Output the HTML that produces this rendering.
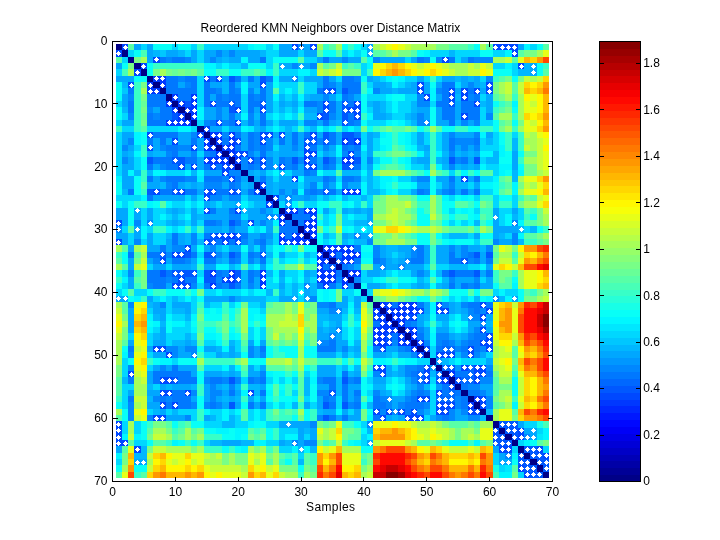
<!DOCTYPE html><html><head><meta charset="utf-8"><title>fig</title><style>html,body{margin:0;padding:0;background:#fff}svg{display:block}text{font-family:"Liberation Sans",sans-serif;fill:#000}</style></head><body>
<svg width="720" height="540" viewBox="0 0 720 540">
<defs><filter id="gs" x="0" y="0" width="720" height="540" filterUnits="userSpaceOnUse" color-interpolation-filters="sRGB"><feColorMatrix type="saturate" values="0"/></filter></defs>
<rect x="0" y="0" width="720" height="540" fill="#fff"/>
<g shape-rendering="crispEdges">
<rect x="116" y="44" width="6" height="6" fill="#000087"/>
<rect x="122" y="44" width="6" height="6" fill="#0048ff"/>
<rect x="128" y="44" width="6" height="6" fill="#58ffa7"/>
<rect x="134" y="44" width="7" height="6" fill="#00a7ff"/>
<rect x="141" y="44" width="6" height="6" fill="#00d7ff"/>
<rect x="147" y="44" width="6" height="6" fill="#00a7ff"/>
<rect x="153" y="44" width="19" height="6" fill="#08fff7"/>
<rect x="172" y="44" width="6" height="6" fill="#00d7ff"/>
<rect x="178" y="44" width="13" height="6" fill="#08fff7"/>
<rect x="191" y="44" width="6" height="6" fill="#00d7ff"/>
<rect x="197" y="44" width="7" height="6" fill="#38ffc7"/>
<rect x="204" y="44" width="44" height="6" fill="#00d7ff"/>
<rect x="248" y="44" width="6" height="6" fill="#00f7ff"/>
<rect x="254" y="44" width="12" height="6" fill="#08fff7"/>
<rect x="266" y="44" width="7" height="6" fill="#00d7ff"/>
<rect x="273" y="44" width="6" height="6" fill="#08fff7"/>
<rect x="279" y="44" width="13" height="6" fill="#00a7ff"/>
<rect x="292" y="44" width="6" height="6" fill="#0048ff"/>
<rect x="298" y="44" width="6" height="6" fill="#0087ff"/>
<rect x="304" y="44" width="6" height="6" fill="#00a7ff"/>
<rect x="310" y="44" width="7" height="6" fill="#0048ff"/>
<rect x="317" y="44" width="6" height="6" fill="#a7ff58"/>
<rect x="323" y="44" width="6" height="6" fill="#38ffc7"/>
<rect x="329" y="44" width="7" height="6" fill="#58ffa7"/>
<rect x="336" y="44" width="6" height="6" fill="#a7ff58"/>
<rect x="342" y="44" width="6" height="6" fill="#08fff7"/>
<rect x="348" y="44" width="6" height="6" fill="#38ffc7"/>
<rect x="354" y="44" width="7" height="6" fill="#08fff7"/>
<rect x="361" y="44" width="6" height="6" fill="#00d7ff"/>
<rect x="367" y="44" width="6" height="6" fill="#00a7ff"/>
<rect x="373" y="44" width="7" height="6" fill="#a7ff58"/>
<rect x="380" y="44" width="6" height="6" fill="#c7ff38"/>
<rect x="386" y="44" width="6" height="6" fill="#e7ff18"/>
<rect x="392" y="44" width="6" height="6" fill="#fff700"/>
<rect x="398" y="44" width="7" height="6" fill="#e7ff18"/>
<rect x="405" y="44" width="6" height="6" fill="#c7ff38"/>
<rect x="411" y="44" width="25" height="6" fill="#a7ff58"/>
<rect x="436" y="44" width="13" height="6" fill="#78ff87"/>
<rect x="449" y="44" width="19" height="6" fill="#58ffa7"/>
<rect x="468" y="44" width="6" height="6" fill="#38ffc7"/>
<rect x="474" y="44" width="6" height="6" fill="#08fff7"/>
<rect x="480" y="44" width="6" height="6" fill="#a7ff58"/>
<rect x="486" y="44" width="7" height="6" fill="#58ffa7"/>
<rect x="493" y="44" width="25" height="6" fill="#0048ff"/>
<rect x="518" y="44" width="6" height="6" fill="#00a7ff"/>
<rect x="524" y="44" width="6" height="6" fill="#00f7ff"/>
<rect x="530" y="44" width="7" height="6" fill="#00d7ff"/>
<rect x="537" y="44" width="6" height="6" fill="#08fff7"/>
<rect x="543" y="44" width="6" height="6" fill="#58ffa7"/>
<rect x="116" y="50" width="6" height="7" fill="#0048ff"/>
<rect x="122" y="50" width="6" height="7" fill="#000087"/>
<rect x="128" y="50" width="6" height="7" fill="#00d7ff"/>
<rect x="134" y="50" width="7" height="7" fill="#08fff7"/>
<rect x="141" y="50" width="6" height="7" fill="#48ffb7"/>
<rect x="147" y="50" width="6" height="7" fill="#00a7ff"/>
<rect x="153" y="50" width="7" height="7" fill="#00b7ff"/>
<rect x="160" y="50" width="6" height="7" fill="#00c7ff"/>
<rect x="166" y="50" width="12" height="7" fill="#00a7ff"/>
<rect x="178" y="50" width="7" height="7" fill="#00b7ff"/>
<rect x="185" y="50" width="6" height="7" fill="#00d7ff"/>
<rect x="191" y="50" width="6" height="7" fill="#00a7ff"/>
<rect x="197" y="50" width="7" height="7" fill="#00d7ff"/>
<rect x="204" y="50" width="12" height="7" fill="#00a7ff"/>
<rect x="216" y="50" width="6" height="7" fill="#0087ff"/>
<rect x="222" y="50" width="7" height="7" fill="#00a7ff"/>
<rect x="229" y="50" width="6" height="7" fill="#0087ff"/>
<rect x="235" y="50" width="25" height="7" fill="#00a7ff"/>
<rect x="260" y="50" width="6" height="7" fill="#00b7ff"/>
<rect x="266" y="50" width="13" height="7" fill="#00d7ff"/>
<rect x="279" y="50" width="19" height="7" fill="#00a7ff"/>
<rect x="298" y="50" width="6" height="7" fill="#00d7ff"/>
<rect x="304" y="50" width="13" height="7" fill="#00a7ff"/>
<rect x="317" y="50" width="6" height="7" fill="#58ffa7"/>
<rect x="323" y="50" width="13" height="7" fill="#08fff7"/>
<rect x="336" y="50" width="6" height="7" fill="#58ffa7"/>
<rect x="342" y="50" width="6" height="7" fill="#00d7ff"/>
<rect x="348" y="50" width="6" height="7" fill="#00f7ff"/>
<rect x="354" y="50" width="7" height="7" fill="#00d7ff"/>
<rect x="361" y="50" width="6" height="7" fill="#08fff7"/>
<rect x="367" y="50" width="6" height="7" fill="#00a7ff"/>
<rect x="373" y="50" width="13" height="7" fill="#58ffa7"/>
<rect x="386" y="50" width="6" height="7" fill="#78ff87"/>
<rect x="392" y="50" width="6" height="7" fill="#a7ff58"/>
<rect x="398" y="50" width="13" height="7" fill="#78ff87"/>
<rect x="411" y="50" width="6" height="7" fill="#58ffa7"/>
<rect x="417" y="50" width="7" height="7" fill="#08fff7"/>
<rect x="424" y="50" width="6" height="7" fill="#00f7ff"/>
<rect x="430" y="50" width="19" height="7" fill="#00d7ff"/>
<rect x="449" y="50" width="6" height="7" fill="#00b7ff"/>
<rect x="455" y="50" width="25" height="7" fill="#00d7ff"/>
<rect x="480" y="50" width="13" height="7" fill="#08fff7"/>
<rect x="493" y="50" width="12" height="7" fill="#00d7ff"/>
<rect x="505" y="50" width="7" height="7" fill="#00f7ff"/>
<rect x="512" y="50" width="6" height="7" fill="#0048ff"/>
<rect x="518" y="50" width="6" height="7" fill="#58ffa7"/>
<rect x="524" y="50" width="13" height="7" fill="#78ff87"/>
<rect x="537" y="50" width="6" height="7" fill="#a7ff58"/>
<rect x="543" y="50" width="6" height="7" fill="#e7ff18"/>
<rect x="116" y="57" width="6" height="6" fill="#58ffa7"/>
<rect x="122" y="57" width="6" height="6" fill="#00d7ff"/>
<rect x="128" y="57" width="6" height="6" fill="#000087"/>
<rect x="134" y="57" width="7" height="6" fill="#78ff87"/>
<rect x="141" y="57" width="6" height="6" fill="#a7ff58"/>
<rect x="147" y="57" width="6" height="6" fill="#00a7ff"/>
<rect x="153" y="57" width="7" height="6" fill="#0048ff"/>
<rect x="160" y="57" width="6" height="6" fill="#0078ff"/>
<rect x="166" y="57" width="6" height="6" fill="#0087ff"/>
<rect x="172" y="57" width="13" height="6" fill="#0078ff"/>
<rect x="185" y="57" width="6" height="6" fill="#0087ff"/>
<rect x="191" y="57" width="6" height="6" fill="#00a7ff"/>
<rect x="197" y="57" width="7" height="6" fill="#00d7ff"/>
<rect x="204" y="57" width="6" height="6" fill="#00a7ff"/>
<rect x="210" y="57" width="6" height="6" fill="#0087ff"/>
<rect x="216" y="57" width="6" height="6" fill="#00a7ff"/>
<rect x="222" y="57" width="7" height="6" fill="#00b7ff"/>
<rect x="229" y="57" width="12" height="6" fill="#00a7ff"/>
<rect x="241" y="57" width="7" height="6" fill="#00f7ff"/>
<rect x="248" y="57" width="12" height="6" fill="#00a7ff"/>
<rect x="260" y="57" width="6" height="6" fill="#0078ff"/>
<rect x="266" y="57" width="7" height="6" fill="#00d7ff"/>
<rect x="273" y="57" width="25" height="6" fill="#08fff7"/>
<rect x="298" y="57" width="6" height="6" fill="#58ffa7"/>
<rect x="304" y="57" width="13" height="6" fill="#00d7ff"/>
<rect x="317" y="57" width="6" height="6" fill="#00a7ff"/>
<rect x="323" y="57" width="6" height="6" fill="#0078ff"/>
<rect x="329" y="57" width="13" height="6" fill="#00a7ff"/>
<rect x="342" y="57" width="6" height="6" fill="#0087ff"/>
<rect x="348" y="57" width="13" height="6" fill="#00a7ff"/>
<rect x="361" y="57" width="6" height="6" fill="#58ffa7"/>
<rect x="367" y="57" width="6" height="6" fill="#08fff7"/>
<rect x="373" y="57" width="7" height="6" fill="#0087ff"/>
<rect x="380" y="57" width="25" height="6" fill="#00a7ff"/>
<rect x="405" y="57" width="6" height="6" fill="#00d7ff"/>
<rect x="411" y="57" width="6" height="6" fill="#00a7ff"/>
<rect x="417" y="57" width="7" height="6" fill="#0078ff"/>
<rect x="424" y="57" width="6" height="6" fill="#0087ff"/>
<rect x="430" y="57" width="6" height="6" fill="#08fff7"/>
<rect x="436" y="57" width="6" height="6" fill="#0087ff"/>
<rect x="442" y="57" width="7" height="6" fill="#0048ff"/>
<rect x="449" y="57" width="6" height="6" fill="#0078ff"/>
<rect x="455" y="57" width="6" height="6" fill="#00d7ff"/>
<rect x="461" y="57" width="7" height="6" fill="#00a7ff"/>
<rect x="468" y="57" width="6" height="6" fill="#0078ff"/>
<rect x="474" y="57" width="19" height="6" fill="#0087ff"/>
<rect x="493" y="57" width="12" height="6" fill="#a7ff58"/>
<rect x="505" y="57" width="7" height="6" fill="#c7ff38"/>
<rect x="512" y="57" width="6" height="6" fill="#58ffa7"/>
<rect x="518" y="57" width="6" height="6" fill="#e7ff18"/>
<rect x="524" y="57" width="6" height="6" fill="#ffb700"/>
<rect x="530" y="57" width="7" height="6" fill="#ffd700"/>
<rect x="537" y="57" width="6" height="6" fill="#ff9700"/>
<rect x="543" y="57" width="6" height="6" fill="#ff4800"/>
<rect x="116" y="63" width="6" height="6" fill="#00a7ff"/>
<rect x="122" y="63" width="6" height="6" fill="#08fff7"/>
<rect x="128" y="63" width="6" height="6" fill="#78ff87"/>
<rect x="134" y="63" width="7" height="6" fill="#000087"/>
<rect x="141" y="63" width="6" height="6" fill="#0048ff"/>
<rect x="147" y="63" width="6" height="6" fill="#08fff7"/>
<rect x="153" y="63" width="51" height="6" fill="#38ffc7"/>
<rect x="204" y="63" width="12" height="6" fill="#00f7ff"/>
<rect x="216" y="63" width="6" height="6" fill="#00d7ff"/>
<rect x="222" y="63" width="7" height="6" fill="#00f7ff"/>
<rect x="229" y="63" width="12" height="6" fill="#00d7ff"/>
<rect x="241" y="63" width="7" height="6" fill="#00b7ff"/>
<rect x="248" y="63" width="18" height="6" fill="#08fff7"/>
<rect x="266" y="63" width="7" height="6" fill="#00d7ff"/>
<rect x="273" y="63" width="6" height="6" fill="#38ffc7"/>
<rect x="279" y="63" width="13" height="6" fill="#00a7ff"/>
<rect x="292" y="63" width="6" height="6" fill="#0087ff"/>
<rect x="298" y="63" width="12" height="6" fill="#00a7ff"/>
<rect x="310" y="63" width="7" height="6" fill="#0087ff"/>
<rect x="317" y="63" width="6" height="6" fill="#a7ff58"/>
<rect x="323" y="63" width="6" height="6" fill="#58ffa7"/>
<rect x="329" y="63" width="7" height="6" fill="#78ff87"/>
<rect x="336" y="63" width="6" height="6" fill="#c7ff38"/>
<rect x="342" y="63" width="6" height="6" fill="#38ffc7"/>
<rect x="348" y="63" width="6" height="6" fill="#58ffa7"/>
<rect x="354" y="63" width="7" height="6" fill="#38ffc7"/>
<rect x="361" y="63" width="6" height="6" fill="#00d7ff"/>
<rect x="367" y="63" width="6" height="6" fill="#00f7ff"/>
<rect x="373" y="63" width="7" height="6" fill="#e7ff18"/>
<rect x="380" y="63" width="6" height="6" fill="#fff700"/>
<rect x="386" y="63" width="6" height="6" fill="#ffd700"/>
<rect x="392" y="63" width="6" height="6" fill="#ffb700"/>
<rect x="398" y="63" width="7" height="6" fill="#ffd700"/>
<rect x="405" y="63" width="6" height="6" fill="#fff700"/>
<rect x="411" y="63" width="6" height="6" fill="#e7ff18"/>
<rect x="417" y="63" width="7" height="6" fill="#c7ff38"/>
<rect x="424" y="63" width="6" height="6" fill="#e7ff18"/>
<rect x="430" y="63" width="6" height="6" fill="#fff700"/>
<rect x="436" y="63" width="6" height="6" fill="#e7ff18"/>
<rect x="442" y="63" width="7" height="6" fill="#c7ff38"/>
<rect x="449" y="63" width="19" height="6" fill="#a7ff58"/>
<rect x="468" y="63" width="6" height="6" fill="#c7ff38"/>
<rect x="474" y="63" width="6" height="6" fill="#a7ff58"/>
<rect x="480" y="63" width="6" height="6" fill="#e7ff18"/>
<rect x="486" y="63" width="7" height="6" fill="#c7ff38"/>
<rect x="493" y="63" width="12" height="6" fill="#00d7ff"/>
<rect x="505" y="63" width="7" height="6" fill="#00f7ff"/>
<rect x="512" y="63" width="6" height="6" fill="#00d7ff"/>
<rect x="518" y="63" width="6" height="6" fill="#0048ff"/>
<rect x="524" y="63" width="6" height="6" fill="#00b7ff"/>
<rect x="530" y="63" width="7" height="6" fill="#00a7ff"/>
<rect x="537" y="63" width="6" height="6" fill="#08fff7"/>
<rect x="543" y="63" width="6" height="6" fill="#38ffc7"/>
<rect x="116" y="69" width="6" height="7" fill="#00d7ff"/>
<rect x="122" y="69" width="6" height="7" fill="#48ffb7"/>
<rect x="128" y="69" width="6" height="7" fill="#a7ff58"/>
<rect x="134" y="69" width="7" height="7" fill="#0048ff"/>
<rect x="141" y="69" width="6" height="7" fill="#000087"/>
<rect x="147" y="69" width="6" height="7" fill="#08fff7"/>
<rect x="153" y="69" width="7" height="7" fill="#78ff87"/>
<rect x="160" y="69" width="6" height="7" fill="#a7ff58"/>
<rect x="166" y="69" width="6" height="7" fill="#78ff87"/>
<rect x="172" y="69" width="6" height="7" fill="#68ff97"/>
<rect x="178" y="69" width="7" height="7" fill="#78ff87"/>
<rect x="185" y="69" width="6" height="7" fill="#68ff97"/>
<rect x="191" y="69" width="6" height="7" fill="#78ff87"/>
<rect x="197" y="69" width="7" height="7" fill="#58ffa7"/>
<rect x="204" y="69" width="12" height="7" fill="#08fff7"/>
<rect x="216" y="69" width="13" height="7" fill="#38ffc7"/>
<rect x="229" y="69" width="12" height="7" fill="#08fff7"/>
<rect x="241" y="69" width="13" height="7" fill="#38ffc7"/>
<rect x="254" y="69" width="6" height="7" fill="#58ffa7"/>
<rect x="260" y="69" width="6" height="7" fill="#38ffc7"/>
<rect x="266" y="69" width="7" height="7" fill="#00f7ff"/>
<rect x="273" y="69" width="6" height="7" fill="#38ffc7"/>
<rect x="279" y="69" width="19" height="7" fill="#00d7ff"/>
<rect x="298" y="69" width="12" height="7" fill="#00f7ff"/>
<rect x="310" y="69" width="7" height="7" fill="#00d7ff"/>
<rect x="317" y="69" width="6" height="7" fill="#c7ff38"/>
<rect x="323" y="69" width="6" height="7" fill="#a7ff58"/>
<rect x="329" y="69" width="7" height="7" fill="#c7ff38"/>
<rect x="336" y="69" width="6" height="7" fill="#e7ff18"/>
<rect x="342" y="69" width="19" height="7" fill="#78ff87"/>
<rect x="361" y="69" width="6" height="7" fill="#00d7ff"/>
<rect x="367" y="69" width="6" height="7" fill="#38ffc7"/>
<rect x="373" y="69" width="7" height="7" fill="#fff700"/>
<rect x="380" y="69" width="6" height="7" fill="#ffd700"/>
<rect x="386" y="69" width="6" height="7" fill="#ffb700"/>
<rect x="392" y="69" width="6" height="7" fill="#ff9700"/>
<rect x="398" y="69" width="7" height="7" fill="#ffb700"/>
<rect x="405" y="69" width="6" height="7" fill="#ffd700"/>
<rect x="411" y="69" width="6" height="7" fill="#fff700"/>
<rect x="417" y="69" width="7" height="7" fill="#e7ff18"/>
<rect x="424" y="69" width="6" height="7" fill="#fff700"/>
<rect x="430" y="69" width="6" height="7" fill="#ffd700"/>
<rect x="436" y="69" width="6" height="7" fill="#fff700"/>
<rect x="442" y="69" width="7" height="7" fill="#e7ff18"/>
<rect x="449" y="69" width="6" height="7" fill="#c7ff38"/>
<rect x="455" y="69" width="13" height="7" fill="#a7ff58"/>
<rect x="468" y="69" width="12" height="7" fill="#c7ff38"/>
<rect x="480" y="69" width="6" height="7" fill="#fff700"/>
<rect x="486" y="69" width="7" height="7" fill="#e7ff18"/>
<rect x="493" y="69" width="19" height="7" fill="#08fff7"/>
<rect x="512" y="69" width="6" height="7" fill="#00d7ff"/>
<rect x="518" y="69" width="12" height="7" fill="#00b7ff"/>
<rect x="530" y="69" width="7" height="7" fill="#00a7ff"/>
<rect x="537" y="69" width="6" height="7" fill="#08fff7"/>
<rect x="543" y="69" width="6" height="7" fill="#58ffa7"/>
<rect x="116" y="76" width="6" height="6" fill="#00a7ff"/>
<rect x="122" y="76" width="12" height="6" fill="#00a7ff"/>
<rect x="134" y="76" width="13" height="6" fill="#08fff7"/>
<rect x="147" y="76" width="6" height="6" fill="#000087"/>
<rect x="153" y="76" width="13" height="6" fill="#0038ff"/>
<rect x="166" y="76" width="12" height="6" fill="#0078ff"/>
<rect x="178" y="76" width="7" height="6" fill="#0087ff"/>
<rect x="185" y="76" width="12" height="6" fill="#0078ff"/>
<rect x="197" y="76" width="7" height="6" fill="#00d7ff"/>
<rect x="204" y="76" width="6" height="6" fill="#0048ff"/>
<rect x="210" y="76" width="6" height="6" fill="#0078ff"/>
<rect x="216" y="76" width="6" height="6" fill="#0048ff"/>
<rect x="222" y="76" width="7" height="6" fill="#00a7ff"/>
<rect x="229" y="76" width="6" height="6" fill="#0058ff"/>
<rect x="235" y="76" width="6" height="6" fill="#0078ff"/>
<rect x="241" y="76" width="7" height="6" fill="#00b7ff"/>
<rect x="248" y="76" width="6" height="6" fill="#0078ff"/>
<rect x="254" y="76" width="6" height="6" fill="#00a7ff"/>
<rect x="260" y="76" width="6" height="6" fill="#0058ff"/>
<rect x="266" y="76" width="7" height="6" fill="#0078ff"/>
<rect x="273" y="76" width="6" height="6" fill="#00f7ff"/>
<rect x="279" y="76" width="13" height="6" fill="#00a7ff"/>
<rect x="292" y="76" width="6" height="6" fill="#0087ff"/>
<rect x="298" y="76" width="6" height="6" fill="#00d7ff"/>
<rect x="304" y="76" width="19" height="6" fill="#00a7ff"/>
<rect x="323" y="76" width="6" height="6" fill="#0078ff"/>
<rect x="329" y="76" width="7" height="6" fill="#00a7ff"/>
<rect x="336" y="76" width="6" height="6" fill="#00d7ff"/>
<rect x="342" y="76" width="12" height="6" fill="#0078ff"/>
<rect x="354" y="76" width="7" height="6" fill="#0087ff"/>
<rect x="361" y="76" width="6" height="6" fill="#08fff7"/>
<rect x="367" y="76" width="6" height="6" fill="#00a7ff"/>
<rect x="373" y="76" width="7" height="6" fill="#00b7ff"/>
<rect x="380" y="76" width="6" height="6" fill="#00d7ff"/>
<rect x="386" y="76" width="6" height="6" fill="#00f7ff"/>
<rect x="392" y="76" width="6" height="6" fill="#08fff7"/>
<rect x="398" y="76" width="7" height="6" fill="#00f7ff"/>
<rect x="405" y="76" width="12" height="6" fill="#00d7ff"/>
<rect x="417" y="76" width="7" height="6" fill="#00a7ff"/>
<rect x="424" y="76" width="6" height="6" fill="#00d7ff"/>
<rect x="430" y="76" width="6" height="6" fill="#38ffc7"/>
<rect x="436" y="76" width="6" height="6" fill="#00d7ff"/>
<rect x="442" y="76" width="13" height="6" fill="#00a7ff"/>
<rect x="455" y="76" width="6" height="6" fill="#00b7ff"/>
<rect x="461" y="76" width="7" height="6" fill="#00a7ff"/>
<rect x="468" y="76" width="6" height="6" fill="#00b7ff"/>
<rect x="474" y="76" width="6" height="6" fill="#00a7ff"/>
<rect x="480" y="76" width="6" height="6" fill="#00d7ff"/>
<rect x="486" y="76" width="7" height="6" fill="#0087ff"/>
<rect x="493" y="76" width="6" height="6" fill="#38ffc7"/>
<rect x="499" y="76" width="6" height="6" fill="#58ffa7"/>
<rect x="505" y="76" width="7" height="6" fill="#78ff87"/>
<rect x="512" y="76" width="6" height="6" fill="#08fff7"/>
<rect x="518" y="76" width="6" height="6" fill="#78ff87"/>
<rect x="524" y="76" width="6" height="6" fill="#c7ff38"/>
<rect x="530" y="76" width="7" height="6" fill="#a7ff58"/>
<rect x="537" y="76" width="6" height="6" fill="#c7ff38"/>
<rect x="543" y="76" width="6" height="6" fill="#ffd700"/>
<rect x="116" y="82" width="6" height="6" fill="#08fff7"/>
<rect x="122" y="82" width="6" height="6" fill="#00b7ff"/>
<rect x="128" y="82" width="6" height="6" fill="#0048ff"/>
<rect x="134" y="82" width="7" height="6" fill="#38ffc7"/>
<rect x="141" y="82" width="6" height="6" fill="#78ff87"/>
<rect x="147" y="82" width="6" height="6" fill="#0038ff"/>
<rect x="153" y="82" width="7" height="6" fill="#000087"/>
<rect x="160" y="82" width="6" height="6" fill="#0038ff"/>
<rect x="166" y="82" width="12" height="6" fill="#0078ff"/>
<rect x="178" y="82" width="7" height="6" fill="#00a7ff"/>
<rect x="185" y="82" width="6" height="6" fill="#0087ff"/>
<rect x="191" y="82" width="6" height="6" fill="#0078ff"/>
<rect x="197" y="82" width="7" height="6" fill="#00d7ff"/>
<rect x="204" y="82" width="6" height="6" fill="#0078ff"/>
<rect x="210" y="82" width="12" height="6" fill="#00a7ff"/>
<rect x="222" y="82" width="7" height="6" fill="#00b7ff"/>
<rect x="229" y="82" width="6" height="6" fill="#0078ff"/>
<rect x="235" y="82" width="6" height="6" fill="#00a7ff"/>
<rect x="241" y="82" width="7" height="6" fill="#00f7ff"/>
<rect x="248" y="82" width="12" height="6" fill="#00a7ff"/>
<rect x="260" y="82" width="6" height="6" fill="#0048ff"/>
<rect x="266" y="82" width="7" height="6" fill="#00a7ff"/>
<rect x="273" y="82" width="6" height="6" fill="#08fff7"/>
<rect x="279" y="82" width="19" height="6" fill="#00d7ff"/>
<rect x="298" y="82" width="6" height="6" fill="#38ffc7"/>
<rect x="304" y="82" width="13" height="6" fill="#00d7ff"/>
<rect x="317" y="82" width="6" height="6" fill="#00a7ff"/>
<rect x="323" y="82" width="6" height="6" fill="#0078ff"/>
<rect x="329" y="82" width="7" height="6" fill="#0087ff"/>
<rect x="336" y="82" width="6" height="6" fill="#00a7ff"/>
<rect x="342" y="82" width="19" height="6" fill="#0078ff"/>
<rect x="361" y="82" width="6" height="6" fill="#38ffc7"/>
<rect x="367" y="82" width="6" height="6" fill="#00d7ff"/>
<rect x="373" y="82" width="13" height="6" fill="#00a7ff"/>
<rect x="386" y="82" width="6" height="6" fill="#00b7ff"/>
<rect x="392" y="82" width="6" height="6" fill="#00f7ff"/>
<rect x="398" y="82" width="7" height="6" fill="#00d7ff"/>
<rect x="405" y="82" width="6" height="6" fill="#00b7ff"/>
<rect x="411" y="82" width="6" height="6" fill="#00a7ff"/>
<rect x="417" y="82" width="7" height="6" fill="#0048ff"/>
<rect x="424" y="82" width="6" height="6" fill="#00a7ff"/>
<rect x="430" y="82" width="6" height="6" fill="#08fff7"/>
<rect x="436" y="82" width="6" height="6" fill="#00a7ff"/>
<rect x="442" y="82" width="13" height="6" fill="#0078ff"/>
<rect x="455" y="82" width="6" height="6" fill="#00d7ff"/>
<rect x="461" y="82" width="7" height="6" fill="#00a7ff"/>
<rect x="468" y="82" width="6" height="6" fill="#0087ff"/>
<rect x="474" y="82" width="6" height="6" fill="#00a7ff"/>
<rect x="480" y="82" width="6" height="6" fill="#00b7ff"/>
<rect x="486" y="82" width="7" height="6" fill="#0048ff"/>
<rect x="493" y="82" width="6" height="6" fill="#78ff87"/>
<rect x="499" y="82" width="6" height="6" fill="#a7ff58"/>
<rect x="505" y="82" width="7" height="6" fill="#c7ff38"/>
<rect x="512" y="82" width="6" height="6" fill="#58ffa7"/>
<rect x="518" y="82" width="6" height="6" fill="#c7ff38"/>
<rect x="524" y="82" width="6" height="6" fill="#ffd700"/>
<rect x="530" y="82" width="7" height="6" fill="#fff700"/>
<rect x="537" y="82" width="6" height="6" fill="#ffd700"/>
<rect x="543" y="82" width="6" height="6" fill="#ff9700"/>
<rect x="116" y="88" width="6" height="6" fill="#08fff7"/>
<rect x="122" y="88" width="6" height="6" fill="#00c7ff"/>
<rect x="128" y="88" width="6" height="6" fill="#0078ff"/>
<rect x="134" y="88" width="7" height="6" fill="#38ffc7"/>
<rect x="141" y="88" width="6" height="6" fill="#a7ff58"/>
<rect x="147" y="88" width="13" height="6" fill="#0038ff"/>
<rect x="160" y="88" width="6" height="6" fill="#000087"/>
<rect x="166" y="88" width="31" height="6" fill="#0078ff"/>
<rect x="197" y="88" width="7" height="6" fill="#00d7ff"/>
<rect x="204" y="88" width="12" height="6" fill="#0078ff"/>
<rect x="216" y="88" width="6" height="6" fill="#0087ff"/>
<rect x="222" y="88" width="7" height="6" fill="#00b7ff"/>
<rect x="229" y="88" width="6" height="6" fill="#0078ff"/>
<rect x="235" y="88" width="6" height="6" fill="#0087ff"/>
<rect x="241" y="88" width="7" height="6" fill="#00f7ff"/>
<rect x="248" y="88" width="6" height="6" fill="#0087ff"/>
<rect x="254" y="88" width="6" height="6" fill="#00b7ff"/>
<rect x="260" y="88" width="6" height="6" fill="#0078ff"/>
<rect x="266" y="88" width="7" height="6" fill="#00a7ff"/>
<rect x="273" y="88" width="6" height="6" fill="#58ffa7"/>
<rect x="279" y="88" width="6" height="6" fill="#00d7ff"/>
<rect x="285" y="88" width="7" height="6" fill="#00f7ff"/>
<rect x="292" y="88" width="6" height="6" fill="#00d7ff"/>
<rect x="298" y="88" width="6" height="6" fill="#38ffc7"/>
<rect x="304" y="88" width="13" height="6" fill="#00d7ff"/>
<rect x="317" y="88" width="6" height="6" fill="#0078ff"/>
<rect x="323" y="88" width="6" height="6" fill="#0058ff"/>
<rect x="329" y="88" width="7" height="6" fill="#0048ff"/>
<rect x="336" y="88" width="6" height="6" fill="#00a7ff"/>
<rect x="342" y="88" width="6" height="6" fill="#0058ff"/>
<rect x="348" y="88" width="13" height="6" fill="#0078ff"/>
<rect x="361" y="88" width="6" height="6" fill="#38ffc7"/>
<rect x="367" y="88" width="6" height="6" fill="#00f7ff"/>
<rect x="373" y="88" width="7" height="6" fill="#0087ff"/>
<rect x="380" y="88" width="12" height="6" fill="#00a7ff"/>
<rect x="392" y="88" width="6" height="6" fill="#00b7ff"/>
<rect x="398" y="88" width="19" height="6" fill="#00a7ff"/>
<rect x="417" y="88" width="7" height="6" fill="#0048ff"/>
<rect x="424" y="88" width="6" height="6" fill="#00a7ff"/>
<rect x="430" y="88" width="6" height="6" fill="#00f7ff"/>
<rect x="436" y="88" width="6" height="6" fill="#0087ff"/>
<rect x="442" y="88" width="7" height="6" fill="#0078ff"/>
<rect x="449" y="88" width="6" height="6" fill="#0048ff"/>
<rect x="455" y="88" width="6" height="6" fill="#00a7ff"/>
<rect x="461" y="88" width="7" height="6" fill="#0048ff"/>
<rect x="468" y="88" width="6" height="6" fill="#0078ff"/>
<rect x="474" y="88" width="6" height="6" fill="#0048ff"/>
<rect x="480" y="88" width="6" height="6" fill="#00a7ff"/>
<rect x="486" y="88" width="7" height="6" fill="#0048ff"/>
<rect x="493" y="88" width="6" height="6" fill="#78ff87"/>
<rect x="499" y="88" width="6" height="6" fill="#a7ff58"/>
<rect x="505" y="88" width="7" height="6" fill="#c7ff38"/>
<rect x="512" y="88" width="6" height="6" fill="#58ffa7"/>
<rect x="518" y="88" width="6" height="6" fill="#c7ff38"/>
<rect x="524" y="88" width="6" height="6" fill="#ffb700"/>
<rect x="530" y="88" width="7" height="6" fill="#ffd700"/>
<rect x="537" y="88" width="6" height="6" fill="#ffb700"/>
<rect x="543" y="88" width="6" height="6" fill="#ff7800"/>
<rect x="116" y="94" width="6" height="7" fill="#08fff7"/>
<rect x="122" y="94" width="6" height="7" fill="#00a7ff"/>
<rect x="128" y="94" width="6" height="7" fill="#0087ff"/>
<rect x="134" y="94" width="7" height="7" fill="#38ffc7"/>
<rect x="141" y="94" width="6" height="7" fill="#78ff87"/>
<rect x="147" y="94" width="19" height="7" fill="#0078ff"/>
<rect x="166" y="94" width="6" height="7" fill="#000087"/>
<rect x="172" y="94" width="6" height="7" fill="#0038ff"/>
<rect x="178" y="94" width="13" height="7" fill="#0078ff"/>
<rect x="191" y="94" width="6" height="7" fill="#0038ff"/>
<rect x="197" y="94" width="7" height="7" fill="#00d7ff"/>
<rect x="204" y="94" width="6" height="7" fill="#0078ff"/>
<rect x="210" y="94" width="6" height="7" fill="#00a7ff"/>
<rect x="216" y="94" width="6" height="7" fill="#0078ff"/>
<rect x="222" y="94" width="7" height="7" fill="#0087ff"/>
<rect x="229" y="94" width="12" height="7" fill="#0078ff"/>
<rect x="241" y="94" width="7" height="7" fill="#00d7ff"/>
<rect x="248" y="94" width="6" height="7" fill="#0078ff"/>
<rect x="254" y="94" width="6" height="7" fill="#0087ff"/>
<rect x="260" y="94" width="6" height="7" fill="#0078ff"/>
<rect x="266" y="94" width="7" height="7" fill="#00a7ff"/>
<rect x="273" y="94" width="6" height="7" fill="#00f7ff"/>
<rect x="279" y="94" width="6" height="7" fill="#00b7ff"/>
<rect x="285" y="94" width="7" height="7" fill="#00d7ff"/>
<rect x="292" y="94" width="6" height="7" fill="#00b7ff"/>
<rect x="298" y="94" width="6" height="7" fill="#00f7ff"/>
<rect x="304" y="94" width="6" height="7" fill="#00b7ff"/>
<rect x="310" y="94" width="13" height="7" fill="#00a7ff"/>
<rect x="323" y="94" width="6" height="7" fill="#0087ff"/>
<rect x="329" y="94" width="7" height="7" fill="#00a7ff"/>
<rect x="336" y="94" width="6" height="7" fill="#00d7ff"/>
<rect x="342" y="94" width="6" height="7" fill="#0078ff"/>
<rect x="348" y="94" width="6" height="7" fill="#0087ff"/>
<rect x="354" y="94" width="7" height="7" fill="#00a7ff"/>
<rect x="361" y="94" width="6" height="7" fill="#08fff7"/>
<rect x="367" y="94" width="19" height="7" fill="#00d7ff"/>
<rect x="386" y="94" width="6" height="7" fill="#00f7ff"/>
<rect x="392" y="94" width="13" height="7" fill="#08fff7"/>
<rect x="405" y="94" width="12" height="7" fill="#00d7ff"/>
<rect x="417" y="94" width="7" height="7" fill="#0087ff"/>
<rect x="424" y="94" width="6" height="7" fill="#0048ff"/>
<rect x="430" y="94" width="6" height="7" fill="#00f7ff"/>
<rect x="436" y="94" width="6" height="7" fill="#00a7ff"/>
<rect x="442" y="94" width="7" height="7" fill="#0078ff"/>
<rect x="449" y="94" width="6" height="7" fill="#0048ff"/>
<rect x="455" y="94" width="6" height="7" fill="#00b7ff"/>
<rect x="461" y="94" width="7" height="7" fill="#0048ff"/>
<rect x="468" y="94" width="6" height="7" fill="#0087ff"/>
<rect x="474" y="94" width="6" height="7" fill="#0078ff"/>
<rect x="480" y="94" width="6" height="7" fill="#00d7ff"/>
<rect x="486" y="94" width="7" height="7" fill="#00a7ff"/>
<rect x="493" y="94" width="6" height="7" fill="#58ffa7"/>
<rect x="499" y="94" width="6" height="7" fill="#78ff87"/>
<rect x="505" y="94" width="7" height="7" fill="#a7ff58"/>
<rect x="512" y="94" width="6" height="7" fill="#38ffc7"/>
<rect x="518" y="94" width="6" height="7" fill="#a7ff58"/>
<rect x="524" y="94" width="6" height="7" fill="#fff700"/>
<rect x="530" y="94" width="7" height="7" fill="#e7ff18"/>
<rect x="537" y="94" width="6" height="7" fill="#fff700"/>
<rect x="543" y="94" width="6" height="7" fill="#ffb700"/>
<rect x="116" y="101" width="6" height="6" fill="#00d7ff"/>
<rect x="122" y="101" width="6" height="6" fill="#00a7ff"/>
<rect x="128" y="101" width="6" height="6" fill="#0078ff"/>
<rect x="134" y="101" width="7" height="6" fill="#38ffc7"/>
<rect x="141" y="101" width="6" height="6" fill="#68ff97"/>
<rect x="147" y="101" width="19" height="6" fill="#0078ff"/>
<rect x="166" y="101" width="6" height="6" fill="#0038ff"/>
<rect x="172" y="101" width="6" height="6" fill="#000087"/>
<rect x="178" y="101" width="7" height="6" fill="#0038ff"/>
<rect x="185" y="101" width="6" height="6" fill="#0058ff"/>
<rect x="191" y="101" width="6" height="6" fill="#0038ff"/>
<rect x="197" y="101" width="7" height="6" fill="#00d7ff"/>
<rect x="204" y="101" width="6" height="6" fill="#0078ff"/>
<rect x="210" y="101" width="6" height="6" fill="#0048ff"/>
<rect x="216" y="101" width="13" height="6" fill="#0078ff"/>
<rect x="229" y="101" width="6" height="6" fill="#0058ff"/>
<rect x="235" y="101" width="6" height="6" fill="#0078ff"/>
<rect x="241" y="101" width="7" height="6" fill="#00d7ff"/>
<rect x="248" y="101" width="12" height="6" fill="#0078ff"/>
<rect x="260" y="101" width="6" height="6" fill="#0058ff"/>
<rect x="266" y="101" width="7" height="6" fill="#00a7ff"/>
<rect x="273" y="101" width="6" height="6" fill="#00d7ff"/>
<rect x="279" y="101" width="6" height="6" fill="#00a7ff"/>
<rect x="285" y="101" width="7" height="6" fill="#00b7ff"/>
<rect x="292" y="101" width="6" height="6" fill="#00a7ff"/>
<rect x="298" y="101" width="6" height="6" fill="#00d7ff"/>
<rect x="304" y="101" width="13" height="6" fill="#0078ff"/>
<rect x="317" y="101" width="6" height="6" fill="#0087ff"/>
<rect x="323" y="101" width="6" height="6" fill="#0048ff"/>
<rect x="329" y="101" width="7" height="6" fill="#0078ff"/>
<rect x="336" y="101" width="6" height="6" fill="#00a7ff"/>
<rect x="342" y="101" width="6" height="6" fill="#0058ff"/>
<rect x="348" y="101" width="6" height="6" fill="#0078ff"/>
<rect x="354" y="101" width="7" height="6" fill="#0048ff"/>
<rect x="361" y="101" width="6" height="6" fill="#08fff7"/>
<rect x="367" y="101" width="6" height="6" fill="#00b7ff"/>
<rect x="373" y="101" width="7" height="6" fill="#00a7ff"/>
<rect x="380" y="101" width="6" height="6" fill="#00b7ff"/>
<rect x="386" y="101" width="6" height="6" fill="#00d7ff"/>
<rect x="392" y="101" width="6" height="6" fill="#00f7ff"/>
<rect x="398" y="101" width="13" height="6" fill="#00d7ff"/>
<rect x="411" y="101" width="6" height="6" fill="#00b7ff"/>
<rect x="417" y="101" width="13" height="6" fill="#0087ff"/>
<rect x="430" y="101" width="6" height="6" fill="#00d7ff"/>
<rect x="436" y="101" width="13" height="6" fill="#0078ff"/>
<rect x="449" y="101" width="6" height="6" fill="#0058ff"/>
<rect x="455" y="101" width="6" height="6" fill="#00a7ff"/>
<rect x="461" y="101" width="13" height="6" fill="#0078ff"/>
<rect x="474" y="101" width="6" height="6" fill="#0048ff"/>
<rect x="480" y="101" width="6" height="6" fill="#00b7ff"/>
<rect x="486" y="101" width="7" height="6" fill="#00a7ff"/>
<rect x="493" y="101" width="6" height="6" fill="#08fff7"/>
<rect x="499" y="101" width="6" height="6" fill="#38ffc7"/>
<rect x="505" y="101" width="7" height="6" fill="#58ffa7"/>
<rect x="512" y="101" width="6" height="6" fill="#00f7ff"/>
<rect x="518" y="101" width="6" height="6" fill="#a7ff58"/>
<rect x="524" y="101" width="6" height="6" fill="#e7ff18"/>
<rect x="530" y="101" width="7" height="6" fill="#c7ff38"/>
<rect x="537" y="101" width="6" height="6" fill="#fff700"/>
<rect x="543" y="101" width="6" height="6" fill="#ffb700"/>
<rect x="116" y="107" width="6" height="6" fill="#08fff7"/>
<rect x="122" y="107" width="6" height="6" fill="#00b7ff"/>
<rect x="128" y="107" width="6" height="6" fill="#0078ff"/>
<rect x="134" y="107" width="7" height="6" fill="#38ffc7"/>
<rect x="141" y="107" width="6" height="6" fill="#78ff87"/>
<rect x="147" y="107" width="6" height="6" fill="#0087ff"/>
<rect x="153" y="107" width="7" height="6" fill="#00a7ff"/>
<rect x="160" y="107" width="12" height="6" fill="#0078ff"/>
<rect x="172" y="107" width="6" height="6" fill="#0038ff"/>
<rect x="178" y="107" width="7" height="6" fill="#000087"/>
<rect x="185" y="107" width="12" height="6" fill="#0038ff"/>
<rect x="197" y="107" width="7" height="6" fill="#00f7ff"/>
<rect x="204" y="107" width="12" height="6" fill="#00a7ff"/>
<rect x="216" y="107" width="6" height="6" fill="#0087ff"/>
<rect x="222" y="107" width="7" height="6" fill="#00a7ff"/>
<rect x="229" y="107" width="6" height="6" fill="#0058ff"/>
<rect x="235" y="107" width="6" height="6" fill="#0048ff"/>
<rect x="241" y="107" width="7" height="6" fill="#00d7ff"/>
<rect x="248" y="107" width="6" height="6" fill="#0078ff"/>
<rect x="254" y="107" width="6" height="6" fill="#00a7ff"/>
<rect x="260" y="107" width="6" height="6" fill="#0048ff"/>
<rect x="266" y="107" width="7" height="6" fill="#00a7ff"/>
<rect x="273" y="107" width="6" height="6" fill="#00d7ff"/>
<rect x="279" y="107" width="6" height="6" fill="#00b7ff"/>
<rect x="285" y="107" width="7" height="6" fill="#00d7ff"/>
<rect x="292" y="107" width="6" height="6" fill="#00b7ff"/>
<rect x="298" y="107" width="6" height="6" fill="#00f7ff"/>
<rect x="304" y="107" width="13" height="6" fill="#00a7ff"/>
<rect x="317" y="107" width="6" height="6" fill="#0087ff"/>
<rect x="323" y="107" width="6" height="6" fill="#0048ff"/>
<rect x="329" y="107" width="7" height="6" fill="#0078ff"/>
<rect x="336" y="107" width="6" height="6" fill="#00a7ff"/>
<rect x="342" y="107" width="6" height="6" fill="#0058ff"/>
<rect x="348" y="107" width="13" height="6" fill="#0048ff"/>
<rect x="361" y="107" width="6" height="6" fill="#08fff7"/>
<rect x="367" y="107" width="6" height="6" fill="#00d7ff"/>
<rect x="373" y="107" width="7" height="6" fill="#00a7ff"/>
<rect x="380" y="107" width="6" height="6" fill="#00b7ff"/>
<rect x="386" y="107" width="6" height="6" fill="#00d7ff"/>
<rect x="392" y="107" width="6" height="6" fill="#00f7ff"/>
<rect x="398" y="107" width="13" height="6" fill="#00d7ff"/>
<rect x="411" y="107" width="6" height="6" fill="#00b7ff"/>
<rect x="417" y="107" width="13" height="6" fill="#00a7ff"/>
<rect x="430" y="107" width="6" height="6" fill="#08fff7"/>
<rect x="436" y="107" width="6" height="6" fill="#00a7ff"/>
<rect x="442" y="107" width="13" height="6" fill="#0078ff"/>
<rect x="455" y="107" width="6" height="6" fill="#00a7ff"/>
<rect x="461" y="107" width="19" height="6" fill="#0078ff"/>
<rect x="480" y="107" width="6" height="6" fill="#00d7ff"/>
<rect x="486" y="107" width="7" height="6" fill="#00a7ff"/>
<rect x="493" y="107" width="6" height="6" fill="#38ffc7"/>
<rect x="499" y="107" width="6" height="6" fill="#58ffa7"/>
<rect x="505" y="107" width="7" height="6" fill="#78ff87"/>
<rect x="512" y="107" width="6" height="6" fill="#08fff7"/>
<rect x="518" y="107" width="6" height="6" fill="#a7ff58"/>
<rect x="524" y="107" width="13" height="6" fill="#e7ff18"/>
<rect x="537" y="107" width="6" height="6" fill="#fff700"/>
<rect x="543" y="107" width="6" height="6" fill="#ffb700"/>
<rect x="116" y="113" width="6" height="7" fill="#08fff7"/>
<rect x="122" y="113" width="6" height="7" fill="#00d7ff"/>
<rect x="128" y="113" width="6" height="7" fill="#0087ff"/>
<rect x="134" y="113" width="7" height="7" fill="#38ffc7"/>
<rect x="141" y="113" width="6" height="7" fill="#68ff97"/>
<rect x="147" y="113" width="6" height="7" fill="#0078ff"/>
<rect x="153" y="113" width="7" height="7" fill="#0087ff"/>
<rect x="160" y="113" width="12" height="7" fill="#0078ff"/>
<rect x="172" y="113" width="6" height="7" fill="#0058ff"/>
<rect x="178" y="113" width="7" height="7" fill="#0038ff"/>
<rect x="185" y="113" width="6" height="7" fill="#000087"/>
<rect x="191" y="113" width="6" height="7" fill="#0038ff"/>
<rect x="197" y="113" width="7" height="7" fill="#00f7ff"/>
<rect x="204" y="113" width="12" height="7" fill="#00a7ff"/>
<rect x="216" y="113" width="6" height="7" fill="#0087ff"/>
<rect x="222" y="113" width="7" height="7" fill="#00a7ff"/>
<rect x="229" y="113" width="6" height="7" fill="#0078ff"/>
<rect x="235" y="113" width="6" height="7" fill="#00a7ff"/>
<rect x="241" y="113" width="7" height="7" fill="#00f7ff"/>
<rect x="248" y="113" width="6" height="7" fill="#0087ff"/>
<rect x="254" y="113" width="6" height="7" fill="#00b7ff"/>
<rect x="260" y="113" width="6" height="7" fill="#0078ff"/>
<rect x="266" y="113" width="7" height="7" fill="#00d7ff"/>
<rect x="273" y="113" width="6" height="7" fill="#00f7ff"/>
<rect x="279" y="113" width="6" height="7" fill="#00d7ff"/>
<rect x="285" y="113" width="7" height="7" fill="#00f7ff"/>
<rect x="292" y="113" width="6" height="7" fill="#00d7ff"/>
<rect x="298" y="113" width="6" height="7" fill="#38ffc7"/>
<rect x="304" y="113" width="13" height="7" fill="#00b7ff"/>
<rect x="317" y="113" width="6" height="7" fill="#0048ff"/>
<rect x="323" y="113" width="6" height="7" fill="#0058ff"/>
<rect x="329" y="113" width="7" height="7" fill="#0087ff"/>
<rect x="336" y="113" width="6" height="7" fill="#00a7ff"/>
<rect x="342" y="113" width="6" height="7" fill="#0058ff"/>
<rect x="348" y="113" width="6" height="7" fill="#0078ff"/>
<rect x="354" y="113" width="7" height="7" fill="#0048ff"/>
<rect x="361" y="113" width="6" height="7" fill="#38ffc7"/>
<rect x="367" y="113" width="6" height="7" fill="#00f7ff"/>
<rect x="373" y="113" width="13" height="7" fill="#00a7ff"/>
<rect x="386" y="113" width="6" height="7" fill="#00b7ff"/>
<rect x="392" y="113" width="13" height="7" fill="#00d7ff"/>
<rect x="405" y="113" width="6" height="7" fill="#00b7ff"/>
<rect x="411" y="113" width="6" height="7" fill="#00a7ff"/>
<rect x="417" y="113" width="7" height="7" fill="#0087ff"/>
<rect x="424" y="113" width="6" height="7" fill="#00a7ff"/>
<rect x="430" y="113" width="6" height="7" fill="#08fff7"/>
<rect x="436" y="113" width="6" height="7" fill="#00a7ff"/>
<rect x="442" y="113" width="13" height="7" fill="#0078ff"/>
<rect x="455" y="113" width="6" height="7" fill="#00a7ff"/>
<rect x="461" y="113" width="7" height="7" fill="#0048ff"/>
<rect x="468" y="113" width="12" height="7" fill="#0078ff"/>
<rect x="480" y="113" width="6" height="7" fill="#00d7ff"/>
<rect x="486" y="113" width="7" height="7" fill="#0087ff"/>
<rect x="493" y="113" width="6" height="7" fill="#58ffa7"/>
<rect x="499" y="113" width="13" height="7" fill="#a7ff58"/>
<rect x="512" y="113" width="6" height="7" fill="#38ffc7"/>
<rect x="518" y="113" width="6" height="7" fill="#a7ff58"/>
<rect x="524" y="113" width="6" height="7" fill="#ffd700"/>
<rect x="530" y="113" width="7" height="7" fill="#fff700"/>
<rect x="537" y="113" width="6" height="7" fill="#ffd700"/>
<rect x="543" y="113" width="6" height="7" fill="#ff9700"/>
<rect x="116" y="120" width="6" height="6" fill="#00d7ff"/>
<rect x="122" y="120" width="12" height="6" fill="#00a7ff"/>
<rect x="134" y="120" width="7" height="6" fill="#38ffc7"/>
<rect x="141" y="120" width="6" height="6" fill="#78ff87"/>
<rect x="147" y="120" width="19" height="6" fill="#0078ff"/>
<rect x="166" y="120" width="25" height="6" fill="#0038ff"/>
<rect x="191" y="120" width="6" height="6" fill="#000087"/>
<rect x="197" y="120" width="7" height="6" fill="#00d7ff"/>
<rect x="204" y="120" width="6" height="6" fill="#0087ff"/>
<rect x="210" y="120" width="6" height="6" fill="#0078ff"/>
<rect x="216" y="120" width="6" height="6" fill="#0048ff"/>
<rect x="222" y="120" width="7" height="6" fill="#0087ff"/>
<rect x="229" y="120" width="6" height="6" fill="#0078ff"/>
<rect x="235" y="120" width="6" height="6" fill="#0048ff"/>
<rect x="241" y="120" width="7" height="6" fill="#00b7ff"/>
<rect x="248" y="120" width="6" height="6" fill="#0087ff"/>
<rect x="254" y="120" width="6" height="6" fill="#00a7ff"/>
<rect x="260" y="120" width="6" height="6" fill="#0078ff"/>
<rect x="266" y="120" width="7" height="6" fill="#00a7ff"/>
<rect x="273" y="120" width="6" height="6" fill="#00d7ff"/>
<rect x="279" y="120" width="19" height="6" fill="#00a7ff"/>
<rect x="298" y="120" width="6" height="6" fill="#00d7ff"/>
<rect x="304" y="120" width="13" height="6" fill="#0087ff"/>
<rect x="317" y="120" width="6" height="6" fill="#00a7ff"/>
<rect x="323" y="120" width="6" height="6" fill="#0078ff"/>
<rect x="329" y="120" width="7" height="6" fill="#00a7ff"/>
<rect x="336" y="120" width="6" height="6" fill="#00b7ff"/>
<rect x="342" y="120" width="6" height="6" fill="#0058ff"/>
<rect x="348" y="120" width="6" height="6" fill="#0078ff"/>
<rect x="354" y="120" width="7" height="6" fill="#0087ff"/>
<rect x="361" y="120" width="6" height="6" fill="#08fff7"/>
<rect x="367" y="120" width="19" height="6" fill="#00d7ff"/>
<rect x="386" y="120" width="6" height="6" fill="#00f7ff"/>
<rect x="392" y="120" width="6" height="6" fill="#08fff7"/>
<rect x="398" y="120" width="7" height="6" fill="#00f7ff"/>
<rect x="405" y="120" width="6" height="6" fill="#00d7ff"/>
<rect x="411" y="120" width="6" height="6" fill="#00b7ff"/>
<rect x="417" y="120" width="13" height="6" fill="#0087ff"/>
<rect x="430" y="120" width="6" height="6" fill="#08fff7"/>
<rect x="436" y="120" width="13" height="6" fill="#00a7ff"/>
<rect x="449" y="120" width="6" height="6" fill="#0078ff"/>
<rect x="455" y="120" width="6" height="6" fill="#00b7ff"/>
<rect x="461" y="120" width="7" height="6" fill="#0087ff"/>
<rect x="468" y="120" width="6" height="6" fill="#00a7ff"/>
<rect x="474" y="120" width="6" height="6" fill="#0087ff"/>
<rect x="480" y="120" width="13" height="6" fill="#00d7ff"/>
<rect x="493" y="120" width="6" height="6" fill="#08fff7"/>
<rect x="499" y="120" width="6" height="6" fill="#58ffa7"/>
<rect x="505" y="120" width="7" height="6" fill="#78ff87"/>
<rect x="512" y="120" width="6" height="6" fill="#08fff7"/>
<rect x="518" y="120" width="6" height="6" fill="#78ff87"/>
<rect x="524" y="120" width="6" height="6" fill="#e7ff18"/>
<rect x="530" y="120" width="7" height="6" fill="#c7ff38"/>
<rect x="537" y="120" width="6" height="6" fill="#fff700"/>
<rect x="543" y="120" width="6" height="6" fill="#ffb700"/>
<rect x="116" y="126" width="6" height="6" fill="#38ffc7"/>
<rect x="122" y="126" width="12" height="6" fill="#00d7ff"/>
<rect x="134" y="126" width="7" height="6" fill="#38ffc7"/>
<rect x="141" y="126" width="6" height="6" fill="#58ffa7"/>
<rect x="147" y="126" width="31" height="6" fill="#00d7ff"/>
<rect x="178" y="126" width="13" height="6" fill="#00f7ff"/>
<rect x="191" y="126" width="6" height="6" fill="#00d7ff"/>
<rect x="197" y="126" width="7" height="6" fill="#000087"/>
<rect x="204" y="126" width="6" height="6" fill="#0048ff"/>
<rect x="210" y="126" width="12" height="6" fill="#00a7ff"/>
<rect x="222" y="126" width="7" height="6" fill="#00d7ff"/>
<rect x="229" y="126" width="12" height="6" fill="#00a7ff"/>
<rect x="241" y="126" width="7" height="6" fill="#00f7ff"/>
<rect x="248" y="126" width="6" height="6" fill="#00e7ff"/>
<rect x="254" y="126" width="6" height="6" fill="#00b7ff"/>
<rect x="260" y="126" width="6" height="6" fill="#00a7ff"/>
<rect x="266" y="126" width="7" height="6" fill="#00d7ff"/>
<rect x="273" y="126" width="6" height="6" fill="#00f7ff"/>
<rect x="279" y="126" width="6" height="6" fill="#00d7ff"/>
<rect x="285" y="126" width="7" height="6" fill="#00b7ff"/>
<rect x="292" y="126" width="6" height="6" fill="#00d7ff"/>
<rect x="298" y="126" width="6" height="6" fill="#38ffc7"/>
<rect x="304" y="126" width="6" height="6" fill="#00d7ff"/>
<rect x="310" y="126" width="7" height="6" fill="#00b7ff"/>
<rect x="317" y="126" width="6" height="6" fill="#08fff7"/>
<rect x="323" y="126" width="6" height="6" fill="#00d7ff"/>
<rect x="329" y="126" width="7" height="6" fill="#00f7ff"/>
<rect x="336" y="126" width="6" height="6" fill="#38ffc7"/>
<rect x="342" y="126" width="6" height="6" fill="#00d7ff"/>
<rect x="348" y="126" width="6" height="6" fill="#00f7ff"/>
<rect x="354" y="126" width="7" height="6" fill="#00d7ff"/>
<rect x="361" y="126" width="6" height="6" fill="#78ff87"/>
<rect x="367" y="126" width="6" height="6" fill="#08fff7"/>
<rect x="373" y="126" width="7" height="6" fill="#38ffc7"/>
<rect x="380" y="126" width="6" height="6" fill="#58ffa7"/>
<rect x="386" y="126" width="6" height="6" fill="#78ff87"/>
<rect x="392" y="126" width="13" height="6" fill="#58ffa7"/>
<rect x="405" y="126" width="6" height="6" fill="#78ff87"/>
<rect x="411" y="126" width="6" height="6" fill="#58ffa7"/>
<rect x="417" y="126" width="7" height="6" fill="#08fff7"/>
<rect x="424" y="126" width="6" height="6" fill="#38ffc7"/>
<rect x="430" y="126" width="6" height="6" fill="#a7ff58"/>
<rect x="436" y="126" width="6" height="6" fill="#58ffa7"/>
<rect x="442" y="126" width="13" height="6" fill="#08fff7"/>
<rect x="455" y="126" width="13" height="6" fill="#38ffc7"/>
<rect x="468" y="126" width="12" height="6" fill="#08fff7"/>
<rect x="480" y="126" width="13" height="6" fill="#38ffc7"/>
<rect x="493" y="126" width="6" height="6" fill="#08fff7"/>
<rect x="499" y="126" width="6" height="6" fill="#78ff87"/>
<rect x="505" y="126" width="7" height="6" fill="#a7ff58"/>
<rect x="512" y="126" width="6" height="6" fill="#38ffc7"/>
<rect x="518" y="126" width="6" height="6" fill="#a7ff58"/>
<rect x="524" y="126" width="13" height="6" fill="#e7ff18"/>
<rect x="537" y="126" width="6" height="6" fill="#ffd700"/>
<rect x="543" y="126" width="6" height="6" fill="#ff9700"/>
<rect x="116" y="132" width="6" height="6" fill="#00d7ff"/>
<rect x="122" y="132" width="12" height="6" fill="#00a7ff"/>
<rect x="134" y="132" width="7" height="6" fill="#00f7ff"/>
<rect x="141" y="132" width="6" height="6" fill="#08fff7"/>
<rect x="147" y="132" width="6" height="6" fill="#0048ff"/>
<rect x="153" y="132" width="25" height="6" fill="#0078ff"/>
<rect x="178" y="132" width="13" height="6" fill="#00a7ff"/>
<rect x="191" y="132" width="6" height="6" fill="#0087ff"/>
<rect x="197" y="132" width="7" height="6" fill="#0048ff"/>
<rect x="204" y="132" width="6" height="6" fill="#000087"/>
<rect x="210" y="132" width="12" height="6" fill="#0038ff"/>
<rect x="222" y="132" width="7" height="6" fill="#0087ff"/>
<rect x="229" y="132" width="6" height="6" fill="#0038ff"/>
<rect x="235" y="132" width="6" height="6" fill="#0078ff"/>
<rect x="241" y="132" width="7" height="6" fill="#00a7ff"/>
<rect x="248" y="132" width="6" height="6" fill="#0078ff"/>
<rect x="254" y="132" width="6" height="6" fill="#0087ff"/>
<rect x="260" y="132" width="6" height="6" fill="#0048ff"/>
<rect x="266" y="132" width="7" height="6" fill="#0048ff"/>
<rect x="273" y="132" width="6" height="6" fill="#00a7ff"/>
<rect x="279" y="132" width="6" height="6" fill="#0048ff"/>
<rect x="285" y="132" width="7" height="6" fill="#00a7ff"/>
<rect x="292" y="132" width="6" height="6" fill="#0078ff"/>
<rect x="298" y="132" width="6" height="6" fill="#00a7ff"/>
<rect x="304" y="132" width="6" height="6" fill="#0078ff"/>
<rect x="310" y="132" width="7" height="6" fill="#0048ff"/>
<rect x="317" y="132" width="6" height="6" fill="#00a7ff"/>
<rect x="323" y="132" width="6" height="6" fill="#0058ff"/>
<rect x="329" y="132" width="7" height="6" fill="#0078ff"/>
<rect x="336" y="132" width="6" height="6" fill="#00a7ff"/>
<rect x="342" y="132" width="12" height="6" fill="#0058ff"/>
<rect x="354" y="132" width="7" height="6" fill="#0078ff"/>
<rect x="361" y="132" width="6" height="6" fill="#00d7ff"/>
<rect x="367" y="132" width="6" height="6" fill="#00a7ff"/>
<rect x="373" y="132" width="7" height="6" fill="#00b7ff"/>
<rect x="380" y="132" width="6" height="6" fill="#00f7ff"/>
<rect x="386" y="132" width="6" height="6" fill="#08fff7"/>
<rect x="392" y="132" width="6" height="6" fill="#38ffc7"/>
<rect x="398" y="132" width="7" height="6" fill="#08fff7"/>
<rect x="405" y="132" width="6" height="6" fill="#00f7ff"/>
<rect x="411" y="132" width="6" height="6" fill="#00d7ff"/>
<rect x="417" y="132" width="7" height="6" fill="#00a7ff"/>
<rect x="424" y="132" width="6" height="6" fill="#00d7ff"/>
<rect x="430" y="132" width="6" height="6" fill="#38ffc7"/>
<rect x="436" y="132" width="6" height="6" fill="#00d7ff"/>
<rect x="442" y="132" width="7" height="6" fill="#00a7ff"/>
<rect x="449" y="132" width="6" height="6" fill="#0087ff"/>
<rect x="455" y="132" width="19" height="6" fill="#00a7ff"/>
<rect x="474" y="132" width="6" height="6" fill="#0087ff"/>
<rect x="480" y="132" width="6" height="6" fill="#00f7ff"/>
<rect x="486" y="132" width="7" height="6" fill="#00a7ff"/>
<rect x="493" y="132" width="6" height="6" fill="#00d7ff"/>
<rect x="499" y="132" width="6" height="6" fill="#08fff7"/>
<rect x="505" y="132" width="7" height="6" fill="#38ffc7"/>
<rect x="512" y="132" width="6" height="6" fill="#00d7ff"/>
<rect x="518" y="132" width="6" height="6" fill="#38ffc7"/>
<rect x="524" y="132" width="6" height="6" fill="#c7ff38"/>
<rect x="530" y="132" width="7" height="6" fill="#a7ff58"/>
<rect x="537" y="132" width="6" height="6" fill="#e7ff18"/>
<rect x="543" y="132" width="6" height="6" fill="#fff700"/>
<rect x="116" y="138" width="6" height="7" fill="#00d7ff"/>
<rect x="122" y="138" width="6" height="7" fill="#00a7ff"/>
<rect x="128" y="138" width="6" height="7" fill="#0087ff"/>
<rect x="134" y="138" width="7" height="7" fill="#00f7ff"/>
<rect x="141" y="138" width="6" height="7" fill="#08fff7"/>
<rect x="147" y="138" width="6" height="7" fill="#0078ff"/>
<rect x="153" y="138" width="7" height="7" fill="#00a7ff"/>
<rect x="160" y="138" width="6" height="7" fill="#0078ff"/>
<rect x="166" y="138" width="6" height="7" fill="#00a7ff"/>
<rect x="172" y="138" width="6" height="7" fill="#0048ff"/>
<rect x="178" y="138" width="13" height="7" fill="#00a7ff"/>
<rect x="191" y="138" width="6" height="7" fill="#0078ff"/>
<rect x="197" y="138" width="7" height="7" fill="#00a7ff"/>
<rect x="204" y="138" width="6" height="7" fill="#0038ff"/>
<rect x="210" y="138" width="6" height="7" fill="#000087"/>
<rect x="216" y="138" width="6" height="7" fill="#0038ff"/>
<rect x="222" y="138" width="7" height="7" fill="#0078ff"/>
<rect x="229" y="138" width="6" height="7" fill="#0038ff"/>
<rect x="235" y="138" width="6" height="7" fill="#0048ff"/>
<rect x="241" y="138" width="7" height="7" fill="#00a7ff"/>
<rect x="248" y="138" width="6" height="7" fill="#0078ff"/>
<rect x="254" y="138" width="6" height="7" fill="#0087ff"/>
<rect x="260" y="138" width="6" height="7" fill="#0048ff"/>
<rect x="266" y="138" width="7" height="7" fill="#0087ff"/>
<rect x="273" y="138" width="6" height="7" fill="#00b7ff"/>
<rect x="279" y="138" width="6" height="7" fill="#0078ff"/>
<rect x="285" y="138" width="7" height="7" fill="#00a7ff"/>
<rect x="292" y="138" width="6" height="7" fill="#0078ff"/>
<rect x="298" y="138" width="6" height="7" fill="#00a7ff"/>
<rect x="304" y="138" width="13" height="7" fill="#0058ff"/>
<rect x="317" y="138" width="6" height="7" fill="#0087ff"/>
<rect x="323" y="138" width="6" height="7" fill="#0058ff"/>
<rect x="329" y="138" width="7" height="7" fill="#0078ff"/>
<rect x="336" y="138" width="6" height="7" fill="#00a7ff"/>
<rect x="342" y="138" width="6" height="7" fill="#0038ff"/>
<rect x="348" y="138" width="6" height="7" fill="#0058ff"/>
<rect x="354" y="138" width="7" height="7" fill="#0038ff"/>
<rect x="361" y="138" width="6" height="7" fill="#00d7ff"/>
<rect x="367" y="138" width="6" height="7" fill="#00a7ff"/>
<rect x="373" y="138" width="7" height="7" fill="#00d7ff"/>
<rect x="380" y="138" width="12" height="7" fill="#08fff7"/>
<rect x="392" y="138" width="6" height="7" fill="#38ffc7"/>
<rect x="398" y="138" width="7" height="7" fill="#08fff7"/>
<rect x="405" y="138" width="6" height="7" fill="#00f7ff"/>
<rect x="411" y="138" width="6" height="7" fill="#00d7ff"/>
<rect x="417" y="138" width="7" height="7" fill="#00a7ff"/>
<rect x="424" y="138" width="6" height="7" fill="#00d7ff"/>
<rect x="430" y="138" width="6" height="7" fill="#38ffc7"/>
<rect x="436" y="138" width="6" height="7" fill="#00d7ff"/>
<rect x="442" y="138" width="7" height="7" fill="#00a7ff"/>
<rect x="449" y="138" width="6" height="7" fill="#0078ff"/>
<rect x="455" y="138" width="19" height="7" fill="#0087ff"/>
<rect x="474" y="138" width="6" height="7" fill="#0078ff"/>
<rect x="480" y="138" width="6" height="7" fill="#00d7ff"/>
<rect x="486" y="138" width="7" height="7" fill="#00b7ff"/>
<rect x="493" y="138" width="6" height="7" fill="#00d7ff"/>
<rect x="499" y="138" width="6" height="7" fill="#08fff7"/>
<rect x="505" y="138" width="7" height="7" fill="#38ffc7"/>
<rect x="512" y="138" width="6" height="7" fill="#00b7ff"/>
<rect x="518" y="138" width="6" height="7" fill="#38ffc7"/>
<rect x="524" y="138" width="13" height="7" fill="#a7ff58"/>
<rect x="537" y="138" width="6" height="7" fill="#c7ff38"/>
<rect x="543" y="138" width="6" height="7" fill="#e7ff18"/>
<rect x="116" y="145" width="6" height="6" fill="#00d7ff"/>
<rect x="122" y="145" width="6" height="6" fill="#0087ff"/>
<rect x="128" y="145" width="6" height="6" fill="#00a7ff"/>
<rect x="134" y="145" width="7" height="6" fill="#00d7ff"/>
<rect x="141" y="145" width="6" height="6" fill="#38ffc7"/>
<rect x="147" y="145" width="6" height="6" fill="#0048ff"/>
<rect x="153" y="145" width="7" height="6" fill="#00a7ff"/>
<rect x="160" y="145" width="6" height="6" fill="#0087ff"/>
<rect x="166" y="145" width="12" height="6" fill="#0078ff"/>
<rect x="178" y="145" width="13" height="6" fill="#0087ff"/>
<rect x="191" y="145" width="6" height="6" fill="#0048ff"/>
<rect x="197" y="145" width="7" height="6" fill="#00a7ff"/>
<rect x="204" y="145" width="12" height="6" fill="#0038ff"/>
<rect x="216" y="145" width="6" height="6" fill="#000087"/>
<rect x="222" y="145" width="13" height="6" fill="#0038ff"/>
<rect x="235" y="145" width="6" height="6" fill="#0078ff"/>
<rect x="241" y="145" width="7" height="6" fill="#00a7ff"/>
<rect x="248" y="145" width="6" height="6" fill="#0078ff"/>
<rect x="254" y="145" width="6" height="6" fill="#0087ff"/>
<rect x="260" y="145" width="6" height="6" fill="#0078ff"/>
<rect x="266" y="145" width="7" height="6" fill="#0087ff"/>
<rect x="273" y="145" width="6" height="6" fill="#00d7ff"/>
<rect x="279" y="145" width="13" height="6" fill="#00a7ff"/>
<rect x="292" y="145" width="6" height="6" fill="#0087ff"/>
<rect x="298" y="145" width="6" height="6" fill="#00a7ff"/>
<rect x="304" y="145" width="6" height="6" fill="#0048ff"/>
<rect x="310" y="145" width="7" height="6" fill="#0078ff"/>
<rect x="317" y="145" width="6" height="6" fill="#00b7ff"/>
<rect x="323" y="145" width="6" height="6" fill="#0087ff"/>
<rect x="329" y="145" width="7" height="6" fill="#00a7ff"/>
<rect x="336" y="145" width="6" height="6" fill="#00f7ff"/>
<rect x="342" y="145" width="6" height="6" fill="#0078ff"/>
<rect x="348" y="145" width="6" height="6" fill="#0087ff"/>
<rect x="354" y="145" width="7" height="6" fill="#0078ff"/>
<rect x="361" y="145" width="6" height="6" fill="#00f7ff"/>
<rect x="367" y="145" width="6" height="6" fill="#00a7ff"/>
<rect x="373" y="145" width="7" height="6" fill="#00d7ff"/>
<rect x="380" y="145" width="6" height="6" fill="#00f7ff"/>
<rect x="386" y="145" width="6" height="6" fill="#08fff7"/>
<rect x="392" y="145" width="6" height="6" fill="#58ffa7"/>
<rect x="398" y="145" width="7" height="6" fill="#38ffc7"/>
<rect x="405" y="145" width="6" height="6" fill="#08fff7"/>
<rect x="411" y="145" width="6" height="6" fill="#00f7ff"/>
<rect x="417" y="145" width="7" height="6" fill="#00b7ff"/>
<rect x="424" y="145" width="6" height="6" fill="#00a7ff"/>
<rect x="430" y="145" width="6" height="6" fill="#38ffc7"/>
<rect x="436" y="145" width="6" height="6" fill="#00d7ff"/>
<rect x="442" y="145" width="7" height="6" fill="#00a7ff"/>
<rect x="449" y="145" width="6" height="6" fill="#0078ff"/>
<rect x="455" y="145" width="6" height="6" fill="#00a7ff"/>
<rect x="461" y="145" width="7" height="6" fill="#0087ff"/>
<rect x="468" y="145" width="6" height="6" fill="#00a7ff"/>
<rect x="474" y="145" width="6" height="6" fill="#0087ff"/>
<rect x="480" y="145" width="19" height="6" fill="#00d7ff"/>
<rect x="499" y="145" width="6" height="6" fill="#00f7ff"/>
<rect x="505" y="145" width="7" height="6" fill="#38ffc7"/>
<rect x="512" y="145" width="6" height="6" fill="#00b7ff"/>
<rect x="518" y="145" width="6" height="6" fill="#38ffc7"/>
<rect x="524" y="145" width="6" height="6" fill="#c7ff38"/>
<rect x="530" y="145" width="7" height="6" fill="#a7ff58"/>
<rect x="537" y="145" width="6" height="6" fill="#c7ff38"/>
<rect x="543" y="145" width="6" height="6" fill="#fff700"/>
<rect x="116" y="151" width="6" height="6" fill="#00d7ff"/>
<rect x="122" y="151" width="6" height="6" fill="#00a7ff"/>
<rect x="128" y="151" width="6" height="6" fill="#00b7ff"/>
<rect x="134" y="151" width="7" height="6" fill="#00f7ff"/>
<rect x="141" y="151" width="6" height="6" fill="#38ffc7"/>
<rect x="147" y="151" width="6" height="6" fill="#00a7ff"/>
<rect x="153" y="151" width="13" height="6" fill="#00b7ff"/>
<rect x="166" y="151" width="6" height="6" fill="#0087ff"/>
<rect x="172" y="151" width="6" height="6" fill="#0078ff"/>
<rect x="178" y="151" width="13" height="6" fill="#00a7ff"/>
<rect x="191" y="151" width="6" height="6" fill="#0087ff"/>
<rect x="197" y="151" width="7" height="6" fill="#00d7ff"/>
<rect x="204" y="151" width="6" height="6" fill="#0087ff"/>
<rect x="210" y="151" width="6" height="6" fill="#0078ff"/>
<rect x="216" y="151" width="6" height="6" fill="#0038ff"/>
<rect x="222" y="151" width="7" height="6" fill="#000087"/>
<rect x="229" y="151" width="6" height="6" fill="#0038ff"/>
<rect x="235" y="151" width="6" height="6" fill="#0048ff"/>
<rect x="241" y="151" width="7" height="6" fill="#0048ff"/>
<rect x="248" y="151" width="6" height="6" fill="#0087ff"/>
<rect x="254" y="151" width="6" height="6" fill="#00a7ff"/>
<rect x="260" y="151" width="6" height="6" fill="#0078ff"/>
<rect x="266" y="151" width="7" height="6" fill="#00a7ff"/>
<rect x="273" y="151" width="6" height="6" fill="#00b7ff"/>
<rect x="279" y="151" width="19" height="6" fill="#00a7ff"/>
<rect x="298" y="151" width="6" height="6" fill="#00b7ff"/>
<rect x="304" y="151" width="13" height="6" fill="#0048ff"/>
<rect x="317" y="151" width="6" height="6" fill="#00d7ff"/>
<rect x="323" y="151" width="6" height="6" fill="#00a7ff"/>
<rect x="329" y="151" width="7" height="6" fill="#00b7ff"/>
<rect x="336" y="151" width="6" height="6" fill="#00f7ff"/>
<rect x="342" y="151" width="6" height="6" fill="#0087ff"/>
<rect x="348" y="151" width="6" height="6" fill="#0048ff"/>
<rect x="354" y="151" width="7" height="6" fill="#0087ff"/>
<rect x="361" y="151" width="6" height="6" fill="#00d7ff"/>
<rect x="367" y="151" width="6" height="6" fill="#00a7ff"/>
<rect x="373" y="151" width="13" height="6" fill="#38ffc7"/>
<rect x="386" y="151" width="6" height="6" fill="#58ffa7"/>
<rect x="392" y="151" width="13" height="6" fill="#78ff87"/>
<rect x="405" y="151" width="6" height="6" fill="#58ffa7"/>
<rect x="411" y="151" width="6" height="6" fill="#38ffc7"/>
<rect x="417" y="151" width="7" height="6" fill="#00f7ff"/>
<rect x="424" y="151" width="6" height="6" fill="#00b7ff"/>
<rect x="430" y="151" width="6" height="6" fill="#38ffc7"/>
<rect x="436" y="151" width="6" height="6" fill="#00f7ff"/>
<rect x="442" y="151" width="7" height="6" fill="#00b7ff"/>
<rect x="449" y="151" width="6" height="6" fill="#0087ff"/>
<rect x="455" y="151" width="6" height="6" fill="#00b7ff"/>
<rect x="461" y="151" width="7" height="6" fill="#00a7ff"/>
<rect x="468" y="151" width="6" height="6" fill="#00b7ff"/>
<rect x="474" y="151" width="6" height="6" fill="#00a7ff"/>
<rect x="480" y="151" width="13" height="6" fill="#00f7ff"/>
<rect x="493" y="151" width="6" height="6" fill="#00b7ff"/>
<rect x="499" y="151" width="6" height="6" fill="#00f7ff"/>
<rect x="505" y="151" width="7" height="6" fill="#08fff7"/>
<rect x="512" y="151" width="6" height="6" fill="#00a7ff"/>
<rect x="518" y="151" width="6" height="6" fill="#08fff7"/>
<rect x="524" y="151" width="13" height="6" fill="#78ff87"/>
<rect x="537" y="151" width="6" height="6" fill="#c7ff38"/>
<rect x="543" y="151" width="6" height="6" fill="#e7ff18"/>
<rect x="116" y="157" width="6" height="7" fill="#00d7ff"/>
<rect x="122" y="157" width="6" height="7" fill="#0087ff"/>
<rect x="128" y="157" width="6" height="7" fill="#00a7ff"/>
<rect x="134" y="157" width="7" height="7" fill="#00d7ff"/>
<rect x="141" y="157" width="6" height="7" fill="#08fff7"/>
<rect x="147" y="157" width="6" height="7" fill="#0058ff"/>
<rect x="153" y="157" width="19" height="7" fill="#0078ff"/>
<rect x="172" y="157" width="13" height="7" fill="#0058ff"/>
<rect x="185" y="157" width="12" height="7" fill="#0078ff"/>
<rect x="197" y="157" width="7" height="7" fill="#00a7ff"/>
<rect x="204" y="157" width="25" height="7" fill="#0038ff"/>
<rect x="229" y="157" width="6" height="7" fill="#000087"/>
<rect x="235" y="157" width="6" height="7" fill="#0038ff"/>
<rect x="241" y="157" width="7" height="7" fill="#0087ff"/>
<rect x="248" y="157" width="6" height="7" fill="#0048ff"/>
<rect x="254" y="157" width="6" height="7" fill="#0078ff"/>
<rect x="260" y="157" width="6" height="7" fill="#0048ff"/>
<rect x="266" y="157" width="7" height="7" fill="#0087ff"/>
<rect x="273" y="157" width="6" height="7" fill="#00b7ff"/>
<rect x="279" y="157" width="6" height="7" fill="#0078ff"/>
<rect x="285" y="157" width="7" height="7" fill="#0087ff"/>
<rect x="292" y="157" width="6" height="7" fill="#0058ff"/>
<rect x="298" y="157" width="6" height="7" fill="#0087ff"/>
<rect x="304" y="157" width="6" height="7" fill="#0038ff"/>
<rect x="310" y="157" width="7" height="7" fill="#0078ff"/>
<rect x="317" y="157" width="6" height="7" fill="#00a7ff"/>
<rect x="323" y="157" width="6" height="7" fill="#0058ff"/>
<rect x="329" y="157" width="7" height="7" fill="#0078ff"/>
<rect x="336" y="157" width="6" height="7" fill="#00b7ff"/>
<rect x="342" y="157" width="12" height="7" fill="#0038ff"/>
<rect x="354" y="157" width="7" height="7" fill="#0058ff"/>
<rect x="361" y="157" width="6" height="7" fill="#00d7ff"/>
<rect x="367" y="157" width="6" height="7" fill="#0087ff"/>
<rect x="373" y="157" width="7" height="7" fill="#00d7ff"/>
<rect x="380" y="157" width="12" height="7" fill="#08fff7"/>
<rect x="392" y="157" width="6" height="7" fill="#38ffc7"/>
<rect x="398" y="157" width="7" height="7" fill="#08fff7"/>
<rect x="405" y="157" width="6" height="7" fill="#00f7ff"/>
<rect x="411" y="157" width="6" height="7" fill="#00b7ff"/>
<rect x="417" y="157" width="13" height="7" fill="#00a7ff"/>
<rect x="430" y="157" width="6" height="7" fill="#38ffc7"/>
<rect x="436" y="157" width="6" height="7" fill="#00b7ff"/>
<rect x="442" y="157" width="7" height="7" fill="#00a7ff"/>
<rect x="449" y="157" width="6" height="7" fill="#0058ff"/>
<rect x="455" y="157" width="6" height="7" fill="#0087ff"/>
<rect x="461" y="157" width="7" height="7" fill="#0078ff"/>
<rect x="468" y="157" width="6" height="7" fill="#00a7ff"/>
<rect x="474" y="157" width="6" height="7" fill="#0058ff"/>
<rect x="480" y="157" width="6" height="7" fill="#00d7ff"/>
<rect x="486" y="157" width="13" height="7" fill="#00b7ff"/>
<rect x="499" y="157" width="13" height="7" fill="#08fff7"/>
<rect x="512" y="157" width="6" height="7" fill="#00a7ff"/>
<rect x="518" y="157" width="6" height="7" fill="#38ffc7"/>
<rect x="524" y="157" width="13" height="7" fill="#a7ff58"/>
<rect x="537" y="157" width="6" height="7" fill="#c7ff38"/>
<rect x="543" y="157" width="6" height="7" fill="#e7ff18"/>
<rect x="116" y="164" width="6" height="6" fill="#00d7ff"/>
<rect x="122" y="164" width="12" height="6" fill="#00a7ff"/>
<rect x="134" y="164" width="7" height="6" fill="#00d7ff"/>
<rect x="141" y="164" width="6" height="6" fill="#08fff7"/>
<rect x="147" y="164" width="6" height="6" fill="#0078ff"/>
<rect x="153" y="164" width="7" height="6" fill="#00a7ff"/>
<rect x="160" y="164" width="6" height="6" fill="#0087ff"/>
<rect x="166" y="164" width="12" height="6" fill="#0078ff"/>
<rect x="178" y="164" width="7" height="6" fill="#0048ff"/>
<rect x="185" y="164" width="6" height="6" fill="#00a7ff"/>
<rect x="191" y="164" width="6" height="6" fill="#0048ff"/>
<rect x="197" y="164" width="7" height="6" fill="#00a7ff"/>
<rect x="204" y="164" width="6" height="6" fill="#0078ff"/>
<rect x="210" y="164" width="6" height="6" fill="#0048ff"/>
<rect x="216" y="164" width="6" height="6" fill="#0078ff"/>
<rect x="222" y="164" width="7" height="6" fill="#0048ff"/>
<rect x="229" y="164" width="6" height="6" fill="#0038ff"/>
<rect x="235" y="164" width="6" height="6" fill="#000087"/>
<rect x="241" y="164" width="7" height="6" fill="#0087ff"/>
<rect x="248" y="164" width="6" height="6" fill="#0078ff"/>
<rect x="254" y="164" width="6" height="6" fill="#0087ff"/>
<rect x="260" y="164" width="6" height="6" fill="#0058ff"/>
<rect x="266" y="164" width="7" height="6" fill="#0087ff"/>
<rect x="273" y="164" width="6" height="6" fill="#00a7ff"/>
<rect x="279" y="164" width="6" height="6" fill="#0048ff"/>
<rect x="285" y="164" width="7" height="6" fill="#0087ff"/>
<rect x="292" y="164" width="6" height="6" fill="#0078ff"/>
<rect x="298" y="164" width="6" height="6" fill="#00a7ff"/>
<rect x="304" y="164" width="6" height="6" fill="#0058ff"/>
<rect x="310" y="164" width="7" height="6" fill="#0048ff"/>
<rect x="317" y="164" width="6" height="6" fill="#00a7ff"/>
<rect x="323" y="164" width="6" height="6" fill="#0078ff"/>
<rect x="329" y="164" width="7" height="6" fill="#0087ff"/>
<rect x="336" y="164" width="6" height="6" fill="#00d7ff"/>
<rect x="342" y="164" width="12" height="6" fill="#0058ff"/>
<rect x="354" y="164" width="7" height="6" fill="#0078ff"/>
<rect x="361" y="164" width="6" height="6" fill="#00d7ff"/>
<rect x="367" y="164" width="6" height="6" fill="#00a7ff"/>
<rect x="373" y="164" width="7" height="6" fill="#08fff7"/>
<rect x="380" y="164" width="6" height="6" fill="#38ffc7"/>
<rect x="386" y="164" width="12" height="6" fill="#58ffa7"/>
<rect x="398" y="164" width="7" height="6" fill="#38ffc7"/>
<rect x="405" y="164" width="6" height="6" fill="#08fff7"/>
<rect x="411" y="164" width="13" height="6" fill="#00d7ff"/>
<rect x="424" y="164" width="6" height="6" fill="#00b7ff"/>
<rect x="430" y="164" width="6" height="6" fill="#78ff87"/>
<rect x="436" y="164" width="6" height="6" fill="#00f7ff"/>
<rect x="442" y="164" width="7" height="6" fill="#00b7ff"/>
<rect x="449" y="164" width="6" height="6" fill="#0087ff"/>
<rect x="455" y="164" width="6" height="6" fill="#00b7ff"/>
<rect x="461" y="164" width="7" height="6" fill="#00a7ff"/>
<rect x="468" y="164" width="6" height="6" fill="#00b7ff"/>
<rect x="474" y="164" width="6" height="6" fill="#00a7ff"/>
<rect x="480" y="164" width="6" height="6" fill="#00f7ff"/>
<rect x="486" y="164" width="13" height="6" fill="#00d7ff"/>
<rect x="499" y="164" width="13" height="6" fill="#00f7ff"/>
<rect x="512" y="164" width="6" height="6" fill="#00a7ff"/>
<rect x="518" y="164" width="6" height="6" fill="#08fff7"/>
<rect x="524" y="164" width="13" height="6" fill="#78ff87"/>
<rect x="537" y="164" width="6" height="6" fill="#c7ff38"/>
<rect x="543" y="164" width="6" height="6" fill="#e7ff18"/>
<rect x="116" y="170" width="6" height="6" fill="#00d7ff"/>
<rect x="122" y="170" width="6" height="6" fill="#00a7ff"/>
<rect x="128" y="170" width="6" height="6" fill="#00f7ff"/>
<rect x="134" y="170" width="7" height="6" fill="#00b7ff"/>
<rect x="141" y="170" width="6" height="6" fill="#38ffc7"/>
<rect x="147" y="170" width="6" height="6" fill="#00b7ff"/>
<rect x="153" y="170" width="13" height="6" fill="#00f7ff"/>
<rect x="166" y="170" width="19" height="6" fill="#00d7ff"/>
<rect x="185" y="170" width="6" height="6" fill="#00f7ff"/>
<rect x="191" y="170" width="6" height="6" fill="#00b7ff"/>
<rect x="197" y="170" width="7" height="6" fill="#00f7ff"/>
<rect x="204" y="170" width="18" height="6" fill="#00a7ff"/>
<rect x="222" y="170" width="7" height="6" fill="#0048ff"/>
<rect x="229" y="170" width="12" height="6" fill="#0087ff"/>
<rect x="241" y="170" width="7" height="6" fill="#000087"/>
<rect x="248" y="170" width="6" height="6" fill="#00a7ff"/>
<rect x="254" y="170" width="6" height="6" fill="#00b7ff"/>
<rect x="260" y="170" width="6" height="6" fill="#00a7ff"/>
<rect x="266" y="170" width="7" height="6" fill="#00d7ff"/>
<rect x="273" y="170" width="6" height="6" fill="#00f7ff"/>
<rect x="279" y="170" width="6" height="6" fill="#00b7ff"/>
<rect x="285" y="170" width="7" height="6" fill="#00d7ff"/>
<rect x="292" y="170" width="12" height="6" fill="#00a7ff"/>
<rect x="304" y="170" width="6" height="6" fill="#0078ff"/>
<rect x="310" y="170" width="7" height="6" fill="#0087ff"/>
<rect x="317" y="170" width="6" height="6" fill="#08fff7"/>
<rect x="323" y="170" width="13" height="6" fill="#00d7ff"/>
<rect x="336" y="170" width="6" height="6" fill="#58ffa7"/>
<rect x="342" y="170" width="19" height="6" fill="#00b7ff"/>
<rect x="361" y="170" width="6" height="6" fill="#00f7ff"/>
<rect x="367" y="170" width="6" height="6" fill="#00b7ff"/>
<rect x="373" y="170" width="7" height="6" fill="#78ff87"/>
<rect x="380" y="170" width="25" height="6" fill="#a7ff58"/>
<rect x="405" y="170" width="6" height="6" fill="#78ff87"/>
<rect x="411" y="170" width="6" height="6" fill="#58ffa7"/>
<rect x="417" y="170" width="7" height="6" fill="#38ffc7"/>
<rect x="424" y="170" width="6" height="6" fill="#08fff7"/>
<rect x="430" y="170" width="6" height="6" fill="#a7ff58"/>
<rect x="436" y="170" width="6" height="6" fill="#58ffa7"/>
<rect x="442" y="170" width="7" height="6" fill="#38ffc7"/>
<rect x="449" y="170" width="6" height="6" fill="#00d7ff"/>
<rect x="455" y="170" width="6" height="6" fill="#38ffc7"/>
<rect x="461" y="170" width="7" height="6" fill="#00f7ff"/>
<rect x="468" y="170" width="6" height="6" fill="#38ffc7"/>
<rect x="474" y="170" width="6" height="6" fill="#08fff7"/>
<rect x="480" y="170" width="13" height="6" fill="#58ffa7"/>
<rect x="493" y="170" width="6" height="6" fill="#00d7ff"/>
<rect x="499" y="170" width="6" height="6" fill="#00f7ff"/>
<rect x="505" y="170" width="7" height="6" fill="#08fff7"/>
<rect x="512" y="170" width="6" height="6" fill="#00b7ff"/>
<rect x="518" y="170" width="6" height="6" fill="#00f7ff"/>
<rect x="524" y="170" width="13" height="6" fill="#78ff87"/>
<rect x="537" y="170" width="6" height="6" fill="#a7ff58"/>
<rect x="543" y="170" width="6" height="6" fill="#c7ff38"/>
<rect x="116" y="176" width="6" height="6" fill="#00f7ff"/>
<rect x="122" y="176" width="12" height="6" fill="#00a7ff"/>
<rect x="134" y="176" width="7" height="6" fill="#08fff7"/>
<rect x="141" y="176" width="6" height="6" fill="#38ffc7"/>
<rect x="147" y="176" width="6" height="6" fill="#0078ff"/>
<rect x="153" y="176" width="7" height="6" fill="#00a7ff"/>
<rect x="160" y="176" width="6" height="6" fill="#0087ff"/>
<rect x="166" y="176" width="19" height="6" fill="#0078ff"/>
<rect x="185" y="176" width="12" height="6" fill="#0087ff"/>
<rect x="197" y="176" width="7" height="6" fill="#00e7ff"/>
<rect x="204" y="176" width="18" height="6" fill="#0078ff"/>
<rect x="222" y="176" width="7" height="6" fill="#0087ff"/>
<rect x="229" y="176" width="6" height="6" fill="#0048ff"/>
<rect x="235" y="176" width="6" height="6" fill="#0078ff"/>
<rect x="241" y="176" width="7" height="6" fill="#00a7ff"/>
<rect x="248" y="176" width="6" height="6" fill="#000087"/>
<rect x="254" y="176" width="6" height="6" fill="#00a7ff"/>
<rect x="260" y="176" width="6" height="6" fill="#0078ff"/>
<rect x="266" y="176" width="7" height="6" fill="#00a7ff"/>
<rect x="273" y="176" width="6" height="6" fill="#00d7ff"/>
<rect x="279" y="176" width="13" height="6" fill="#00a7ff"/>
<rect x="292" y="176" width="6" height="6" fill="#0048ff"/>
<rect x="298" y="176" width="6" height="6" fill="#00f7ff"/>
<rect x="304" y="176" width="19" height="6" fill="#00a7ff"/>
<rect x="323" y="176" width="6" height="6" fill="#0078ff"/>
<rect x="329" y="176" width="7" height="6" fill="#0087ff"/>
<rect x="336" y="176" width="6" height="6" fill="#00d7ff"/>
<rect x="342" y="176" width="12" height="6" fill="#0078ff"/>
<rect x="354" y="176" width="7" height="6" fill="#0087ff"/>
<rect x="361" y="176" width="6" height="6" fill="#00d7ff"/>
<rect x="367" y="176" width="6" height="6" fill="#00b7ff"/>
<rect x="373" y="176" width="7" height="6" fill="#00d7ff"/>
<rect x="380" y="176" width="12" height="6" fill="#00f7ff"/>
<rect x="392" y="176" width="6" height="6" fill="#08fff7"/>
<rect x="398" y="176" width="13" height="6" fill="#00d7ff"/>
<rect x="411" y="176" width="6" height="6" fill="#00a7ff"/>
<rect x="417" y="176" width="13" height="6" fill="#0087ff"/>
<rect x="430" y="176" width="6" height="6" fill="#08fff7"/>
<rect x="436" y="176" width="13" height="6" fill="#00a7ff"/>
<rect x="449" y="176" width="6" height="6" fill="#0078ff"/>
<rect x="455" y="176" width="6" height="6" fill="#00b7ff"/>
<rect x="461" y="176" width="7" height="6" fill="#0048ff"/>
<rect x="468" y="176" width="6" height="6" fill="#00a7ff"/>
<rect x="474" y="176" width="6" height="6" fill="#0078ff"/>
<rect x="480" y="176" width="13" height="6" fill="#00d7ff"/>
<rect x="493" y="176" width="6" height="6" fill="#00f7ff"/>
<rect x="499" y="176" width="6" height="6" fill="#58ffa7"/>
<rect x="505" y="176" width="7" height="6" fill="#78ff87"/>
<rect x="512" y="176" width="6" height="6" fill="#00b7ff"/>
<rect x="518" y="176" width="6" height="6" fill="#a7ff58"/>
<rect x="524" y="176" width="13" height="6" fill="#e7ff18"/>
<rect x="537" y="176" width="6" height="6" fill="#ffd700"/>
<rect x="543" y="176" width="6" height="6" fill="#ff9700"/>
<rect x="116" y="182" width="6" height="7" fill="#08fff7"/>
<rect x="122" y="182" width="12" height="7" fill="#00a7ff"/>
<rect x="134" y="182" width="7" height="7" fill="#08fff7"/>
<rect x="141" y="182" width="6" height="7" fill="#58ffa7"/>
<rect x="147" y="182" width="13" height="7" fill="#00a7ff"/>
<rect x="160" y="182" width="6" height="7" fill="#00b7ff"/>
<rect x="166" y="182" width="6" height="7" fill="#0087ff"/>
<rect x="172" y="182" width="6" height="7" fill="#0078ff"/>
<rect x="178" y="182" width="7" height="7" fill="#00a7ff"/>
<rect x="185" y="182" width="6" height="7" fill="#00b7ff"/>
<rect x="191" y="182" width="6" height="7" fill="#00a7ff"/>
<rect x="197" y="182" width="7" height="7" fill="#00b7ff"/>
<rect x="204" y="182" width="18" height="7" fill="#0087ff"/>
<rect x="222" y="182" width="7" height="7" fill="#00a7ff"/>
<rect x="229" y="182" width="6" height="7" fill="#0078ff"/>
<rect x="235" y="182" width="6" height="7" fill="#0087ff"/>
<rect x="241" y="182" width="7" height="7" fill="#00b7ff"/>
<rect x="248" y="182" width="6" height="7" fill="#00a7ff"/>
<rect x="254" y="182" width="6" height="7" fill="#000087"/>
<rect x="260" y="182" width="6" height="7" fill="#0048ff"/>
<rect x="266" y="182" width="7" height="7" fill="#00a7ff"/>
<rect x="273" y="182" width="6" height="7" fill="#00b7ff"/>
<rect x="279" y="182" width="19" height="7" fill="#00a7ff"/>
<rect x="298" y="182" width="6" height="7" fill="#00d7ff"/>
<rect x="304" y="182" width="6" height="7" fill="#00a7ff"/>
<rect x="310" y="182" width="7" height="7" fill="#0087ff"/>
<rect x="317" y="182" width="6" height="7" fill="#00d7ff"/>
<rect x="323" y="182" width="6" height="7" fill="#0087ff"/>
<rect x="329" y="182" width="7" height="7" fill="#00a7ff"/>
<rect x="336" y="182" width="6" height="7" fill="#00f7ff"/>
<rect x="342" y="182" width="6" height="7" fill="#0087ff"/>
<rect x="348" y="182" width="13" height="7" fill="#00a7ff"/>
<rect x="361" y="182" width="6" height="7" fill="#00f7ff"/>
<rect x="367" y="182" width="6" height="7" fill="#00b7ff"/>
<rect x="373" y="182" width="7" height="7" fill="#00d7ff"/>
<rect x="380" y="182" width="6" height="7" fill="#00f7ff"/>
<rect x="386" y="182" width="6" height="7" fill="#08fff7"/>
<rect x="392" y="182" width="6" height="7" fill="#38ffc7"/>
<rect x="398" y="182" width="13" height="7" fill="#08fff7"/>
<rect x="411" y="182" width="6" height="7" fill="#00f7ff"/>
<rect x="417" y="182" width="13" height="7" fill="#00a7ff"/>
<rect x="430" y="182" width="6" height="7" fill="#08fff7"/>
<rect x="436" y="182" width="6" height="7" fill="#00d7ff"/>
<rect x="442" y="182" width="7" height="7" fill="#00a7ff"/>
<rect x="449" y="182" width="6" height="7" fill="#0087ff"/>
<rect x="455" y="182" width="13" height="7" fill="#00b7ff"/>
<rect x="468" y="182" width="6" height="7" fill="#00d7ff"/>
<rect x="474" y="182" width="6" height="7" fill="#00a7ff"/>
<rect x="480" y="182" width="13" height="7" fill="#00f7ff"/>
<rect x="493" y="182" width="6" height="7" fill="#08fff7"/>
<rect x="499" y="182" width="6" height="7" fill="#38ffc7"/>
<rect x="505" y="182" width="7" height="7" fill="#58ffa7"/>
<rect x="512" y="182" width="6" height="7" fill="#00f7ff"/>
<rect x="518" y="182" width="6" height="7" fill="#78ff87"/>
<rect x="524" y="182" width="6" height="7" fill="#c7ff38"/>
<rect x="530" y="182" width="7" height="7" fill="#a7ff58"/>
<rect x="537" y="182" width="6" height="7" fill="#e7ff18"/>
<rect x="543" y="182" width="6" height="7" fill="#ffd700"/>
<rect x="116" y="189" width="6" height="6" fill="#08fff7"/>
<rect x="122" y="189" width="6" height="6" fill="#00b7ff"/>
<rect x="128" y="189" width="6" height="6" fill="#0078ff"/>
<rect x="134" y="189" width="7" height="6" fill="#08fff7"/>
<rect x="141" y="189" width="6" height="6" fill="#38ffc7"/>
<rect x="147" y="189" width="6" height="6" fill="#0058ff"/>
<rect x="153" y="189" width="7" height="6" fill="#0048ff"/>
<rect x="160" y="189" width="12" height="6" fill="#0078ff"/>
<rect x="172" y="189" width="6" height="6" fill="#0058ff"/>
<rect x="178" y="189" width="7" height="6" fill="#0048ff"/>
<rect x="185" y="189" width="12" height="6" fill="#0078ff"/>
<rect x="197" y="189" width="7" height="6" fill="#00a7ff"/>
<rect x="204" y="189" width="6" height="6" fill="#0048ff"/>
<rect x="210" y="189" width="6" height="6" fill="#0048ff"/>
<rect x="216" y="189" width="13" height="6" fill="#0078ff"/>
<rect x="229" y="189" width="6" height="6" fill="#0048ff"/>
<rect x="235" y="189" width="6" height="6" fill="#0058ff"/>
<rect x="241" y="189" width="7" height="6" fill="#00a7ff"/>
<rect x="248" y="189" width="6" height="6" fill="#0078ff"/>
<rect x="254" y="189" width="6" height="6" fill="#0048ff"/>
<rect x="260" y="189" width="6" height="6" fill="#000087"/>
<rect x="266" y="189" width="7" height="6" fill="#00a7ff"/>
<rect x="273" y="189" width="6" height="6" fill="#00b7ff"/>
<rect x="279" y="189" width="6" height="6" fill="#0087ff"/>
<rect x="285" y="189" width="7" height="6" fill="#00a7ff"/>
<rect x="292" y="189" width="6" height="6" fill="#0087ff"/>
<rect x="298" y="189" width="6" height="6" fill="#00f7ff"/>
<rect x="304" y="189" width="6" height="6" fill="#0087ff"/>
<rect x="310" y="189" width="7" height="6" fill="#0078ff"/>
<rect x="317" y="189" width="6" height="6" fill="#0087ff"/>
<rect x="323" y="189" width="6" height="6" fill="#0058ff"/>
<rect x="329" y="189" width="7" height="6" fill="#0078ff"/>
<rect x="336" y="189" width="6" height="6" fill="#00a7ff"/>
<rect x="342" y="189" width="19" height="6" fill="#0038ff"/>
<rect x="361" y="189" width="6" height="6" fill="#00f7ff"/>
<rect x="367" y="189" width="13" height="6" fill="#00b7ff"/>
<rect x="380" y="189" width="6" height="6" fill="#00d7ff"/>
<rect x="386" y="189" width="6" height="6" fill="#00f7ff"/>
<rect x="392" y="189" width="6" height="6" fill="#08fff7"/>
<rect x="398" y="189" width="13" height="6" fill="#00d7ff"/>
<rect x="411" y="189" width="6" height="6" fill="#00a7ff"/>
<rect x="417" y="189" width="7" height="6" fill="#0078ff"/>
<rect x="424" y="189" width="6" height="6" fill="#0087ff"/>
<rect x="430" y="189" width="6" height="6" fill="#08fff7"/>
<rect x="436" y="189" width="6" height="6" fill="#00a7ff"/>
<rect x="442" y="189" width="7" height="6" fill="#0087ff"/>
<rect x="449" y="189" width="6" height="6" fill="#0078ff"/>
<rect x="455" y="189" width="6" height="6" fill="#00a7ff"/>
<rect x="461" y="189" width="7" height="6" fill="#0078ff"/>
<rect x="468" y="189" width="6" height="6" fill="#00a7ff"/>
<rect x="474" y="189" width="6" height="6" fill="#0078ff"/>
<rect x="480" y="189" width="13" height="6" fill="#00d7ff"/>
<rect x="493" y="189" width="6" height="6" fill="#08fff7"/>
<rect x="499" y="189" width="6" height="6" fill="#58ffa7"/>
<rect x="505" y="189" width="7" height="6" fill="#78ff87"/>
<rect x="512" y="189" width="6" height="6" fill="#00f7ff"/>
<rect x="518" y="189" width="6" height="6" fill="#a7ff58"/>
<rect x="524" y="189" width="13" height="6" fill="#e7ff18"/>
<rect x="537" y="189" width="6" height="6" fill="#fff700"/>
<rect x="543" y="189" width="6" height="6" fill="#ffb700"/>
<rect x="116" y="195" width="25" height="6" fill="#00d7ff"/>
<rect x="141" y="195" width="6" height="6" fill="#00f7ff"/>
<rect x="147" y="195" width="6" height="6" fill="#0078ff"/>
<rect x="153" y="195" width="32" height="6" fill="#00a7ff"/>
<rect x="185" y="195" width="6" height="6" fill="#00d7ff"/>
<rect x="191" y="195" width="6" height="6" fill="#00a7ff"/>
<rect x="197" y="195" width="7" height="6" fill="#00d7ff"/>
<rect x="204" y="195" width="6" height="6" fill="#0048ff"/>
<rect x="210" y="195" width="12" height="6" fill="#0087ff"/>
<rect x="222" y="195" width="7" height="6" fill="#00a7ff"/>
<rect x="229" y="195" width="12" height="6" fill="#0087ff"/>
<rect x="241" y="195" width="7" height="6" fill="#00d7ff"/>
<rect x="248" y="195" width="18" height="6" fill="#00a7ff"/>
<rect x="266" y="195" width="7" height="6" fill="#000087"/>
<rect x="273" y="195" width="6" height="6" fill="#0048ff"/>
<rect x="279" y="195" width="6" height="6" fill="#00a7ff"/>
<rect x="285" y="195" width="7" height="6" fill="#0087ff"/>
<rect x="292" y="195" width="12" height="6" fill="#00a7ff"/>
<rect x="304" y="195" width="6" height="6" fill="#0097ff"/>
<rect x="310" y="195" width="7" height="6" fill="#00a7ff"/>
<rect x="317" y="195" width="6" height="6" fill="#00d7ff"/>
<rect x="323" y="195" width="6" height="6" fill="#00b7ff"/>
<rect x="329" y="195" width="7" height="6" fill="#00d7ff"/>
<rect x="336" y="195" width="6" height="6" fill="#00f7ff"/>
<rect x="342" y="195" width="6" height="6" fill="#00b7ff"/>
<rect x="348" y="195" width="13" height="6" fill="#00d7ff"/>
<rect x="361" y="195" width="6" height="6" fill="#00b7ff"/>
<rect x="367" y="195" width="6" height="6" fill="#00d7ff"/>
<rect x="373" y="195" width="7" height="6" fill="#58ffa7"/>
<rect x="380" y="195" width="6" height="6" fill="#78ff87"/>
<rect x="386" y="195" width="12" height="6" fill="#a7ff58"/>
<rect x="398" y="195" width="13" height="6" fill="#78ff87"/>
<rect x="411" y="195" width="6" height="6" fill="#58ffa7"/>
<rect x="417" y="195" width="13" height="6" fill="#08fff7"/>
<rect x="430" y="195" width="6" height="6" fill="#a7ff58"/>
<rect x="436" y="195" width="6" height="6" fill="#58ffa7"/>
<rect x="442" y="195" width="7" height="6" fill="#00f7ff"/>
<rect x="449" y="195" width="6" height="6" fill="#00d7ff"/>
<rect x="455" y="195" width="6" height="6" fill="#08fff7"/>
<rect x="461" y="195" width="7" height="6" fill="#00f7ff"/>
<rect x="468" y="195" width="6" height="6" fill="#08fff7"/>
<rect x="474" y="195" width="6" height="6" fill="#00d7ff"/>
<rect x="480" y="195" width="13" height="6" fill="#38ffc7"/>
<rect x="493" y="195" width="6" height="6" fill="#00d7ff"/>
<rect x="499" y="195" width="13" height="6" fill="#08fff7"/>
<rect x="512" y="195" width="6" height="6" fill="#00d7ff"/>
<rect x="518" y="195" width="6" height="6" fill="#38ffc7"/>
<rect x="524" y="195" width="6" height="6" fill="#78ff87"/>
<rect x="530" y="195" width="7" height="6" fill="#58ffa7"/>
<rect x="537" y="195" width="6" height="6" fill="#c7ff38"/>
<rect x="543" y="195" width="6" height="6" fill="#e7ff18"/>
<rect x="116" y="201" width="6" height="7" fill="#08fff7"/>
<rect x="122" y="201" width="6" height="7" fill="#00d7ff"/>
<rect x="128" y="201" width="6" height="7" fill="#08fff7"/>
<rect x="134" y="201" width="13" height="7" fill="#38ffc7"/>
<rect x="147" y="201" width="6" height="7" fill="#00f7ff"/>
<rect x="153" y="201" width="7" height="7" fill="#08fff7"/>
<rect x="160" y="201" width="6" height="7" fill="#58ffa7"/>
<rect x="166" y="201" width="6" height="7" fill="#00f7ff"/>
<rect x="172" y="201" width="13" height="7" fill="#00d7ff"/>
<rect x="185" y="201" width="6" height="7" fill="#00f7ff"/>
<rect x="191" y="201" width="6" height="7" fill="#00d7ff"/>
<rect x="197" y="201" width="7" height="7" fill="#00f7ff"/>
<rect x="204" y="201" width="6" height="7" fill="#00a7ff"/>
<rect x="210" y="201" width="6" height="7" fill="#00b7ff"/>
<rect x="216" y="201" width="6" height="7" fill="#00d7ff"/>
<rect x="222" y="201" width="13" height="7" fill="#00b7ff"/>
<rect x="235" y="201" width="6" height="7" fill="#00a7ff"/>
<rect x="241" y="201" width="7" height="7" fill="#00f7ff"/>
<rect x="248" y="201" width="6" height="7" fill="#00d7ff"/>
<rect x="254" y="201" width="12" height="7" fill="#00b7ff"/>
<rect x="266" y="201" width="7" height="7" fill="#0048ff"/>
<rect x="273" y="201" width="6" height="7" fill="#000087"/>
<rect x="279" y="201" width="6" height="7" fill="#00d7ff"/>
<rect x="285" y="201" width="7" height="7" fill="#0097ff"/>
<rect x="292" y="201" width="6" height="7" fill="#00f7ff"/>
<rect x="298" y="201" width="6" height="7" fill="#38ffc7"/>
<rect x="304" y="201" width="13" height="7" fill="#00d7ff"/>
<rect x="317" y="201" width="12" height="7" fill="#08fff7"/>
<rect x="329" y="201" width="13" height="7" fill="#38ffc7"/>
<rect x="342" y="201" width="6" height="7" fill="#00f7ff"/>
<rect x="348" y="201" width="6" height="7" fill="#08fff7"/>
<rect x="354" y="201" width="7" height="7" fill="#00d7ff"/>
<rect x="361" y="201" width="6" height="7" fill="#38ffc7"/>
<rect x="367" y="201" width="6" height="7" fill="#00d7ff"/>
<rect x="373" y="201" width="13" height="7" fill="#78ff87"/>
<rect x="386" y="201" width="19" height="7" fill="#a7ff58"/>
<rect x="405" y="201" width="6" height="7" fill="#c7ff38"/>
<rect x="411" y="201" width="6" height="7" fill="#78ff87"/>
<rect x="417" y="201" width="13" height="7" fill="#38ffc7"/>
<rect x="430" y="201" width="6" height="7" fill="#a7ff58"/>
<rect x="436" y="201" width="6" height="7" fill="#58ffa7"/>
<rect x="442" y="201" width="13" height="7" fill="#08fff7"/>
<rect x="455" y="201" width="13" height="7" fill="#58ffa7"/>
<rect x="468" y="201" width="6" height="7" fill="#38ffc7"/>
<rect x="474" y="201" width="6" height="7" fill="#08fff7"/>
<rect x="480" y="201" width="6" height="7" fill="#78ff87"/>
<rect x="486" y="201" width="7" height="7" fill="#58ffa7"/>
<rect x="493" y="201" width="6" height="7" fill="#00d7ff"/>
<rect x="499" y="201" width="13" height="7" fill="#38ffc7"/>
<rect x="512" y="201" width="6" height="7" fill="#00d7ff"/>
<rect x="518" y="201" width="6" height="7" fill="#78ff87"/>
<rect x="524" y="201" width="13" height="7" fill="#a7ff58"/>
<rect x="537" y="201" width="6" height="7" fill="#e7ff18"/>
<rect x="543" y="201" width="6" height="7" fill="#ffd700"/>
<rect x="116" y="208" width="12" height="6" fill="#00a7ff"/>
<rect x="128" y="208" width="6" height="6" fill="#08fff7"/>
<rect x="134" y="208" width="7" height="6" fill="#00a7ff"/>
<rect x="141" y="208" width="6" height="6" fill="#00d7ff"/>
<rect x="147" y="208" width="6" height="6" fill="#00a7ff"/>
<rect x="153" y="208" width="13" height="6" fill="#00d7ff"/>
<rect x="166" y="208" width="6" height="6" fill="#00b7ff"/>
<rect x="172" y="208" width="6" height="6" fill="#00a7ff"/>
<rect x="178" y="208" width="7" height="6" fill="#00b7ff"/>
<rect x="185" y="208" width="6" height="6" fill="#00d7ff"/>
<rect x="191" y="208" width="6" height="6" fill="#00a7ff"/>
<rect x="197" y="208" width="7" height="6" fill="#00d7ff"/>
<rect x="204" y="208" width="6" height="6" fill="#0048ff"/>
<rect x="210" y="208" width="6" height="6" fill="#0078ff"/>
<rect x="216" y="208" width="13" height="6" fill="#00a7ff"/>
<rect x="229" y="208" width="6" height="6" fill="#0078ff"/>
<rect x="235" y="208" width="6" height="6" fill="#0048ff"/>
<rect x="241" y="208" width="7" height="6" fill="#00b7ff"/>
<rect x="248" y="208" width="12" height="6" fill="#00a7ff"/>
<rect x="260" y="208" width="6" height="6" fill="#0087ff"/>
<rect x="266" y="208" width="7" height="6" fill="#00a7ff"/>
<rect x="273" y="208" width="6" height="6" fill="#00d7ff"/>
<rect x="279" y="208" width="6" height="6" fill="#000087"/>
<rect x="285" y="208" width="13" height="6" fill="#0038ff"/>
<rect x="298" y="208" width="6" height="6" fill="#0078ff"/>
<rect x="304" y="208" width="13" height="6" fill="#0038ff"/>
<rect x="317" y="208" width="6" height="6" fill="#00f7ff"/>
<rect x="323" y="208" width="6" height="6" fill="#00a7ff"/>
<rect x="329" y="208" width="7" height="6" fill="#00d7ff"/>
<rect x="336" y="208" width="6" height="6" fill="#38ffc7"/>
<rect x="342" y="208" width="6" height="6" fill="#00a7ff"/>
<rect x="348" y="208" width="6" height="6" fill="#00b7ff"/>
<rect x="354" y="208" width="7" height="6" fill="#00a7ff"/>
<rect x="361" y="208" width="6" height="6" fill="#00b7ff"/>
<rect x="367" y="208" width="6" height="6" fill="#00a7ff"/>
<rect x="373" y="208" width="13" height="6" fill="#78ff87"/>
<rect x="386" y="208" width="6" height="6" fill="#a7ff58"/>
<rect x="392" y="208" width="6" height="6" fill="#c7ff38"/>
<rect x="398" y="208" width="7" height="6" fill="#a7ff58"/>
<rect x="405" y="208" width="6" height="6" fill="#78ff87"/>
<rect x="411" y="208" width="6" height="6" fill="#58ffa7"/>
<rect x="417" y="208" width="7" height="6" fill="#08fff7"/>
<rect x="424" y="208" width="6" height="6" fill="#38ffc7"/>
<rect x="430" y="208" width="6" height="6" fill="#a7ff58"/>
<rect x="436" y="208" width="6" height="6" fill="#58ffa7"/>
<rect x="442" y="208" width="7" height="6" fill="#08fff7"/>
<rect x="449" y="208" width="6" height="6" fill="#00d7ff"/>
<rect x="455" y="208" width="6" height="6" fill="#08fff7"/>
<rect x="461" y="208" width="7" height="6" fill="#00f7ff"/>
<rect x="468" y="208" width="6" height="6" fill="#08fff7"/>
<rect x="474" y="208" width="6" height="6" fill="#00d7ff"/>
<rect x="480" y="208" width="13" height="6" fill="#38ffc7"/>
<rect x="493" y="208" width="6" height="6" fill="#00a7ff"/>
<rect x="499" y="208" width="13" height="6" fill="#00d7ff"/>
<rect x="512" y="208" width="6" height="6" fill="#00a7ff"/>
<rect x="518" y="208" width="6" height="6" fill="#00d7ff"/>
<rect x="524" y="208" width="6" height="6" fill="#58ffa7"/>
<rect x="530" y="208" width="7" height="6" fill="#38ffc7"/>
<rect x="537" y="208" width="6" height="6" fill="#78ff87"/>
<rect x="543" y="208" width="6" height="6" fill="#c7ff38"/>
<rect x="116" y="214" width="12" height="6" fill="#00a7ff"/>
<rect x="128" y="214" width="6" height="6" fill="#08fff7"/>
<rect x="134" y="214" width="7" height="6" fill="#00a7ff"/>
<rect x="141" y="214" width="6" height="6" fill="#00d7ff"/>
<rect x="147" y="214" width="6" height="6" fill="#00a7ff"/>
<rect x="153" y="214" width="7" height="6" fill="#00d7ff"/>
<rect x="160" y="214" width="6" height="6" fill="#00f7ff"/>
<rect x="166" y="214" width="6" height="6" fill="#00d7ff"/>
<rect x="172" y="214" width="6" height="6" fill="#00b7ff"/>
<rect x="178" y="214" width="7" height="6" fill="#00d7ff"/>
<rect x="185" y="214" width="6" height="6" fill="#00f7ff"/>
<rect x="191" y="214" width="6" height="6" fill="#00a7ff"/>
<rect x="197" y="214" width="7" height="6" fill="#00b7ff"/>
<rect x="204" y="214" width="25" height="6" fill="#00a7ff"/>
<rect x="229" y="214" width="12" height="6" fill="#0087ff"/>
<rect x="241" y="214" width="7" height="6" fill="#00d7ff"/>
<rect x="248" y="214" width="18" height="6" fill="#00a7ff"/>
<rect x="266" y="214" width="7" height="6" fill="#0087ff"/>
<rect x="273" y="214" width="6" height="6" fill="#0097ff"/>
<rect x="279" y="214" width="6" height="6" fill="#0038ff"/>
<rect x="285" y="214" width="7" height="6" fill="#000087"/>
<rect x="292" y="214" width="18" height="6" fill="#0078ff"/>
<rect x="310" y="214" width="7" height="6" fill="#0048ff"/>
<rect x="317" y="214" width="6" height="6" fill="#38ffc7"/>
<rect x="323" y="214" width="6" height="6" fill="#00d7ff"/>
<rect x="329" y="214" width="7" height="6" fill="#00f7ff"/>
<rect x="336" y="214" width="6" height="6" fill="#78ff87"/>
<rect x="342" y="214" width="6" height="6" fill="#00d7ff"/>
<rect x="348" y="214" width="6" height="6" fill="#00f7ff"/>
<rect x="354" y="214" width="13" height="6" fill="#00d7ff"/>
<rect x="367" y="214" width="6" height="6" fill="#00a7ff"/>
<rect x="373" y="214" width="13" height="6" fill="#a7ff58"/>
<rect x="386" y="214" width="12" height="6" fill="#c7ff38"/>
<rect x="398" y="214" width="13" height="6" fill="#a7ff58"/>
<rect x="411" y="214" width="6" height="6" fill="#78ff87"/>
<rect x="417" y="214" width="13" height="6" fill="#08fff7"/>
<rect x="430" y="214" width="6" height="6" fill="#c7ff38"/>
<rect x="436" y="214" width="6" height="6" fill="#78ff87"/>
<rect x="442" y="214" width="7" height="6" fill="#38ffc7"/>
<rect x="449" y="214" width="6" height="6" fill="#08fff7"/>
<rect x="455" y="214" width="13" height="6" fill="#38ffc7"/>
<rect x="468" y="214" width="6" height="6" fill="#08fff7"/>
<rect x="474" y="214" width="6" height="6" fill="#00f7ff"/>
<rect x="480" y="214" width="6" height="6" fill="#58ffa7"/>
<rect x="486" y="214" width="7" height="6" fill="#38ffc7"/>
<rect x="493" y="214" width="6" height="6" fill="#00a7ff"/>
<rect x="499" y="214" width="6" height="6" fill="#00d7ff"/>
<rect x="505" y="214" width="7" height="6" fill="#00f7ff"/>
<rect x="512" y="214" width="6" height="6" fill="#00b7ff"/>
<rect x="518" y="214" width="6" height="6" fill="#00d7ff"/>
<rect x="524" y="214" width="6" height="6" fill="#38ffc7"/>
<rect x="530" y="214" width="7" height="6" fill="#08fff7"/>
<rect x="537" y="214" width="6" height="6" fill="#78ff87"/>
<rect x="543" y="214" width="6" height="6" fill="#a7ff58"/>
<rect x="116" y="220" width="6" height="6" fill="#0048ff"/>
<rect x="122" y="220" width="6" height="6" fill="#00a7ff"/>
<rect x="128" y="220" width="6" height="6" fill="#08fff7"/>
<rect x="134" y="220" width="7" height="6" fill="#0087ff"/>
<rect x="141" y="220" width="6" height="6" fill="#00d7ff"/>
<rect x="147" y="220" width="6" height="6" fill="#0087ff"/>
<rect x="153" y="220" width="13" height="6" fill="#00d7ff"/>
<rect x="166" y="220" width="6" height="6" fill="#00b7ff"/>
<rect x="172" y="220" width="6" height="6" fill="#00a7ff"/>
<rect x="178" y="220" width="7" height="6" fill="#00b7ff"/>
<rect x="185" y="220" width="6" height="6" fill="#00d7ff"/>
<rect x="191" y="220" width="6" height="6" fill="#00a7ff"/>
<rect x="197" y="220" width="7" height="6" fill="#00d7ff"/>
<rect x="204" y="220" width="12" height="6" fill="#0078ff"/>
<rect x="216" y="220" width="6" height="6" fill="#0087ff"/>
<rect x="222" y="220" width="7" height="6" fill="#00a7ff"/>
<rect x="229" y="220" width="6" height="6" fill="#0058ff"/>
<rect x="235" y="220" width="6" height="6" fill="#0078ff"/>
<rect x="241" y="220" width="7" height="6" fill="#00a7ff"/>
<rect x="248" y="220" width="6" height="6" fill="#0048ff"/>
<rect x="254" y="220" width="6" height="6" fill="#00a7ff"/>
<rect x="260" y="220" width="6" height="6" fill="#0087ff"/>
<rect x="266" y="220" width="7" height="6" fill="#00a7ff"/>
<rect x="273" y="220" width="6" height="6" fill="#00f7ff"/>
<rect x="279" y="220" width="6" height="6" fill="#0038ff"/>
<rect x="285" y="220" width="7" height="6" fill="#0078ff"/>
<rect x="292" y="220" width="6" height="6" fill="#000087"/>
<rect x="298" y="220" width="6" height="6" fill="#0078ff"/>
<rect x="304" y="220" width="13" height="6" fill="#0038ff"/>
<rect x="317" y="220" width="6" height="6" fill="#08fff7"/>
<rect x="323" y="220" width="6" height="6" fill="#00d7ff"/>
<rect x="329" y="220" width="7" height="6" fill="#00f7ff"/>
<rect x="336" y="220" width="6" height="6" fill="#78ff87"/>
<rect x="342" y="220" width="12" height="6" fill="#00d7ff"/>
<rect x="354" y="220" width="13" height="6" fill="#00b7ff"/>
<rect x="367" y="220" width="6" height="6" fill="#00a7ff"/>
<rect x="373" y="220" width="13" height="6" fill="#78ff87"/>
<rect x="386" y="220" width="6" height="6" fill="#a7ff58"/>
<rect x="392" y="220" width="6" height="6" fill="#c7ff38"/>
<rect x="398" y="220" width="7" height="6" fill="#a7ff58"/>
<rect x="405" y="220" width="6" height="6" fill="#78ff87"/>
<rect x="411" y="220" width="6" height="6" fill="#58ffa7"/>
<rect x="417" y="220" width="13" height="6" fill="#08fff7"/>
<rect x="430" y="220" width="6" height="6" fill="#78ff87"/>
<rect x="436" y="220" width="6" height="6" fill="#58ffa7"/>
<rect x="442" y="220" width="7" height="6" fill="#08fff7"/>
<rect x="449" y="220" width="6" height="6" fill="#00d7ff"/>
<rect x="455" y="220" width="6" height="6" fill="#08fff7"/>
<rect x="461" y="220" width="7" height="6" fill="#00d7ff"/>
<rect x="468" y="220" width="6" height="6" fill="#00f7ff"/>
<rect x="474" y="220" width="6" height="6" fill="#00b7ff"/>
<rect x="480" y="220" width="6" height="6" fill="#38ffc7"/>
<rect x="486" y="220" width="7" height="6" fill="#08fff7"/>
<rect x="493" y="220" width="6" height="6" fill="#00a7ff"/>
<rect x="499" y="220" width="6" height="6" fill="#00d7ff"/>
<rect x="505" y="220" width="7" height="6" fill="#00f7ff"/>
<rect x="512" y="220" width="6" height="6" fill="#0087ff"/>
<rect x="518" y="220" width="6" height="6" fill="#00f7ff"/>
<rect x="524" y="220" width="13" height="6" fill="#58ffa7"/>
<rect x="537" y="220" width="6" height="6" fill="#78ff87"/>
<rect x="543" y="220" width="6" height="6" fill="#a7ff58"/>
<rect x="116" y="226" width="6" height="7" fill="#0087ff"/>
<rect x="122" y="226" width="6" height="7" fill="#00d7ff"/>
<rect x="128" y="226" width="6" height="7" fill="#58ffa7"/>
<rect x="134" y="226" width="7" height="7" fill="#00a7ff"/>
<rect x="141" y="226" width="6" height="7" fill="#00f7ff"/>
<rect x="147" y="226" width="6" height="7" fill="#00d7ff"/>
<rect x="153" y="226" width="13" height="7" fill="#38ffc7"/>
<rect x="166" y="226" width="6" height="7" fill="#00f7ff"/>
<rect x="172" y="226" width="6" height="7" fill="#00d7ff"/>
<rect x="178" y="226" width="7" height="7" fill="#00f7ff"/>
<rect x="185" y="226" width="6" height="7" fill="#38ffc7"/>
<rect x="191" y="226" width="6" height="7" fill="#00d7ff"/>
<rect x="197" y="226" width="7" height="7" fill="#38ffc7"/>
<rect x="204" y="226" width="18" height="7" fill="#00a7ff"/>
<rect x="222" y="226" width="7" height="7" fill="#00b7ff"/>
<rect x="229" y="226" width="6" height="7" fill="#0087ff"/>
<rect x="235" y="226" width="13" height="7" fill="#00a7ff"/>
<rect x="248" y="226" width="6" height="7" fill="#00f7ff"/>
<rect x="254" y="226" width="6" height="7" fill="#00d7ff"/>
<rect x="260" y="226" width="6" height="7" fill="#00f7ff"/>
<rect x="266" y="226" width="7" height="7" fill="#00a7ff"/>
<rect x="273" y="226" width="6" height="7" fill="#38ffc7"/>
<rect x="279" y="226" width="19" height="7" fill="#0078ff"/>
<rect x="298" y="226" width="6" height="7" fill="#000087"/>
<rect x="304" y="226" width="13" height="7" fill="#0038ff"/>
<rect x="317" y="226" width="6" height="7" fill="#78ff87"/>
<rect x="323" y="226" width="6" height="7" fill="#08fff7"/>
<rect x="329" y="226" width="7" height="7" fill="#38ffc7"/>
<rect x="336" y="226" width="6" height="7" fill="#c7ff38"/>
<rect x="342" y="226" width="6" height="7" fill="#00f7ff"/>
<rect x="348" y="226" width="6" height="7" fill="#08fff7"/>
<rect x="354" y="226" width="7" height="7" fill="#00d7ff"/>
<rect x="361" y="226" width="6" height="7" fill="#00f7ff"/>
<rect x="367" y="226" width="6" height="7" fill="#00d7ff"/>
<rect x="373" y="226" width="13" height="7" fill="#e7ff18"/>
<rect x="386" y="226" width="12" height="7" fill="#ffd700"/>
<rect x="398" y="226" width="7" height="7" fill="#fff700"/>
<rect x="405" y="226" width="6" height="7" fill="#e7ff18"/>
<rect x="411" y="226" width="6" height="7" fill="#c7ff38"/>
<rect x="417" y="226" width="13" height="7" fill="#a7ff58"/>
<rect x="430" y="226" width="6" height="7" fill="#c7ff38"/>
<rect x="436" y="226" width="6" height="7" fill="#a7ff58"/>
<rect x="442" y="226" width="7" height="7" fill="#78ff87"/>
<rect x="449" y="226" width="19" height="7" fill="#58ffa7"/>
<rect x="468" y="226" width="6" height="7" fill="#78ff87"/>
<rect x="474" y="226" width="6" height="7" fill="#38ffc7"/>
<rect x="480" y="226" width="6" height="7" fill="#a7ff58"/>
<rect x="486" y="226" width="7" height="7" fill="#78ff87"/>
<rect x="493" y="226" width="25" height="7" fill="#00a7ff"/>
<rect x="518" y="226" width="6" height="7" fill="#00b7ff"/>
<rect x="524" y="226" width="6" height="7" fill="#00d7ff"/>
<rect x="530" y="226" width="7" height="7" fill="#00b7ff"/>
<rect x="537" y="226" width="6" height="7" fill="#08fff7"/>
<rect x="543" y="226" width="6" height="7" fill="#38ffc7"/>
<rect x="116" y="233" width="12" height="6" fill="#00a7ff"/>
<rect x="128" y="233" width="6" height="6" fill="#00d7ff"/>
<rect x="134" y="233" width="7" height="6" fill="#00a7ff"/>
<rect x="141" y="233" width="6" height="6" fill="#00f7ff"/>
<rect x="147" y="233" width="6" height="6" fill="#00a7ff"/>
<rect x="153" y="233" width="13" height="6" fill="#00d7ff"/>
<rect x="166" y="233" width="6" height="6" fill="#00b7ff"/>
<rect x="172" y="233" width="6" height="6" fill="#0078ff"/>
<rect x="178" y="233" width="7" height="6" fill="#00a7ff"/>
<rect x="185" y="233" width="6" height="6" fill="#00b7ff"/>
<rect x="191" y="233" width="6" height="6" fill="#0087ff"/>
<rect x="197" y="233" width="7" height="6" fill="#00d7ff"/>
<rect x="204" y="233" width="6" height="6" fill="#0078ff"/>
<rect x="210" y="233" width="6" height="6" fill="#0058ff"/>
<rect x="216" y="233" width="13" height="6" fill="#0048ff"/>
<rect x="229" y="233" width="6" height="6" fill="#0038ff"/>
<rect x="235" y="233" width="6" height="6" fill="#0058ff"/>
<rect x="241" y="233" width="7" height="6" fill="#0078ff"/>
<rect x="248" y="233" width="12" height="6" fill="#00a7ff"/>
<rect x="260" y="233" width="6" height="6" fill="#0087ff"/>
<rect x="266" y="233" width="7" height="6" fill="#0097ff"/>
<rect x="273" y="233" width="6" height="6" fill="#00d7ff"/>
<rect x="279" y="233" width="6" height="6" fill="#0038ff"/>
<rect x="285" y="233" width="7" height="6" fill="#0078ff"/>
<rect x="292" y="233" width="12" height="6" fill="#0038ff"/>
<rect x="304" y="233" width="6" height="6" fill="#000087"/>
<rect x="310" y="233" width="7" height="6" fill="#0038ff"/>
<rect x="317" y="233" width="6" height="6" fill="#08fff7"/>
<rect x="323" y="233" width="6" height="6" fill="#00b7ff"/>
<rect x="329" y="233" width="7" height="6" fill="#00d7ff"/>
<rect x="336" y="233" width="6" height="6" fill="#58ffa7"/>
<rect x="342" y="233" width="6" height="6" fill="#00a7ff"/>
<rect x="348" y="233" width="6" height="6" fill="#00b7ff"/>
<rect x="354" y="233" width="7" height="6" fill="#0087ff"/>
<rect x="361" y="233" width="12" height="6" fill="#00a7ff"/>
<rect x="373" y="233" width="7" height="6" fill="#58ffa7"/>
<rect x="380" y="233" width="12" height="6" fill="#78ff87"/>
<rect x="392" y="233" width="6" height="6" fill="#a7ff58"/>
<rect x="398" y="233" width="7" height="6" fill="#78ff87"/>
<rect x="405" y="233" width="6" height="6" fill="#58ffa7"/>
<rect x="411" y="233" width="6" height="6" fill="#38ffc7"/>
<rect x="417" y="233" width="13" height="6" fill="#08fff7"/>
<rect x="430" y="233" width="6" height="6" fill="#78ff87"/>
<rect x="436" y="233" width="6" height="6" fill="#08fff7"/>
<rect x="442" y="233" width="7" height="6" fill="#00d7ff"/>
<rect x="449" y="233" width="19" height="6" fill="#00b7ff"/>
<rect x="468" y="233" width="6" height="6" fill="#00d7ff"/>
<rect x="474" y="233" width="6" height="6" fill="#00a7ff"/>
<rect x="480" y="233" width="13" height="6" fill="#08fff7"/>
<rect x="493" y="233" width="6" height="6" fill="#00a7ff"/>
<rect x="499" y="233" width="6" height="6" fill="#00b7ff"/>
<rect x="505" y="233" width="7" height="6" fill="#00d7ff"/>
<rect x="512" y="233" width="6" height="6" fill="#0087ff"/>
<rect x="518" y="233" width="6" height="6" fill="#00f7ff"/>
<rect x="524" y="233" width="13" height="6" fill="#58ffa7"/>
<rect x="537" y="233" width="6" height="6" fill="#78ff87"/>
<rect x="543" y="233" width="6" height="6" fill="#a7ff58"/>
<rect x="116" y="239" width="6" height="6" fill="#0048ff"/>
<rect x="122" y="239" width="6" height="6" fill="#00a7ff"/>
<rect x="128" y="239" width="6" height="6" fill="#00d7ff"/>
<rect x="134" y="239" width="7" height="6" fill="#0087ff"/>
<rect x="141" y="239" width="6" height="6" fill="#00d7ff"/>
<rect x="147" y="239" width="6" height="6" fill="#00a7ff"/>
<rect x="153" y="239" width="13" height="6" fill="#00d7ff"/>
<rect x="166" y="239" width="6" height="6" fill="#00a7ff"/>
<rect x="172" y="239" width="6" height="6" fill="#0078ff"/>
<rect x="178" y="239" width="7" height="6" fill="#00a7ff"/>
<rect x="185" y="239" width="6" height="6" fill="#00b7ff"/>
<rect x="191" y="239" width="6" height="6" fill="#0087ff"/>
<rect x="197" y="239" width="7" height="6" fill="#00b7ff"/>
<rect x="204" y="239" width="6" height="6" fill="#0048ff"/>
<rect x="210" y="239" width="6" height="6" fill="#0058ff"/>
<rect x="216" y="239" width="6" height="6" fill="#0078ff"/>
<rect x="222" y="239" width="7" height="6" fill="#0048ff"/>
<rect x="229" y="239" width="6" height="6" fill="#0078ff"/>
<rect x="235" y="239" width="6" height="6" fill="#0048ff"/>
<rect x="241" y="239" width="7" height="6" fill="#0087ff"/>
<rect x="248" y="239" width="6" height="6" fill="#00a7ff"/>
<rect x="254" y="239" width="6" height="6" fill="#0087ff"/>
<rect x="260" y="239" width="6" height="6" fill="#0078ff"/>
<rect x="266" y="239" width="7" height="6" fill="#00a7ff"/>
<rect x="273" y="239" width="6" height="6" fill="#00d7ff"/>
<rect x="279" y="239" width="6" height="6" fill="#0038ff"/>
<rect x="285" y="239" width="7" height="6" fill="#0048ff"/>
<rect x="292" y="239" width="18" height="6" fill="#0038ff"/>
<rect x="310" y="239" width="7" height="6" fill="#000087"/>
<rect x="317" y="239" width="6" height="6" fill="#08fff7"/>
<rect x="323" y="239" width="6" height="6" fill="#00d7ff"/>
<rect x="329" y="239" width="7" height="6" fill="#00f7ff"/>
<rect x="336" y="239" width="6" height="6" fill="#58ffa7"/>
<rect x="342" y="239" width="6" height="6" fill="#00b7ff"/>
<rect x="348" y="239" width="6" height="6" fill="#00d7ff"/>
<rect x="354" y="239" width="13" height="6" fill="#00b7ff"/>
<rect x="367" y="239" width="6" height="6" fill="#0087ff"/>
<rect x="373" y="239" width="13" height="6" fill="#78ff87"/>
<rect x="386" y="239" width="19" height="6" fill="#a7ff58"/>
<rect x="405" y="239" width="12" height="6" fill="#78ff87"/>
<rect x="417" y="239" width="13" height="6" fill="#08fff7"/>
<rect x="430" y="239" width="6" height="6" fill="#78ff87"/>
<rect x="436" y="239" width="6" height="6" fill="#38ffc7"/>
<rect x="442" y="239" width="7" height="6" fill="#08fff7"/>
<rect x="449" y="239" width="6" height="6" fill="#00f7ff"/>
<rect x="455" y="239" width="19" height="6" fill="#08fff7"/>
<rect x="474" y="239" width="6" height="6" fill="#00d7ff"/>
<rect x="480" y="239" width="13" height="6" fill="#38ffc7"/>
<rect x="493" y="239" width="6" height="6" fill="#0087ff"/>
<rect x="499" y="239" width="13" height="6" fill="#00a7ff"/>
<rect x="512" y="239" width="6" height="6" fill="#0087ff"/>
<rect x="518" y="239" width="6" height="6" fill="#00b7ff"/>
<rect x="524" y="239" width="13" height="6" fill="#38ffc7"/>
<rect x="537" y="239" width="6" height="6" fill="#58ffa7"/>
<rect x="543" y="239" width="6" height="6" fill="#78ff87"/>
<rect x="116" y="245" width="6" height="7" fill="#a7ff58"/>
<rect x="122" y="245" width="6" height="7" fill="#58ffa7"/>
<rect x="128" y="245" width="6" height="7" fill="#00a7ff"/>
<rect x="134" y="245" width="7" height="7" fill="#a7ff58"/>
<rect x="141" y="245" width="6" height="7" fill="#c7ff38"/>
<rect x="147" y="245" width="13" height="7" fill="#00a7ff"/>
<rect x="160" y="245" width="6" height="7" fill="#0078ff"/>
<rect x="166" y="245" width="6" height="7" fill="#00a7ff"/>
<rect x="172" y="245" width="13" height="7" fill="#0087ff"/>
<rect x="185" y="245" width="6" height="7" fill="#0048ff"/>
<rect x="191" y="245" width="6" height="7" fill="#00a7ff"/>
<rect x="197" y="245" width="7" height="7" fill="#08fff7"/>
<rect x="204" y="245" width="6" height="7" fill="#00a7ff"/>
<rect x="210" y="245" width="6" height="7" fill="#0087ff"/>
<rect x="216" y="245" width="6" height="7" fill="#00b7ff"/>
<rect x="222" y="245" width="7" height="7" fill="#00d7ff"/>
<rect x="229" y="245" width="12" height="7" fill="#00a7ff"/>
<rect x="241" y="245" width="7" height="7" fill="#08fff7"/>
<rect x="248" y="245" width="6" height="7" fill="#00a7ff"/>
<rect x="254" y="245" width="6" height="7" fill="#00d7ff"/>
<rect x="260" y="245" width="6" height="7" fill="#0087ff"/>
<rect x="266" y="245" width="7" height="7" fill="#00d7ff"/>
<rect x="273" y="245" width="6" height="7" fill="#08fff7"/>
<rect x="279" y="245" width="6" height="7" fill="#00f7ff"/>
<rect x="285" y="245" width="7" height="7" fill="#38ffc7"/>
<rect x="292" y="245" width="6" height="7" fill="#08fff7"/>
<rect x="298" y="245" width="6" height="7" fill="#78ff87"/>
<rect x="304" y="245" width="13" height="7" fill="#08fff7"/>
<rect x="317" y="245" width="6" height="7" fill="#000087"/>
<rect x="323" y="245" width="31" height="7" fill="#0038ff"/>
<rect x="354" y="245" width="7" height="7" fill="#0078ff"/>
<rect x="361" y="245" width="12" height="7" fill="#08fff7"/>
<rect x="373" y="245" width="7" height="7" fill="#0087ff"/>
<rect x="380" y="245" width="6" height="7" fill="#00a7ff"/>
<rect x="386" y="245" width="12" height="7" fill="#00b7ff"/>
<rect x="398" y="245" width="13" height="7" fill="#00a7ff"/>
<rect x="411" y="245" width="6" height="7" fill="#0087ff"/>
<rect x="417" y="245" width="7" height="7" fill="#0078ff"/>
<rect x="424" y="245" width="6" height="7" fill="#00a7ff"/>
<rect x="430" y="245" width="6" height="7" fill="#38ffc7"/>
<rect x="436" y="245" width="13" height="7" fill="#00a7ff"/>
<rect x="449" y="245" width="6" height="7" fill="#0087ff"/>
<rect x="455" y="245" width="6" height="7" fill="#00a7ff"/>
<rect x="461" y="245" width="7" height="7" fill="#0087ff"/>
<rect x="468" y="245" width="12" height="7" fill="#00a7ff"/>
<rect x="480" y="245" width="6" height="7" fill="#00b7ff"/>
<rect x="486" y="245" width="7" height="7" fill="#0087ff"/>
<rect x="493" y="245" width="6" height="7" fill="#78ff87"/>
<rect x="499" y="245" width="6" height="7" fill="#e7ff18"/>
<rect x="505" y="245" width="7" height="7" fill="#c7ff38"/>
<rect x="512" y="245" width="6" height="7" fill="#78ff87"/>
<rect x="518" y="245" width="6" height="7" fill="#fff700"/>
<rect x="524" y="245" width="13" height="7" fill="#ff9700"/>
<rect x="537" y="245" width="6" height="7" fill="#ff4800"/>
<rect x="543" y="245" width="6" height="7" fill="#ff2800"/>
<rect x="116" y="252" width="6" height="6" fill="#38ffc7"/>
<rect x="122" y="252" width="6" height="6" fill="#08fff7"/>
<rect x="128" y="252" width="6" height="6" fill="#0078ff"/>
<rect x="134" y="252" width="7" height="6" fill="#58ffa7"/>
<rect x="141" y="252" width="6" height="6" fill="#a7ff58"/>
<rect x="147" y="252" width="13" height="6" fill="#0078ff"/>
<rect x="160" y="252" width="6" height="6" fill="#0058ff"/>
<rect x="166" y="252" width="6" height="6" fill="#0087ff"/>
<rect x="172" y="252" width="13" height="6" fill="#0048ff"/>
<rect x="185" y="252" width="6" height="6" fill="#0058ff"/>
<rect x="191" y="252" width="6" height="6" fill="#0078ff"/>
<rect x="197" y="252" width="7" height="6" fill="#00d7ff"/>
<rect x="204" y="252" width="12" height="6" fill="#0058ff"/>
<rect x="216" y="252" width="6" height="6" fill="#0087ff"/>
<rect x="222" y="252" width="7" height="6" fill="#00a7ff"/>
<rect x="229" y="252" width="6" height="6" fill="#0058ff"/>
<rect x="235" y="252" width="6" height="6" fill="#0078ff"/>
<rect x="241" y="252" width="7" height="6" fill="#00d7ff"/>
<rect x="248" y="252" width="6" height="6" fill="#0078ff"/>
<rect x="254" y="252" width="6" height="6" fill="#0087ff"/>
<rect x="260" y="252" width="6" height="6" fill="#0058ff"/>
<rect x="266" y="252" width="7" height="6" fill="#00b7ff"/>
<rect x="273" y="252" width="6" height="6" fill="#08fff7"/>
<rect x="279" y="252" width="6" height="6" fill="#00a7ff"/>
<rect x="285" y="252" width="13" height="6" fill="#00d7ff"/>
<rect x="298" y="252" width="6" height="6" fill="#08fff7"/>
<rect x="304" y="252" width="6" height="6" fill="#00b7ff"/>
<rect x="310" y="252" width="7" height="6" fill="#00d7ff"/>
<rect x="317" y="252" width="6" height="6" fill="#0038ff"/>
<rect x="323" y="252" width="6" height="6" fill="#000087"/>
<rect x="329" y="252" width="7" height="6" fill="#0038ff"/>
<rect x="336" y="252" width="6" height="6" fill="#0078ff"/>
<rect x="342" y="252" width="19" height="6" fill="#0038ff"/>
<rect x="361" y="252" width="12" height="6" fill="#00f7ff"/>
<rect x="373" y="252" width="7" height="6" fill="#0087ff"/>
<rect x="380" y="252" width="6" height="6" fill="#00a7ff"/>
<rect x="386" y="252" width="6" height="6" fill="#00b7ff"/>
<rect x="392" y="252" width="6" height="6" fill="#00d7ff"/>
<rect x="398" y="252" width="7" height="6" fill="#00b7ff"/>
<rect x="405" y="252" width="6" height="6" fill="#00a7ff"/>
<rect x="411" y="252" width="6" height="6" fill="#0087ff"/>
<rect x="417" y="252" width="7" height="6" fill="#0078ff"/>
<rect x="424" y="252" width="6" height="6" fill="#00a7ff"/>
<rect x="430" y="252" width="6" height="6" fill="#38ffc7"/>
<rect x="436" y="252" width="13" height="6" fill="#00a7ff"/>
<rect x="449" y="252" width="6" height="6" fill="#0078ff"/>
<rect x="455" y="252" width="6" height="6" fill="#00a7ff"/>
<rect x="461" y="252" width="7" height="6" fill="#0087ff"/>
<rect x="468" y="252" width="6" height="6" fill="#0078ff"/>
<rect x="474" y="252" width="6" height="6" fill="#0058ff"/>
<rect x="480" y="252" width="6" height="6" fill="#00a7ff"/>
<rect x="486" y="252" width="7" height="6" fill="#0058ff"/>
<rect x="493" y="252" width="6" height="6" fill="#58ffa7"/>
<rect x="499" y="252" width="13" height="6" fill="#a7ff58"/>
<rect x="512" y="252" width="6" height="6" fill="#38ffc7"/>
<rect x="518" y="252" width="6" height="6" fill="#c7ff38"/>
<rect x="524" y="252" width="6" height="6" fill="#ffd700"/>
<rect x="530" y="252" width="7" height="6" fill="#fff700"/>
<rect x="537" y="252" width="6" height="6" fill="#ffb700"/>
<rect x="543" y="252" width="6" height="6" fill="#ff7800"/>
<rect x="116" y="258" width="6" height="6" fill="#58ffa7"/>
<rect x="122" y="258" width="6" height="6" fill="#08fff7"/>
<rect x="128" y="258" width="6" height="6" fill="#00a7ff"/>
<rect x="134" y="258" width="7" height="6" fill="#78ff87"/>
<rect x="141" y="258" width="6" height="6" fill="#c7ff38"/>
<rect x="147" y="258" width="6" height="6" fill="#00a7ff"/>
<rect x="153" y="258" width="7" height="6" fill="#0087ff"/>
<rect x="160" y="258" width="6" height="6" fill="#0048ff"/>
<rect x="166" y="258" width="6" height="6" fill="#00a7ff"/>
<rect x="172" y="258" width="13" height="6" fill="#0078ff"/>
<rect x="185" y="258" width="6" height="6" fill="#0087ff"/>
<rect x="191" y="258" width="6" height="6" fill="#00a7ff"/>
<rect x="197" y="258" width="7" height="6" fill="#00f7ff"/>
<rect x="204" y="258" width="12" height="6" fill="#0078ff"/>
<rect x="216" y="258" width="6" height="6" fill="#00a7ff"/>
<rect x="222" y="258" width="7" height="6" fill="#00b7ff"/>
<rect x="229" y="258" width="6" height="6" fill="#0078ff"/>
<rect x="235" y="258" width="6" height="6" fill="#0087ff"/>
<rect x="241" y="258" width="7" height="6" fill="#00d7ff"/>
<rect x="248" y="258" width="6" height="6" fill="#0087ff"/>
<rect x="254" y="258" width="6" height="6" fill="#00a7ff"/>
<rect x="260" y="258" width="6" height="6" fill="#0078ff"/>
<rect x="266" y="258" width="7" height="6" fill="#00d7ff"/>
<rect x="273" y="258" width="6" height="6" fill="#38ffc7"/>
<rect x="279" y="258" width="6" height="6" fill="#00d7ff"/>
<rect x="285" y="258" width="13" height="6" fill="#00f7ff"/>
<rect x="298" y="258" width="6" height="6" fill="#38ffc7"/>
<rect x="304" y="258" width="6" height="6" fill="#00d7ff"/>
<rect x="310" y="258" width="7" height="6" fill="#00f7ff"/>
<rect x="317" y="258" width="12" height="6" fill="#0038ff"/>
<rect x="329" y="258" width="7" height="6" fill="#000087"/>
<rect x="336" y="258" width="6" height="6" fill="#0058ff"/>
<rect x="342" y="258" width="12" height="6" fill="#0038ff"/>
<rect x="354" y="258" width="7" height="6" fill="#0078ff"/>
<rect x="361" y="258" width="12" height="6" fill="#08fff7"/>
<rect x="373" y="258" width="7" height="6" fill="#0078ff"/>
<rect x="380" y="258" width="6" height="6" fill="#0087ff"/>
<rect x="386" y="258" width="6" height="6" fill="#00a7ff"/>
<rect x="392" y="258" width="6" height="6" fill="#00b7ff"/>
<rect x="398" y="258" width="7" height="6" fill="#00a7ff"/>
<rect x="405" y="258" width="6" height="6" fill="#0087ff"/>
<rect x="411" y="258" width="13" height="6" fill="#0078ff"/>
<rect x="424" y="258" width="6" height="6" fill="#00a7ff"/>
<rect x="430" y="258" width="6" height="6" fill="#38ffc7"/>
<rect x="436" y="258" width="13" height="6" fill="#00a7ff"/>
<rect x="449" y="258" width="12" height="6" fill="#0078ff"/>
<rect x="461" y="258" width="7" height="6" fill="#0058ff"/>
<rect x="468" y="258" width="6" height="6" fill="#0087ff"/>
<rect x="474" y="258" width="6" height="6" fill="#0078ff"/>
<rect x="480" y="258" width="6" height="6" fill="#00a7ff"/>
<rect x="486" y="258" width="7" height="6" fill="#0078ff"/>
<rect x="493" y="258" width="6" height="6" fill="#78ff87"/>
<rect x="499" y="258" width="13" height="6" fill="#c7ff38"/>
<rect x="512" y="258" width="6" height="6" fill="#58ffa7"/>
<rect x="518" y="258" width="6" height="6" fill="#e7ff18"/>
<rect x="524" y="258" width="6" height="6" fill="#ff9700"/>
<rect x="530" y="258" width="7" height="6" fill="#ffb700"/>
<rect x="537" y="258" width="6" height="6" fill="#ff7800"/>
<rect x="543" y="258" width="6" height="6" fill="#ff4800"/>
<rect x="116" y="264" width="6" height="6" fill="#a7ff58"/>
<rect x="122" y="264" width="6" height="6" fill="#58ffa7"/>
<rect x="128" y="264" width="6" height="6" fill="#00a7ff"/>
<rect x="134" y="264" width="7" height="6" fill="#c7ff38"/>
<rect x="141" y="264" width="6" height="6" fill="#e7ff18"/>
<rect x="147" y="264" width="6" height="6" fill="#00d7ff"/>
<rect x="153" y="264" width="13" height="6" fill="#00a7ff"/>
<rect x="166" y="264" width="6" height="6" fill="#00d7ff"/>
<rect x="172" y="264" width="19" height="6" fill="#00a7ff"/>
<rect x="191" y="264" width="6" height="6" fill="#00b7ff"/>
<rect x="197" y="264" width="7" height="6" fill="#38ffc7"/>
<rect x="204" y="264" width="12" height="6" fill="#00a7ff"/>
<rect x="216" y="264" width="13" height="6" fill="#00f7ff"/>
<rect x="229" y="264" width="6" height="6" fill="#00b7ff"/>
<rect x="235" y="264" width="6" height="6" fill="#00d7ff"/>
<rect x="241" y="264" width="7" height="6" fill="#58ffa7"/>
<rect x="248" y="264" width="6" height="6" fill="#00d7ff"/>
<rect x="254" y="264" width="6" height="6" fill="#00f7ff"/>
<rect x="260" y="264" width="6" height="6" fill="#00a7ff"/>
<rect x="266" y="264" width="7" height="6" fill="#00f7ff"/>
<rect x="273" y="264" width="12" height="6" fill="#38ffc7"/>
<rect x="285" y="264" width="13" height="6" fill="#78ff87"/>
<rect x="298" y="264" width="6" height="6" fill="#c7ff38"/>
<rect x="304" y="264" width="13" height="6" fill="#58ffa7"/>
<rect x="317" y="264" width="6" height="6" fill="#0038ff"/>
<rect x="323" y="264" width="6" height="6" fill="#0078ff"/>
<rect x="329" y="264" width="7" height="6" fill="#0058ff"/>
<rect x="336" y="264" width="6" height="6" fill="#000087"/>
<rect x="342" y="264" width="6" height="6" fill="#0078ff"/>
<rect x="348" y="264" width="6" height="6" fill="#0087ff"/>
<rect x="354" y="264" width="7" height="6" fill="#00a7ff"/>
<rect x="361" y="264" width="12" height="6" fill="#78ff87"/>
<rect x="373" y="264" width="7" height="6" fill="#00a7ff"/>
<rect x="380" y="264" width="6" height="6" fill="#0087ff"/>
<rect x="386" y="264" width="12" height="6" fill="#00a7ff"/>
<rect x="398" y="264" width="7" height="6" fill="#0087ff"/>
<rect x="405" y="264" width="19" height="6" fill="#00a7ff"/>
<rect x="424" y="264" width="6" height="6" fill="#00d7ff"/>
<rect x="430" y="264" width="6" height="6" fill="#58ffa7"/>
<rect x="436" y="264" width="13" height="6" fill="#00d7ff"/>
<rect x="449" y="264" width="19" height="6" fill="#00b7ff"/>
<rect x="468" y="264" width="12" height="6" fill="#00d7ff"/>
<rect x="480" y="264" width="6" height="6" fill="#00f7ff"/>
<rect x="486" y="264" width="7" height="6" fill="#00a7ff"/>
<rect x="493" y="264" width="6" height="6" fill="#e7ff18"/>
<rect x="499" y="264" width="6" height="6" fill="#ffd700"/>
<rect x="505" y="264" width="7" height="6" fill="#fff700"/>
<rect x="512" y="264" width="6" height="6" fill="#c7ff38"/>
<rect x="518" y="264" width="6" height="6" fill="#ffb700"/>
<rect x="524" y="264" width="13" height="6" fill="#ff4800"/>
<rect x="537" y="264" width="6" height="6" fill="#ff0800"/>
<rect x="543" y="264" width="6" height="6" fill="#e70000"/>
<rect x="116" y="270" width="6" height="7" fill="#08fff7"/>
<rect x="122" y="270" width="6" height="7" fill="#00d7ff"/>
<rect x="128" y="270" width="6" height="7" fill="#0087ff"/>
<rect x="134" y="270" width="7" height="7" fill="#38ffc7"/>
<rect x="141" y="270" width="6" height="7" fill="#78ff87"/>
<rect x="147" y="270" width="13" height="7" fill="#0078ff"/>
<rect x="160" y="270" width="6" height="7" fill="#0058ff"/>
<rect x="166" y="270" width="6" height="7" fill="#0078ff"/>
<rect x="172" y="270" width="25" height="7" fill="#0058ff"/>
<rect x="197" y="270" width="7" height="7" fill="#00d7ff"/>
<rect x="204" y="270" width="6" height="7" fill="#0058ff"/>
<rect x="210" y="270" width="6" height="7" fill="#0038ff"/>
<rect x="216" y="270" width="6" height="7" fill="#0078ff"/>
<rect x="222" y="270" width="7" height="7" fill="#0087ff"/>
<rect x="229" y="270" width="6" height="7" fill="#0038ff"/>
<rect x="235" y="270" width="6" height="7" fill="#0058ff"/>
<rect x="241" y="270" width="7" height="7" fill="#00b7ff"/>
<rect x="248" y="270" width="6" height="7" fill="#0078ff"/>
<rect x="254" y="270" width="6" height="7" fill="#0087ff"/>
<rect x="260" y="270" width="6" height="7" fill="#0038ff"/>
<rect x="266" y="270" width="7" height="7" fill="#00b7ff"/>
<rect x="273" y="270" width="6" height="7" fill="#00f7ff"/>
<rect x="279" y="270" width="6" height="7" fill="#00a7ff"/>
<rect x="285" y="270" width="13" height="7" fill="#00d7ff"/>
<rect x="298" y="270" width="6" height="7" fill="#00f7ff"/>
<rect x="304" y="270" width="6" height="7" fill="#00a7ff"/>
<rect x="310" y="270" width="7" height="7" fill="#00b7ff"/>
<rect x="317" y="270" width="19" height="7" fill="#0038ff"/>
<rect x="336" y="270" width="6" height="7" fill="#0078ff"/>
<rect x="342" y="270" width="6" height="7" fill="#000087"/>
<rect x="348" y="270" width="13" height="7" fill="#0038ff"/>
<rect x="361" y="270" width="6" height="7" fill="#00d7ff"/>
<rect x="367" y="270" width="13" height="7" fill="#00a7ff"/>
<rect x="380" y="270" width="6" height="7" fill="#00b7ff"/>
<rect x="386" y="270" width="6" height="7" fill="#00d7ff"/>
<rect x="392" y="270" width="6" height="7" fill="#00f7ff"/>
<rect x="398" y="270" width="13" height="7" fill="#00d7ff"/>
<rect x="411" y="270" width="6" height="7" fill="#00a7ff"/>
<rect x="417" y="270" width="7" height="7" fill="#0087ff"/>
<rect x="424" y="270" width="6" height="7" fill="#00a7ff"/>
<rect x="430" y="270" width="6" height="7" fill="#08fff7"/>
<rect x="436" y="270" width="6" height="7" fill="#00b7ff"/>
<rect x="442" y="270" width="7" height="7" fill="#0078ff"/>
<rect x="449" y="270" width="6" height="7" fill="#0058ff"/>
<rect x="455" y="270" width="19" height="7" fill="#0078ff"/>
<rect x="474" y="270" width="6" height="7" fill="#0058ff"/>
<rect x="480" y="270" width="6" height="7" fill="#00a7ff"/>
<rect x="486" y="270" width="7" height="7" fill="#0078ff"/>
<rect x="493" y="270" width="6" height="7" fill="#38ffc7"/>
<rect x="499" y="270" width="13" height="7" fill="#78ff87"/>
<rect x="512" y="270" width="6" height="7" fill="#38ffc7"/>
<rect x="518" y="270" width="6" height="7" fill="#a7ff58"/>
<rect x="524" y="270" width="13" height="7" fill="#e7ff18"/>
<rect x="537" y="270" width="6" height="7" fill="#fff700"/>
<rect x="543" y="270" width="6" height="7" fill="#ffb700"/>
<rect x="116" y="277" width="6" height="6" fill="#38ffc7"/>
<rect x="122" y="277" width="6" height="6" fill="#00f7ff"/>
<rect x="128" y="277" width="6" height="6" fill="#00a7ff"/>
<rect x="134" y="277" width="7" height="6" fill="#58ffa7"/>
<rect x="141" y="277" width="6" height="6" fill="#78ff87"/>
<rect x="147" y="277" width="19" height="6" fill="#0078ff"/>
<rect x="166" y="277" width="6" height="6" fill="#0087ff"/>
<rect x="172" y="277" width="6" height="6" fill="#0078ff"/>
<rect x="178" y="277" width="7" height="6" fill="#0048ff"/>
<rect x="185" y="277" width="12" height="6" fill="#0078ff"/>
<rect x="197" y="277" width="7" height="6" fill="#00f7ff"/>
<rect x="204" y="277" width="12" height="6" fill="#0058ff"/>
<rect x="216" y="277" width="6" height="6" fill="#0087ff"/>
<rect x="222" y="277" width="7" height="6" fill="#0048ff"/>
<rect x="229" y="277" width="6" height="6" fill="#0038ff"/>
<rect x="235" y="277" width="6" height="6" fill="#0058ff"/>
<rect x="241" y="277" width="7" height="6" fill="#00b7ff"/>
<rect x="248" y="277" width="6" height="6" fill="#0078ff"/>
<rect x="254" y="277" width="6" height="6" fill="#00a7ff"/>
<rect x="260" y="277" width="6" height="6" fill="#0038ff"/>
<rect x="266" y="277" width="7" height="6" fill="#00d7ff"/>
<rect x="273" y="277" width="6" height="6" fill="#08fff7"/>
<rect x="279" y="277" width="6" height="6" fill="#00b7ff"/>
<rect x="285" y="277" width="7" height="6" fill="#00f7ff"/>
<rect x="292" y="277" width="6" height="6" fill="#00d7ff"/>
<rect x="298" y="277" width="6" height="6" fill="#08fff7"/>
<rect x="304" y="277" width="6" height="6" fill="#00b7ff"/>
<rect x="310" y="277" width="7" height="6" fill="#00d7ff"/>
<rect x="317" y="277" width="19" height="6" fill="#0038ff"/>
<rect x="336" y="277" width="6" height="6" fill="#0087ff"/>
<rect x="342" y="277" width="6" height="6" fill="#0038ff"/>
<rect x="348" y="277" width="6" height="6" fill="#000087"/>
<rect x="354" y="277" width="7" height="6" fill="#0087ff"/>
<rect x="361" y="277" width="12" height="6" fill="#00d7ff"/>
<rect x="373" y="277" width="7" height="6" fill="#00f7ff"/>
<rect x="380" y="277" width="6" height="6" fill="#08fff7"/>
<rect x="386" y="277" width="12" height="6" fill="#38ffc7"/>
<rect x="398" y="277" width="13" height="6" fill="#08fff7"/>
<rect x="411" y="277" width="6" height="6" fill="#00f7ff"/>
<rect x="417" y="277" width="7" height="6" fill="#00b7ff"/>
<rect x="424" y="277" width="6" height="6" fill="#00d7ff"/>
<rect x="430" y="277" width="6" height="6" fill="#58ffa7"/>
<rect x="436" y="277" width="6" height="6" fill="#00f7ff"/>
<rect x="442" y="277" width="7" height="6" fill="#00b7ff"/>
<rect x="449" y="277" width="6" height="6" fill="#0087ff"/>
<rect x="455" y="277" width="19" height="6" fill="#00a7ff"/>
<rect x="474" y="277" width="6" height="6" fill="#0087ff"/>
<rect x="480" y="277" width="6" height="6" fill="#00d7ff"/>
<rect x="486" y="277" width="7" height="6" fill="#00a7ff"/>
<rect x="493" y="277" width="6" height="6" fill="#38ffc7"/>
<rect x="499" y="277" width="6" height="6" fill="#78ff87"/>
<rect x="505" y="277" width="7" height="6" fill="#58ffa7"/>
<rect x="512" y="277" width="6" height="6" fill="#08fff7"/>
<rect x="518" y="277" width="6" height="6" fill="#a7ff58"/>
<rect x="524" y="277" width="13" height="6" fill="#e7ff18"/>
<rect x="537" y="277" width="6" height="6" fill="#fff700"/>
<rect x="543" y="277" width="6" height="6" fill="#ffd700"/>
<rect x="116" y="283" width="6" height="6" fill="#08fff7"/>
<rect x="122" y="283" width="6" height="6" fill="#00d7ff"/>
<rect x="128" y="283" width="6" height="6" fill="#00a7ff"/>
<rect x="134" y="283" width="7" height="6" fill="#38ffc7"/>
<rect x="141" y="283" width="6" height="6" fill="#78ff87"/>
<rect x="147" y="283" width="6" height="6" fill="#0087ff"/>
<rect x="153" y="283" width="13" height="6" fill="#0078ff"/>
<rect x="166" y="283" width="6" height="6" fill="#00a7ff"/>
<rect x="172" y="283" width="19" height="6" fill="#0048ff"/>
<rect x="191" y="283" width="6" height="6" fill="#0087ff"/>
<rect x="197" y="283" width="7" height="6" fill="#00d7ff"/>
<rect x="204" y="283" width="6" height="6" fill="#0078ff"/>
<rect x="210" y="283" width="6" height="6" fill="#0038ff"/>
<rect x="216" y="283" width="6" height="6" fill="#0078ff"/>
<rect x="222" y="283" width="7" height="6" fill="#0087ff"/>
<rect x="229" y="283" width="6" height="6" fill="#0058ff"/>
<rect x="235" y="283" width="6" height="6" fill="#0078ff"/>
<rect x="241" y="283" width="7" height="6" fill="#00b7ff"/>
<rect x="248" y="283" width="6" height="6" fill="#0087ff"/>
<rect x="254" y="283" width="6" height="6" fill="#00a7ff"/>
<rect x="260" y="283" width="6" height="6" fill="#0038ff"/>
<rect x="266" y="283" width="13" height="6" fill="#00d7ff"/>
<rect x="279" y="283" width="6" height="6" fill="#00a7ff"/>
<rect x="285" y="283" width="7" height="6" fill="#00d7ff"/>
<rect x="292" y="283" width="6" height="6" fill="#00b7ff"/>
<rect x="298" y="283" width="6" height="6" fill="#00d7ff"/>
<rect x="304" y="283" width="6" height="6" fill="#0087ff"/>
<rect x="310" y="283" width="7" height="6" fill="#00b7ff"/>
<rect x="317" y="283" width="6" height="6" fill="#0078ff"/>
<rect x="323" y="283" width="6" height="6" fill="#0038ff"/>
<rect x="329" y="283" width="7" height="6" fill="#0078ff"/>
<rect x="336" y="283" width="6" height="6" fill="#00a7ff"/>
<rect x="342" y="283" width="6" height="6" fill="#0038ff"/>
<rect x="348" y="283" width="6" height="6" fill="#0087ff"/>
<rect x="354" y="283" width="7" height="6" fill="#000087"/>
<rect x="361" y="283" width="6" height="6" fill="#08fff7"/>
<rect x="367" y="283" width="13" height="6" fill="#00a7ff"/>
<rect x="380" y="283" width="6" height="6" fill="#00b7ff"/>
<rect x="386" y="283" width="6" height="6" fill="#00d7ff"/>
<rect x="392" y="283" width="6" height="6" fill="#00f7ff"/>
<rect x="398" y="283" width="13" height="6" fill="#00d7ff"/>
<rect x="411" y="283" width="6" height="6" fill="#00b7ff"/>
<rect x="417" y="283" width="7" height="6" fill="#00a7ff"/>
<rect x="424" y="283" width="6" height="6" fill="#00b7ff"/>
<rect x="430" y="283" width="6" height="6" fill="#08fff7"/>
<rect x="436" y="283" width="6" height="6" fill="#00b7ff"/>
<rect x="442" y="283" width="7" height="6" fill="#00a7ff"/>
<rect x="449" y="283" width="6" height="6" fill="#0078ff"/>
<rect x="455" y="283" width="6" height="6" fill="#00a7ff"/>
<rect x="461" y="283" width="7" height="6" fill="#0078ff"/>
<rect x="468" y="283" width="6" height="6" fill="#0087ff"/>
<rect x="474" y="283" width="6" height="6" fill="#0078ff"/>
<rect x="480" y="283" width="13" height="6" fill="#00a7ff"/>
<rect x="493" y="283" width="6" height="6" fill="#08fff7"/>
<rect x="499" y="283" width="13" height="6" fill="#58ffa7"/>
<rect x="512" y="283" width="6" height="6" fill="#00f7ff"/>
<rect x="518" y="283" width="6" height="6" fill="#a7ff58"/>
<rect x="524" y="283" width="13" height="6" fill="#e7ff18"/>
<rect x="537" y="283" width="6" height="6" fill="#ffd700"/>
<rect x="543" y="283" width="6" height="6" fill="#ffb700"/>
<rect x="116" y="289" width="6" height="7" fill="#00d7ff"/>
<rect x="122" y="289" width="6" height="7" fill="#08fff7"/>
<rect x="128" y="289" width="6" height="7" fill="#58ffa7"/>
<rect x="134" y="289" width="13" height="7" fill="#00d7ff"/>
<rect x="147" y="289" width="6" height="7" fill="#08fff7"/>
<rect x="153" y="289" width="13" height="7" fill="#38ffc7"/>
<rect x="166" y="289" width="19" height="7" fill="#08fff7"/>
<rect x="185" y="289" width="6" height="7" fill="#38ffc7"/>
<rect x="191" y="289" width="6" height="7" fill="#08fff7"/>
<rect x="197" y="289" width="7" height="7" fill="#78ff87"/>
<rect x="204" y="289" width="12" height="7" fill="#00d7ff"/>
<rect x="216" y="289" width="6" height="7" fill="#00f7ff"/>
<rect x="222" y="289" width="19" height="7" fill="#00d7ff"/>
<rect x="241" y="289" width="7" height="7" fill="#00f7ff"/>
<rect x="248" y="289" width="6" height="7" fill="#00d7ff"/>
<rect x="254" y="289" width="12" height="7" fill="#00f7ff"/>
<rect x="266" y="289" width="7" height="7" fill="#00b7ff"/>
<rect x="273" y="289" width="6" height="7" fill="#38ffc7"/>
<rect x="279" y="289" width="6" height="7" fill="#00b7ff"/>
<rect x="285" y="289" width="7" height="7" fill="#00d7ff"/>
<rect x="292" y="289" width="6" height="7" fill="#00b7ff"/>
<rect x="298" y="289" width="6" height="7" fill="#00f7ff"/>
<rect x="304" y="289" width="6" height="7" fill="#00a7ff"/>
<rect x="310" y="289" width="7" height="7" fill="#00b7ff"/>
<rect x="317" y="289" width="6" height="7" fill="#08fff7"/>
<rect x="323" y="289" width="6" height="7" fill="#00f7ff"/>
<rect x="329" y="289" width="7" height="7" fill="#08fff7"/>
<rect x="336" y="289" width="6" height="7" fill="#78ff87"/>
<rect x="342" y="289" width="12" height="7" fill="#00d7ff"/>
<rect x="354" y="289" width="7" height="7" fill="#08fff7"/>
<rect x="361" y="289" width="6" height="7" fill="#000087"/>
<rect x="367" y="289" width="6" height="7" fill="#00d7ff"/>
<rect x="373" y="289" width="7" height="7" fill="#c7ff38"/>
<rect x="380" y="289" width="12" height="7" fill="#e7ff18"/>
<rect x="392" y="289" width="6" height="7" fill="#fff700"/>
<rect x="398" y="289" width="7" height="7" fill="#e7ff18"/>
<rect x="405" y="289" width="6" height="7" fill="#c7ff38"/>
<rect x="411" y="289" width="13" height="7" fill="#a7ff58"/>
<rect x="424" y="289" width="6" height="7" fill="#78ff87"/>
<rect x="430" y="289" width="6" height="7" fill="#c7ff38"/>
<rect x="436" y="289" width="6" height="7" fill="#a7ff58"/>
<rect x="442" y="289" width="7" height="7" fill="#78ff87"/>
<rect x="449" y="289" width="19" height="7" fill="#08fff7"/>
<rect x="468" y="289" width="6" height="7" fill="#58ffa7"/>
<rect x="474" y="289" width="6" height="7" fill="#08fff7"/>
<rect x="480" y="289" width="13" height="7" fill="#78ff87"/>
<rect x="493" y="289" width="6" height="7" fill="#00d7ff"/>
<rect x="499" y="289" width="6" height="7" fill="#00f7ff"/>
<rect x="505" y="289" width="13" height="7" fill="#00d7ff"/>
<rect x="518" y="289" width="6" height="7" fill="#08fff7"/>
<rect x="524" y="289" width="6" height="7" fill="#58ffa7"/>
<rect x="530" y="289" width="7" height="7" fill="#38ffc7"/>
<rect x="537" y="289" width="6" height="7" fill="#78ff87"/>
<rect x="543" y="289" width="6" height="7" fill="#a7ff58"/>
<rect x="116" y="296" width="12" height="6" fill="#00a7ff"/>
<rect x="128" y="296" width="6" height="6" fill="#08fff7"/>
<rect x="134" y="296" width="7" height="6" fill="#00f7ff"/>
<rect x="141" y="296" width="6" height="6" fill="#38ffc7"/>
<rect x="147" y="296" width="6" height="6" fill="#00a7ff"/>
<rect x="153" y="296" width="7" height="6" fill="#00d7ff"/>
<rect x="160" y="296" width="6" height="6" fill="#00f7ff"/>
<rect x="166" y="296" width="6" height="6" fill="#00d7ff"/>
<rect x="172" y="296" width="6" height="6" fill="#00b7ff"/>
<rect x="178" y="296" width="7" height="6" fill="#00d7ff"/>
<rect x="185" y="296" width="6" height="6" fill="#00f7ff"/>
<rect x="191" y="296" width="6" height="6" fill="#00d7ff"/>
<rect x="197" y="296" width="7" height="6" fill="#08fff7"/>
<rect x="204" y="296" width="25" height="6" fill="#00a7ff"/>
<rect x="229" y="296" width="6" height="6" fill="#0087ff"/>
<rect x="235" y="296" width="6" height="6" fill="#00a7ff"/>
<rect x="241" y="296" width="25" height="6" fill="#00b7ff"/>
<rect x="266" y="296" width="13" height="6" fill="#00d7ff"/>
<rect x="279" y="296" width="19" height="6" fill="#00a7ff"/>
<rect x="298" y="296" width="6" height="6" fill="#00d7ff"/>
<rect x="304" y="296" width="6" height="6" fill="#00a7ff"/>
<rect x="310" y="296" width="7" height="6" fill="#0087ff"/>
<rect x="317" y="296" width="6" height="6" fill="#08fff7"/>
<rect x="323" y="296" width="6" height="6" fill="#00f7ff"/>
<rect x="329" y="296" width="7" height="6" fill="#08fff7"/>
<rect x="336" y="296" width="6" height="6" fill="#78ff87"/>
<rect x="342" y="296" width="6" height="6" fill="#00a7ff"/>
<rect x="348" y="296" width="6" height="6" fill="#00d7ff"/>
<rect x="354" y="296" width="7" height="6" fill="#00a7ff"/>
<rect x="361" y="296" width="6" height="6" fill="#00d7ff"/>
<rect x="367" y="296" width="6" height="6" fill="#000087"/>
<rect x="373" y="296" width="7" height="6" fill="#58ffa7"/>
<rect x="380" y="296" width="6" height="6" fill="#78ff87"/>
<rect x="386" y="296" width="12" height="6" fill="#a7ff58"/>
<rect x="398" y="296" width="7" height="6" fill="#78ff87"/>
<rect x="405" y="296" width="6" height="6" fill="#58ffa7"/>
<rect x="411" y="296" width="6" height="6" fill="#38ffc7"/>
<rect x="417" y="296" width="13" height="6" fill="#08fff7"/>
<rect x="430" y="296" width="6" height="6" fill="#78ff87"/>
<rect x="436" y="296" width="6" height="6" fill="#38ffc7"/>
<rect x="442" y="296" width="7" height="6" fill="#08fff7"/>
<rect x="449" y="296" width="6" height="6" fill="#00d7ff"/>
<rect x="455" y="296" width="6" height="6" fill="#00f7ff"/>
<rect x="461" y="296" width="7" height="6" fill="#00d7ff"/>
<rect x="468" y="296" width="6" height="6" fill="#00f7ff"/>
<rect x="474" y="296" width="6" height="6" fill="#00b7ff"/>
<rect x="480" y="296" width="6" height="6" fill="#08fff7"/>
<rect x="486" y="296" width="7" height="6" fill="#00f7ff"/>
<rect x="493" y="296" width="6" height="6" fill="#0087ff"/>
<rect x="499" y="296" width="6" height="6" fill="#00b7ff"/>
<rect x="505" y="296" width="7" height="6" fill="#00f7ff"/>
<rect x="512" y="296" width="6" height="6" fill="#00a7ff"/>
<rect x="518" y="296" width="6" height="6" fill="#08fff7"/>
<rect x="524" y="296" width="13" height="6" fill="#78ff87"/>
<rect x="537" y="296" width="6" height="6" fill="#a7ff58"/>
<rect x="543" y="296" width="6" height="6" fill="#c7ff38"/>
<rect x="116" y="302" width="6" height="6" fill="#a7ff58"/>
<rect x="122" y="302" width="6" height="6" fill="#58ffa7"/>
<rect x="128" y="302" width="6" height="6" fill="#0087ff"/>
<rect x="134" y="302" width="7" height="6" fill="#e7ff18"/>
<rect x="141" y="302" width="6" height="6" fill="#fff700"/>
<rect x="147" y="302" width="6" height="6" fill="#00b7ff"/>
<rect x="153" y="302" width="7" height="6" fill="#00a7ff"/>
<rect x="160" y="302" width="6" height="6" fill="#0087ff"/>
<rect x="166" y="302" width="6" height="6" fill="#00d7ff"/>
<rect x="172" y="302" width="19" height="6" fill="#00a7ff"/>
<rect x="191" y="302" width="6" height="6" fill="#00d7ff"/>
<rect x="197" y="302" width="7" height="6" fill="#38ffc7"/>
<rect x="204" y="302" width="6" height="6" fill="#00b7ff"/>
<rect x="210" y="302" width="12" height="6" fill="#00d7ff"/>
<rect x="222" y="302" width="7" height="6" fill="#38ffc7"/>
<rect x="229" y="302" width="6" height="6" fill="#00d7ff"/>
<rect x="235" y="302" width="6" height="6" fill="#08fff7"/>
<rect x="241" y="302" width="7" height="6" fill="#78ff87"/>
<rect x="248" y="302" width="12" height="6" fill="#00d7ff"/>
<rect x="260" y="302" width="6" height="6" fill="#00b7ff"/>
<rect x="266" y="302" width="7" height="6" fill="#58ffa7"/>
<rect x="273" y="302" width="12" height="6" fill="#78ff87"/>
<rect x="285" y="302" width="7" height="6" fill="#a7ff58"/>
<rect x="292" y="302" width="6" height="6" fill="#78ff87"/>
<rect x="298" y="302" width="6" height="6" fill="#e7ff18"/>
<rect x="304" y="302" width="6" height="6" fill="#58ffa7"/>
<rect x="310" y="302" width="7" height="6" fill="#78ff87"/>
<rect x="317" y="302" width="12" height="6" fill="#0087ff"/>
<rect x="329" y="302" width="7" height="6" fill="#0078ff"/>
<rect x="336" y="302" width="12" height="6" fill="#00a7ff"/>
<rect x="348" y="302" width="6" height="6" fill="#00f7ff"/>
<rect x="354" y="302" width="7" height="6" fill="#00a7ff"/>
<rect x="361" y="302" width="6" height="6" fill="#c7ff38"/>
<rect x="367" y="302" width="6" height="6" fill="#58ffa7"/>
<rect x="373" y="302" width="7" height="6" fill="#000087"/>
<rect x="380" y="302" width="6" height="6" fill="#0038ff"/>
<rect x="386" y="302" width="6" height="6" fill="#0048ff"/>
<rect x="392" y="302" width="6" height="6" fill="#0078ff"/>
<rect x="398" y="302" width="19" height="6" fill="#0038ff"/>
<rect x="417" y="302" width="7" height="6" fill="#0078ff"/>
<rect x="424" y="302" width="6" height="6" fill="#00a7ff"/>
<rect x="430" y="302" width="6" height="6" fill="#00f7ff"/>
<rect x="436" y="302" width="6" height="6" fill="#0048ff"/>
<rect x="442" y="302" width="7" height="6" fill="#0087ff"/>
<rect x="449" y="302" width="6" height="6" fill="#00a7ff"/>
<rect x="455" y="302" width="6" height="6" fill="#00b7ff"/>
<rect x="461" y="302" width="7" height="6" fill="#0087ff"/>
<rect x="468" y="302" width="12" height="6" fill="#0078ff"/>
<rect x="480" y="302" width="6" height="6" fill="#0048ff"/>
<rect x="486" y="302" width="7" height="6" fill="#0078ff"/>
<rect x="493" y="302" width="6" height="6" fill="#e7ff18"/>
<rect x="499" y="302" width="6" height="6" fill="#ffd700"/>
<rect x="505" y="302" width="7" height="6" fill="#ffb700"/>
<rect x="512" y="302" width="6" height="6" fill="#c7ff38"/>
<rect x="518" y="302" width="6" height="6" fill="#ff9700"/>
<rect x="524" y="302" width="6" height="6" fill="#ff2800"/>
<rect x="530" y="302" width="7" height="6" fill="#ff4800"/>
<rect x="537" y="302" width="6" height="6" fill="#ff0800"/>
<rect x="543" y="302" width="6" height="6" fill="#c70000"/>
<rect x="116" y="308" width="6" height="6" fill="#c7ff38"/>
<rect x="122" y="308" width="6" height="6" fill="#58ffa7"/>
<rect x="128" y="308" width="6" height="6" fill="#00a7ff"/>
<rect x="134" y="308" width="7" height="6" fill="#fff700"/>
<rect x="141" y="308" width="6" height="6" fill="#ffd700"/>
<rect x="147" y="308" width="6" height="6" fill="#00d7ff"/>
<rect x="153" y="308" width="13" height="6" fill="#00a7ff"/>
<rect x="166" y="308" width="6" height="6" fill="#00d7ff"/>
<rect x="172" y="308" width="13" height="6" fill="#00b7ff"/>
<rect x="185" y="308" width="6" height="6" fill="#00a7ff"/>
<rect x="191" y="308" width="6" height="6" fill="#00d7ff"/>
<rect x="197" y="308" width="7" height="6" fill="#58ffa7"/>
<rect x="204" y="308" width="6" height="6" fill="#00f7ff"/>
<rect x="210" y="308" width="6" height="6" fill="#08fff7"/>
<rect x="216" y="308" width="6" height="6" fill="#00f7ff"/>
<rect x="222" y="308" width="7" height="6" fill="#38ffc7"/>
<rect x="229" y="308" width="6" height="6" fill="#08fff7"/>
<rect x="235" y="308" width="6" height="6" fill="#38ffc7"/>
<rect x="241" y="308" width="7" height="6" fill="#a7ff58"/>
<rect x="248" y="308" width="12" height="6" fill="#00f7ff"/>
<rect x="260" y="308" width="6" height="6" fill="#00d7ff"/>
<rect x="266" y="308" width="19" height="6" fill="#78ff87"/>
<rect x="285" y="308" width="7" height="6" fill="#a7ff58"/>
<rect x="292" y="308" width="6" height="6" fill="#78ff87"/>
<rect x="298" y="308" width="6" height="6" fill="#e7ff18"/>
<rect x="304" y="308" width="13" height="6" fill="#78ff87"/>
<rect x="317" y="308" width="12" height="6" fill="#00a7ff"/>
<rect x="329" y="308" width="13" height="6" fill="#0087ff"/>
<rect x="342" y="308" width="6" height="6" fill="#00b7ff"/>
<rect x="348" y="308" width="6" height="6" fill="#08fff7"/>
<rect x="354" y="308" width="7" height="6" fill="#00b7ff"/>
<rect x="361" y="308" width="6" height="6" fill="#e7ff18"/>
<rect x="367" y="308" width="6" height="6" fill="#78ff87"/>
<rect x="373" y="308" width="7" height="6" fill="#0038ff"/>
<rect x="380" y="308" width="6" height="6" fill="#000087"/>
<rect x="386" y="308" width="31" height="6" fill="#0038ff"/>
<rect x="417" y="308" width="7" height="6" fill="#0048ff"/>
<rect x="424" y="308" width="6" height="6" fill="#00a7ff"/>
<rect x="430" y="308" width="6" height="6" fill="#00f7ff"/>
<rect x="436" y="308" width="13" height="6" fill="#0048ff"/>
<rect x="449" y="308" width="6" height="6" fill="#00a7ff"/>
<rect x="455" y="308" width="6" height="6" fill="#00b7ff"/>
<rect x="461" y="308" width="7" height="6" fill="#00a7ff"/>
<rect x="468" y="308" width="6" height="6" fill="#0087ff"/>
<rect x="474" y="308" width="6" height="6" fill="#0078ff"/>
<rect x="480" y="308" width="6" height="6" fill="#0087ff"/>
<rect x="486" y="308" width="7" height="6" fill="#0048ff"/>
<rect x="493" y="308" width="6" height="6" fill="#e7ff18"/>
<rect x="499" y="308" width="6" height="6" fill="#ffb700"/>
<rect x="505" y="308" width="7" height="6" fill="#ff9700"/>
<rect x="512" y="308" width="6" height="6" fill="#e7ff18"/>
<rect x="518" y="308" width="6" height="6" fill="#ff7800"/>
<rect x="524" y="308" width="13" height="6" fill="#ff0800"/>
<rect x="537" y="308" width="6" height="6" fill="#e70000"/>
<rect x="543" y="308" width="6" height="6" fill="#c70000"/>
<rect x="116" y="314" width="6" height="7" fill="#e7ff18"/>
<rect x="122" y="314" width="6" height="7" fill="#78ff87"/>
<rect x="128" y="314" width="6" height="7" fill="#00a7ff"/>
<rect x="134" y="314" width="7" height="7" fill="#ffd700"/>
<rect x="141" y="314" width="6" height="7" fill="#ffb700"/>
<rect x="147" y="314" width="6" height="7" fill="#00f7ff"/>
<rect x="153" y="314" width="7" height="7" fill="#00b7ff"/>
<rect x="160" y="314" width="6" height="7" fill="#00a7ff"/>
<rect x="166" y="314" width="6" height="7" fill="#00f7ff"/>
<rect x="172" y="314" width="13" height="7" fill="#00d7ff"/>
<rect x="185" y="314" width="6" height="7" fill="#00b7ff"/>
<rect x="191" y="314" width="6" height="7" fill="#00f7ff"/>
<rect x="197" y="314" width="7" height="7" fill="#78ff87"/>
<rect x="204" y="314" width="18" height="7" fill="#08fff7"/>
<rect x="222" y="314" width="7" height="7" fill="#58ffa7"/>
<rect x="229" y="314" width="6" height="7" fill="#08fff7"/>
<rect x="235" y="314" width="6" height="7" fill="#58ffa7"/>
<rect x="241" y="314" width="7" height="7" fill="#a7ff58"/>
<rect x="248" y="314" width="6" height="7" fill="#00f7ff"/>
<rect x="254" y="314" width="6" height="7" fill="#08fff7"/>
<rect x="260" y="314" width="6" height="7" fill="#00f7ff"/>
<rect x="266" y="314" width="19" height="7" fill="#a7ff58"/>
<rect x="285" y="314" width="7" height="7" fill="#c7ff38"/>
<rect x="292" y="314" width="6" height="7" fill="#a7ff58"/>
<rect x="298" y="314" width="6" height="7" fill="#ffd700"/>
<rect x="304" y="314" width="6" height="7" fill="#78ff87"/>
<rect x="310" y="314" width="7" height="7" fill="#a7ff58"/>
<rect x="317" y="314" width="12" height="7" fill="#00b7ff"/>
<rect x="329" y="314" width="13" height="7" fill="#00a7ff"/>
<rect x="342" y="314" width="6" height="7" fill="#00d7ff"/>
<rect x="348" y="314" width="6" height="7" fill="#38ffc7"/>
<rect x="354" y="314" width="7" height="7" fill="#00d7ff"/>
<rect x="361" y="314" width="6" height="7" fill="#e7ff18"/>
<rect x="367" y="314" width="6" height="7" fill="#a7ff58"/>
<rect x="373" y="314" width="7" height="7" fill="#0048ff"/>
<rect x="380" y="314" width="6" height="7" fill="#0038ff"/>
<rect x="386" y="314" width="6" height="7" fill="#000087"/>
<rect x="392" y="314" width="13" height="7" fill="#0038ff"/>
<rect x="405" y="314" width="6" height="7" fill="#0058ff"/>
<rect x="411" y="314" width="6" height="7" fill="#0048ff"/>
<rect x="417" y="314" width="7" height="7" fill="#00a7ff"/>
<rect x="424" y="314" width="6" height="7" fill="#00b7ff"/>
<rect x="430" y="314" width="6" height="7" fill="#08fff7"/>
<rect x="436" y="314" width="13" height="7" fill="#00a7ff"/>
<rect x="449" y="314" width="6" height="7" fill="#00d7ff"/>
<rect x="455" y="314" width="6" height="7" fill="#00f7ff"/>
<rect x="461" y="314" width="7" height="7" fill="#00b7ff"/>
<rect x="468" y="314" width="12" height="7" fill="#0087ff"/>
<rect x="480" y="314" width="6" height="7" fill="#0048ff"/>
<rect x="486" y="314" width="7" height="7" fill="#00a7ff"/>
<rect x="493" y="314" width="6" height="7" fill="#e7ff18"/>
<rect x="499" y="314" width="6" height="7" fill="#ffb700"/>
<rect x="505" y="314" width="7" height="7" fill="#ff9700"/>
<rect x="512" y="314" width="6" height="7" fill="#e7ff18"/>
<rect x="518" y="314" width="6" height="7" fill="#ff4800"/>
<rect x="524" y="314" width="13" height="7" fill="#ff0800"/>
<rect x="537" y="314" width="6" height="7" fill="#c70000"/>
<rect x="543" y="314" width="6" height="7" fill="#870000"/>
<rect x="116" y="321" width="6" height="6" fill="#fff700"/>
<rect x="122" y="321" width="6" height="6" fill="#a7ff58"/>
<rect x="128" y="321" width="6" height="6" fill="#00a7ff"/>
<rect x="134" y="321" width="7" height="6" fill="#ffb700"/>
<rect x="141" y="321" width="6" height="6" fill="#ff9700"/>
<rect x="147" y="321" width="6" height="6" fill="#08fff7"/>
<rect x="153" y="321" width="7" height="6" fill="#00f7ff"/>
<rect x="160" y="321" width="6" height="6" fill="#00b7ff"/>
<rect x="166" y="321" width="6" height="6" fill="#08fff7"/>
<rect x="172" y="321" width="13" height="6" fill="#00f7ff"/>
<rect x="185" y="321" width="6" height="6" fill="#00d7ff"/>
<rect x="191" y="321" width="6" height="6" fill="#08fff7"/>
<rect x="197" y="321" width="7" height="6" fill="#58ffa7"/>
<rect x="204" y="321" width="12" height="6" fill="#38ffc7"/>
<rect x="216" y="321" width="6" height="6" fill="#58ffa7"/>
<rect x="222" y="321" width="7" height="6" fill="#78ff87"/>
<rect x="229" y="321" width="6" height="6" fill="#38ffc7"/>
<rect x="235" y="321" width="6" height="6" fill="#58ffa7"/>
<rect x="241" y="321" width="7" height="6" fill="#a7ff58"/>
<rect x="248" y="321" width="6" height="6" fill="#08fff7"/>
<rect x="254" y="321" width="6" height="6" fill="#38ffc7"/>
<rect x="260" y="321" width="6" height="6" fill="#08fff7"/>
<rect x="266" y="321" width="13" height="6" fill="#a7ff58"/>
<rect x="279" y="321" width="19" height="6" fill="#c7ff38"/>
<rect x="298" y="321" width="6" height="6" fill="#ffd700"/>
<rect x="304" y="321" width="13" height="6" fill="#a7ff58"/>
<rect x="317" y="321" width="6" height="6" fill="#00b7ff"/>
<rect x="323" y="321" width="6" height="6" fill="#00d7ff"/>
<rect x="329" y="321" width="7" height="6" fill="#00b7ff"/>
<rect x="336" y="321" width="6" height="6" fill="#00a7ff"/>
<rect x="342" y="321" width="6" height="6" fill="#00f7ff"/>
<rect x="348" y="321" width="6" height="6" fill="#38ffc7"/>
<rect x="354" y="321" width="7" height="6" fill="#00f7ff"/>
<rect x="361" y="321" width="6" height="6" fill="#fff700"/>
<rect x="367" y="321" width="6" height="6" fill="#a7ff58"/>
<rect x="373" y="321" width="7" height="6" fill="#0078ff"/>
<rect x="380" y="321" width="12" height="6" fill="#0038ff"/>
<rect x="392" y="321" width="6" height="6" fill="#000087"/>
<rect x="398" y="321" width="7" height="6" fill="#0038ff"/>
<rect x="405" y="321" width="6" height="6" fill="#0078ff"/>
<rect x="411" y="321" width="6" height="6" fill="#0087ff"/>
<rect x="417" y="321" width="7" height="6" fill="#00a7ff"/>
<rect x="424" y="321" width="6" height="6" fill="#00d7ff"/>
<rect x="430" y="321" width="6" height="6" fill="#38ffc7"/>
<rect x="436" y="321" width="6" height="6" fill="#00d7ff"/>
<rect x="442" y="321" width="7" height="6" fill="#00b7ff"/>
<rect x="449" y="321" width="6" height="6" fill="#00f7ff"/>
<rect x="455" y="321" width="6" height="6" fill="#08fff7"/>
<rect x="461" y="321" width="7" height="6" fill="#00f7ff"/>
<rect x="468" y="321" width="12" height="6" fill="#00a7ff"/>
<rect x="480" y="321" width="6" height="6" fill="#0087ff"/>
<rect x="486" y="321" width="7" height="6" fill="#00b7ff"/>
<rect x="493" y="321" width="6" height="6" fill="#fff700"/>
<rect x="499" y="321" width="13" height="6" fill="#ff9700"/>
<rect x="512" y="321" width="6" height="6" fill="#e7ff18"/>
<rect x="518" y="321" width="6" height="6" fill="#ff4800"/>
<rect x="524" y="321" width="13" height="6" fill="#ff0800"/>
<rect x="537" y="321" width="6" height="6" fill="#c70000"/>
<rect x="543" y="321" width="6" height="6" fill="#870000"/>
<rect x="116" y="327" width="6" height="6" fill="#e7ff18"/>
<rect x="122" y="327" width="6" height="6" fill="#78ff87"/>
<rect x="128" y="327" width="6" height="6" fill="#00a7ff"/>
<rect x="134" y="327" width="7" height="6" fill="#ffd700"/>
<rect x="141" y="327" width="6" height="6" fill="#ffb700"/>
<rect x="147" y="327" width="6" height="6" fill="#00f7ff"/>
<rect x="153" y="327" width="7" height="6" fill="#00d7ff"/>
<rect x="160" y="327" width="6" height="6" fill="#00a7ff"/>
<rect x="166" y="327" width="6" height="6" fill="#08fff7"/>
<rect x="172" y="327" width="19" height="6" fill="#00d7ff"/>
<rect x="191" y="327" width="6" height="6" fill="#00f7ff"/>
<rect x="197" y="327" width="7" height="6" fill="#58ffa7"/>
<rect x="204" y="327" width="12" height="6" fill="#08fff7"/>
<rect x="216" y="327" width="6" height="6" fill="#38ffc7"/>
<rect x="222" y="327" width="7" height="6" fill="#78ff87"/>
<rect x="229" y="327" width="6" height="6" fill="#08fff7"/>
<rect x="235" y="327" width="6" height="6" fill="#38ffc7"/>
<rect x="241" y="327" width="7" height="6" fill="#a7ff58"/>
<rect x="248" y="327" width="6" height="6" fill="#00d7ff"/>
<rect x="254" y="327" width="6" height="6" fill="#08fff7"/>
<rect x="260" y="327" width="6" height="6" fill="#00d7ff"/>
<rect x="266" y="327" width="7" height="6" fill="#78ff87"/>
<rect x="273" y="327" width="25" height="6" fill="#a7ff58"/>
<rect x="298" y="327" width="6" height="6" fill="#fff700"/>
<rect x="304" y="327" width="6" height="6" fill="#78ff87"/>
<rect x="310" y="327" width="7" height="6" fill="#a7ff58"/>
<rect x="317" y="327" width="6" height="6" fill="#00a7ff"/>
<rect x="323" y="327" width="6" height="6" fill="#00b7ff"/>
<rect x="329" y="327" width="7" height="6" fill="#00a7ff"/>
<rect x="336" y="327" width="6" height="6" fill="#0087ff"/>
<rect x="342" y="327" width="6" height="6" fill="#00d7ff"/>
<rect x="348" y="327" width="6" height="6" fill="#08fff7"/>
<rect x="354" y="327" width="7" height="6" fill="#00d7ff"/>
<rect x="361" y="327" width="6" height="6" fill="#e7ff18"/>
<rect x="367" y="327" width="6" height="6" fill="#78ff87"/>
<rect x="373" y="327" width="25" height="6" fill="#0038ff"/>
<rect x="398" y="327" width="7" height="6" fill="#000087"/>
<rect x="405" y="327" width="12" height="6" fill="#0038ff"/>
<rect x="417" y="327" width="7" height="6" fill="#0087ff"/>
<rect x="424" y="327" width="6" height="6" fill="#00a7ff"/>
<rect x="430" y="327" width="6" height="6" fill="#08fff7"/>
<rect x="436" y="327" width="13" height="6" fill="#00a7ff"/>
<rect x="449" y="327" width="6" height="6" fill="#00d7ff"/>
<rect x="455" y="327" width="6" height="6" fill="#00f7ff"/>
<rect x="461" y="327" width="7" height="6" fill="#00d7ff"/>
<rect x="468" y="327" width="6" height="6" fill="#00a7ff"/>
<rect x="474" y="327" width="6" height="6" fill="#0087ff"/>
<rect x="480" y="327" width="6" height="6" fill="#0048ff"/>
<rect x="486" y="327" width="7" height="6" fill="#00a7ff"/>
<rect x="493" y="327" width="6" height="6" fill="#e7ff18"/>
<rect x="499" y="327" width="6" height="6" fill="#ffb700"/>
<rect x="505" y="327" width="7" height="6" fill="#ff9700"/>
<rect x="512" y="327" width="6" height="6" fill="#e7ff18"/>
<rect x="518" y="327" width="6" height="6" fill="#ff4800"/>
<rect x="524" y="327" width="13" height="6" fill="#ff0800"/>
<rect x="537" y="327" width="6" height="6" fill="#e70000"/>
<rect x="543" y="327" width="6" height="6" fill="#a70000"/>
<rect x="116" y="333" width="6" height="7" fill="#c7ff38"/>
<rect x="122" y="333" width="6" height="7" fill="#78ff87"/>
<rect x="128" y="333" width="6" height="7" fill="#00d7ff"/>
<rect x="134" y="333" width="7" height="7" fill="#fff700"/>
<rect x="141" y="333" width="6" height="7" fill="#ffd700"/>
<rect x="147" y="333" width="6" height="7" fill="#00d7ff"/>
<rect x="153" y="333" width="7" height="7" fill="#00b7ff"/>
<rect x="160" y="333" width="6" height="7" fill="#00a7ff"/>
<rect x="166" y="333" width="19" height="7" fill="#00d7ff"/>
<rect x="185" y="333" width="6" height="7" fill="#00b7ff"/>
<rect x="191" y="333" width="6" height="7" fill="#00d7ff"/>
<rect x="197" y="333" width="7" height="7" fill="#78ff87"/>
<rect x="204" y="333" width="12" height="7" fill="#00f7ff"/>
<rect x="216" y="333" width="6" height="7" fill="#08fff7"/>
<rect x="222" y="333" width="7" height="7" fill="#58ffa7"/>
<rect x="229" y="333" width="6" height="7" fill="#00f7ff"/>
<rect x="235" y="333" width="6" height="7" fill="#08fff7"/>
<rect x="241" y="333" width="7" height="7" fill="#78ff87"/>
<rect x="248" y="333" width="6" height="7" fill="#00d7ff"/>
<rect x="254" y="333" width="6" height="7" fill="#08fff7"/>
<rect x="260" y="333" width="6" height="7" fill="#00d7ff"/>
<rect x="266" y="333" width="7" height="7" fill="#78ff87"/>
<rect x="273" y="333" width="6" height="7" fill="#c7ff38"/>
<rect x="279" y="333" width="6" height="7" fill="#78ff87"/>
<rect x="285" y="333" width="7" height="7" fill="#a7ff58"/>
<rect x="292" y="333" width="6" height="7" fill="#78ff87"/>
<rect x="298" y="333" width="6" height="7" fill="#e7ff18"/>
<rect x="304" y="333" width="6" height="7" fill="#58ffa7"/>
<rect x="310" y="333" width="7" height="7" fill="#78ff87"/>
<rect x="317" y="333" width="12" height="7" fill="#00a7ff"/>
<rect x="329" y="333" width="7" height="7" fill="#0087ff"/>
<rect x="336" y="333" width="6" height="7" fill="#00a7ff"/>
<rect x="342" y="333" width="6" height="7" fill="#00d7ff"/>
<rect x="348" y="333" width="6" height="7" fill="#08fff7"/>
<rect x="354" y="333" width="7" height="7" fill="#00d7ff"/>
<rect x="361" y="333" width="6" height="7" fill="#c7ff38"/>
<rect x="367" y="333" width="6" height="7" fill="#58ffa7"/>
<rect x="373" y="333" width="13" height="7" fill="#0038ff"/>
<rect x="386" y="333" width="6" height="7" fill="#0058ff"/>
<rect x="392" y="333" width="6" height="7" fill="#0078ff"/>
<rect x="398" y="333" width="7" height="7" fill="#0038ff"/>
<rect x="405" y="333" width="6" height="7" fill="#000087"/>
<rect x="411" y="333" width="6" height="7" fill="#0038ff"/>
<rect x="417" y="333" width="7" height="7" fill="#0078ff"/>
<rect x="424" y="333" width="6" height="7" fill="#00a7ff"/>
<rect x="430" y="333" width="6" height="7" fill="#00f7ff"/>
<rect x="436" y="333" width="13" height="7" fill="#0087ff"/>
<rect x="449" y="333" width="6" height="7" fill="#00a7ff"/>
<rect x="455" y="333" width="6" height="7" fill="#00b7ff"/>
<rect x="461" y="333" width="7" height="7" fill="#00a7ff"/>
<rect x="468" y="333" width="6" height="7" fill="#0087ff"/>
<rect x="474" y="333" width="12" height="7" fill="#0078ff"/>
<rect x="486" y="333" width="7" height="7" fill="#0048ff"/>
<rect x="493" y="333" width="6" height="7" fill="#e7ff18"/>
<rect x="499" y="333" width="13" height="7" fill="#ffd700"/>
<rect x="512" y="333" width="6" height="7" fill="#c7ff38"/>
<rect x="518" y="333" width="6" height="7" fill="#ff9700"/>
<rect x="524" y="333" width="6" height="7" fill="#ff2800"/>
<rect x="530" y="333" width="7" height="7" fill="#ff4800"/>
<rect x="537" y="333" width="6" height="7" fill="#ff0800"/>
<rect x="543" y="333" width="6" height="7" fill="#e70000"/>
<rect x="116" y="340" width="6" height="6" fill="#a7ff58"/>
<rect x="122" y="340" width="6" height="6" fill="#58ffa7"/>
<rect x="128" y="340" width="6" height="6" fill="#00a7ff"/>
<rect x="134" y="340" width="7" height="6" fill="#e7ff18"/>
<rect x="141" y="340" width="6" height="6" fill="#fff700"/>
<rect x="147" y="340" width="6" height="6" fill="#00d7ff"/>
<rect x="153" y="340" width="13" height="6" fill="#00a7ff"/>
<rect x="166" y="340" width="6" height="6" fill="#00d7ff"/>
<rect x="172" y="340" width="13" height="6" fill="#00b7ff"/>
<rect x="185" y="340" width="6" height="6" fill="#00a7ff"/>
<rect x="191" y="340" width="6" height="6" fill="#00b7ff"/>
<rect x="197" y="340" width="7" height="6" fill="#58ffa7"/>
<rect x="204" y="340" width="12" height="6" fill="#00d7ff"/>
<rect x="216" y="340" width="6" height="6" fill="#00f7ff"/>
<rect x="222" y="340" width="7" height="6" fill="#38ffc7"/>
<rect x="229" y="340" width="6" height="6" fill="#00b7ff"/>
<rect x="235" y="340" width="6" height="6" fill="#00d7ff"/>
<rect x="241" y="340" width="7" height="6" fill="#58ffa7"/>
<rect x="248" y="340" width="6" height="6" fill="#00a7ff"/>
<rect x="254" y="340" width="6" height="6" fill="#00f7ff"/>
<rect x="260" y="340" width="6" height="6" fill="#00a7ff"/>
<rect x="266" y="340" width="7" height="6" fill="#58ffa7"/>
<rect x="273" y="340" width="6" height="6" fill="#78ff87"/>
<rect x="279" y="340" width="6" height="6" fill="#58ffa7"/>
<rect x="285" y="340" width="7" height="6" fill="#78ff87"/>
<rect x="292" y="340" width="6" height="6" fill="#58ffa7"/>
<rect x="298" y="340" width="6" height="6" fill="#c7ff38"/>
<rect x="304" y="340" width="6" height="6" fill="#38ffc7"/>
<rect x="310" y="340" width="7" height="6" fill="#78ff87"/>
<rect x="317" y="340" width="12" height="6" fill="#0087ff"/>
<rect x="329" y="340" width="7" height="6" fill="#0078ff"/>
<rect x="336" y="340" width="12" height="6" fill="#00a7ff"/>
<rect x="348" y="340" width="6" height="6" fill="#00f7ff"/>
<rect x="354" y="340" width="7" height="6" fill="#00b7ff"/>
<rect x="361" y="340" width="6" height="6" fill="#a7ff58"/>
<rect x="367" y="340" width="6" height="6" fill="#38ffc7"/>
<rect x="373" y="340" width="13" height="6" fill="#0038ff"/>
<rect x="386" y="340" width="6" height="6" fill="#0048ff"/>
<rect x="392" y="340" width="6" height="6" fill="#0087ff"/>
<rect x="398" y="340" width="13" height="6" fill="#0038ff"/>
<rect x="411" y="340" width="6" height="6" fill="#000087"/>
<rect x="417" y="340" width="7" height="6" fill="#0038ff"/>
<rect x="424" y="340" width="6" height="6" fill="#0087ff"/>
<rect x="430" y="340" width="6" height="6" fill="#00f7ff"/>
<rect x="436" y="340" width="6" height="6" fill="#0087ff"/>
<rect x="442" y="340" width="7" height="6" fill="#0078ff"/>
<rect x="449" y="340" width="6" height="6" fill="#0087ff"/>
<rect x="455" y="340" width="6" height="6" fill="#00a7ff"/>
<rect x="461" y="340" width="7" height="6" fill="#0087ff"/>
<rect x="468" y="340" width="12" height="6" fill="#0078ff"/>
<rect x="480" y="340" width="13" height="6" fill="#0048ff"/>
<rect x="493" y="340" width="6" height="6" fill="#c7ff38"/>
<rect x="499" y="340" width="13" height="6" fill="#fff700"/>
<rect x="512" y="340" width="6" height="6" fill="#a7ff58"/>
<rect x="518" y="340" width="6" height="6" fill="#ffb700"/>
<rect x="524" y="340" width="6" height="6" fill="#ff4800"/>
<rect x="530" y="340" width="7" height="6" fill="#ff7800"/>
<rect x="537" y="340" width="6" height="6" fill="#ff4800"/>
<rect x="543" y="340" width="6" height="6" fill="#ff0800"/>
<rect x="116" y="346" width="6" height="6" fill="#a7ff58"/>
<rect x="122" y="346" width="6" height="6" fill="#08fff7"/>
<rect x="128" y="346" width="6" height="6" fill="#0078ff"/>
<rect x="134" y="346" width="7" height="6" fill="#c7ff38"/>
<rect x="141" y="346" width="6" height="6" fill="#e7ff18"/>
<rect x="147" y="346" width="6" height="6" fill="#00a7ff"/>
<rect x="153" y="346" width="13" height="6" fill="#0048ff"/>
<rect x="166" y="346" width="12" height="6" fill="#0087ff"/>
<rect x="178" y="346" width="7" height="6" fill="#00a7ff"/>
<rect x="185" y="346" width="12" height="6" fill="#0087ff"/>
<rect x="197" y="346" width="7" height="6" fill="#08fff7"/>
<rect x="204" y="346" width="12" height="6" fill="#00a7ff"/>
<rect x="216" y="346" width="6" height="6" fill="#00b7ff"/>
<rect x="222" y="346" width="7" height="6" fill="#00f7ff"/>
<rect x="229" y="346" width="6" height="6" fill="#00a7ff"/>
<rect x="235" y="346" width="6" height="6" fill="#00d7ff"/>
<rect x="241" y="346" width="7" height="6" fill="#38ffc7"/>
<rect x="248" y="346" width="6" height="6" fill="#0087ff"/>
<rect x="254" y="346" width="6" height="6" fill="#00a7ff"/>
<rect x="260" y="346" width="6" height="6" fill="#0078ff"/>
<rect x="266" y="346" width="7" height="6" fill="#08fff7"/>
<rect x="273" y="346" width="6" height="6" fill="#38ffc7"/>
<rect x="279" y="346" width="19" height="6" fill="#08fff7"/>
<rect x="298" y="346" width="6" height="6" fill="#a7ff58"/>
<rect x="304" y="346" width="13" height="6" fill="#08fff7"/>
<rect x="317" y="346" width="19" height="6" fill="#0078ff"/>
<rect x="336" y="346" width="6" height="6" fill="#00a7ff"/>
<rect x="342" y="346" width="6" height="6" fill="#0087ff"/>
<rect x="348" y="346" width="6" height="6" fill="#00b7ff"/>
<rect x="354" y="346" width="7" height="6" fill="#00a7ff"/>
<rect x="361" y="346" width="6" height="6" fill="#a7ff58"/>
<rect x="367" y="346" width="6" height="6" fill="#08fff7"/>
<rect x="373" y="346" width="7" height="6" fill="#0078ff"/>
<rect x="380" y="346" width="6" height="6" fill="#0048ff"/>
<rect x="386" y="346" width="12" height="6" fill="#00a7ff"/>
<rect x="398" y="346" width="7" height="6" fill="#0087ff"/>
<rect x="405" y="346" width="6" height="6" fill="#0078ff"/>
<rect x="411" y="346" width="6" height="6" fill="#0038ff"/>
<rect x="417" y="346" width="7" height="6" fill="#000087"/>
<rect x="424" y="346" width="6" height="6" fill="#0048ff"/>
<rect x="430" y="346" width="6" height="6" fill="#00d7ff"/>
<rect x="436" y="346" width="6" height="6" fill="#0078ff"/>
<rect x="442" y="346" width="13" height="6" fill="#0068ff"/>
<rect x="455" y="346" width="6" height="6" fill="#0087ff"/>
<rect x="461" y="346" width="7" height="6" fill="#0078ff"/>
<rect x="468" y="346" width="6" height="6" fill="#0048ff"/>
<rect x="474" y="346" width="6" height="6" fill="#0078ff"/>
<rect x="480" y="346" width="6" height="6" fill="#0087ff"/>
<rect x="486" y="346" width="7" height="6" fill="#0048ff"/>
<rect x="493" y="346" width="6" height="6" fill="#a7ff58"/>
<rect x="499" y="346" width="6" height="6" fill="#c7ff38"/>
<rect x="505" y="346" width="7" height="6" fill="#e7ff18"/>
<rect x="512" y="346" width="6" height="6" fill="#58ffa7"/>
<rect x="518" y="346" width="6" height="6" fill="#fff700"/>
<rect x="524" y="346" width="6" height="6" fill="#ff9700"/>
<rect x="530" y="346" width="7" height="6" fill="#ffb700"/>
<rect x="537" y="346" width="6" height="6" fill="#ff7800"/>
<rect x="543" y="346" width="6" height="6" fill="#ff2800"/>
<rect x="116" y="352" width="6" height="6" fill="#a7ff58"/>
<rect x="122" y="352" width="6" height="6" fill="#00f7ff"/>
<rect x="128" y="352" width="6" height="6" fill="#0087ff"/>
<rect x="134" y="352" width="7" height="6" fill="#e7ff18"/>
<rect x="141" y="352" width="6" height="6" fill="#fff700"/>
<rect x="147" y="352" width="6" height="6" fill="#00d7ff"/>
<rect x="153" y="352" width="13" height="6" fill="#00a7ff"/>
<rect x="166" y="352" width="6" height="6" fill="#0048ff"/>
<rect x="172" y="352" width="6" height="6" fill="#0087ff"/>
<rect x="178" y="352" width="13" height="6" fill="#00a7ff"/>
<rect x="191" y="352" width="6" height="6" fill="#0087ff"/>
<rect x="197" y="352" width="7" height="6" fill="#38ffc7"/>
<rect x="204" y="352" width="12" height="6" fill="#00d7ff"/>
<rect x="216" y="352" width="6" height="6" fill="#00a7ff"/>
<rect x="222" y="352" width="7" height="6" fill="#00b7ff"/>
<rect x="229" y="352" width="6" height="6" fill="#00a7ff"/>
<rect x="235" y="352" width="6" height="6" fill="#00b7ff"/>
<rect x="241" y="352" width="7" height="6" fill="#08fff7"/>
<rect x="248" y="352" width="6" height="6" fill="#0087ff"/>
<rect x="254" y="352" width="6" height="6" fill="#00a7ff"/>
<rect x="260" y="352" width="6" height="6" fill="#0087ff"/>
<rect x="266" y="352" width="7" height="6" fill="#08fff7"/>
<rect x="273" y="352" width="12" height="6" fill="#38ffc7"/>
<rect x="285" y="352" width="13" height="6" fill="#08fff7"/>
<rect x="298" y="352" width="6" height="6" fill="#a7ff58"/>
<rect x="304" y="352" width="13" height="6" fill="#08fff7"/>
<rect x="317" y="352" width="19" height="6" fill="#00a7ff"/>
<rect x="336" y="352" width="6" height="6" fill="#00d7ff"/>
<rect x="342" y="352" width="6" height="6" fill="#00a7ff"/>
<rect x="348" y="352" width="6" height="6" fill="#00d7ff"/>
<rect x="354" y="352" width="7" height="6" fill="#00b7ff"/>
<rect x="361" y="352" width="6" height="6" fill="#78ff87"/>
<rect x="367" y="352" width="6" height="6" fill="#08fff7"/>
<rect x="373" y="352" width="13" height="6" fill="#00a7ff"/>
<rect x="386" y="352" width="6" height="6" fill="#00b7ff"/>
<rect x="392" y="352" width="6" height="6" fill="#00d7ff"/>
<rect x="398" y="352" width="13" height="6" fill="#00a7ff"/>
<rect x="411" y="352" width="6" height="6" fill="#0087ff"/>
<rect x="417" y="352" width="7" height="6" fill="#0048ff"/>
<rect x="424" y="352" width="6" height="6" fill="#000087"/>
<rect x="430" y="352" width="6" height="6" fill="#00d7ff"/>
<rect x="436" y="352" width="19" height="6" fill="#0048ff"/>
<rect x="455" y="352" width="6" height="6" fill="#00b7ff"/>
<rect x="461" y="352" width="7" height="6" fill="#0087ff"/>
<rect x="468" y="352" width="6" height="6" fill="#0048ff"/>
<rect x="474" y="352" width="6" height="6" fill="#0087ff"/>
<rect x="480" y="352" width="6" height="6" fill="#00a7ff"/>
<rect x="486" y="352" width="7" height="6" fill="#00d7ff"/>
<rect x="493" y="352" width="6" height="6" fill="#a7ff58"/>
<rect x="499" y="352" width="13" height="6" fill="#c7ff38"/>
<rect x="512" y="352" width="6" height="6" fill="#58ffa7"/>
<rect x="518" y="352" width="6" height="6" fill="#e7ff18"/>
<rect x="524" y="352" width="6" height="6" fill="#ffb700"/>
<rect x="530" y="352" width="7" height="6" fill="#ffd700"/>
<rect x="537" y="352" width="6" height="6" fill="#ff9700"/>
<rect x="543" y="352" width="6" height="6" fill="#ff4800"/>
<rect x="116" y="358" width="6" height="7" fill="#a7ff58"/>
<rect x="122" y="358" width="6" height="7" fill="#00d7ff"/>
<rect x="128" y="358" width="6" height="7" fill="#08fff7"/>
<rect x="134" y="358" width="7" height="7" fill="#fff700"/>
<rect x="141" y="358" width="6" height="7" fill="#ffd700"/>
<rect x="147" y="358" width="6" height="7" fill="#38ffc7"/>
<rect x="153" y="358" width="7" height="7" fill="#08fff7"/>
<rect x="160" y="358" width="12" height="7" fill="#00f7ff"/>
<rect x="172" y="358" width="6" height="7" fill="#00d7ff"/>
<rect x="178" y="358" width="19" height="7" fill="#08fff7"/>
<rect x="197" y="358" width="7" height="7" fill="#a7ff58"/>
<rect x="204" y="358" width="31" height="7" fill="#38ffc7"/>
<rect x="235" y="358" width="6" height="7" fill="#78ff87"/>
<rect x="241" y="358" width="7" height="7" fill="#a7ff58"/>
<rect x="248" y="358" width="18" height="7" fill="#08fff7"/>
<rect x="266" y="358" width="19" height="7" fill="#a7ff58"/>
<rect x="285" y="358" width="7" height="7" fill="#c7ff38"/>
<rect x="292" y="358" width="6" height="7" fill="#78ff87"/>
<rect x="298" y="358" width="6" height="7" fill="#c7ff38"/>
<rect x="304" y="358" width="13" height="7" fill="#78ff87"/>
<rect x="317" y="358" width="19" height="7" fill="#38ffc7"/>
<rect x="336" y="358" width="6" height="7" fill="#58ffa7"/>
<rect x="342" y="358" width="6" height="7" fill="#08fff7"/>
<rect x="348" y="358" width="6" height="7" fill="#58ffa7"/>
<rect x="354" y="358" width="7" height="7" fill="#08fff7"/>
<rect x="361" y="358" width="6" height="7" fill="#c7ff38"/>
<rect x="367" y="358" width="6" height="7" fill="#78ff87"/>
<rect x="373" y="358" width="13" height="7" fill="#00f7ff"/>
<rect x="386" y="358" width="6" height="7" fill="#08fff7"/>
<rect x="392" y="358" width="6" height="7" fill="#38ffc7"/>
<rect x="398" y="358" width="7" height="7" fill="#08fff7"/>
<rect x="405" y="358" width="12" height="7" fill="#00f7ff"/>
<rect x="417" y="358" width="13" height="7" fill="#00d7ff"/>
<rect x="430" y="358" width="6" height="7" fill="#000087"/>
<rect x="436" y="358" width="6" height="7" fill="#0097ff"/>
<rect x="442" y="358" width="7" height="7" fill="#00b7ff"/>
<rect x="449" y="358" width="6" height="7" fill="#00d7ff"/>
<rect x="455" y="358" width="6" height="7" fill="#00f7ff"/>
<rect x="461" y="358" width="25" height="7" fill="#00d7ff"/>
<rect x="486" y="358" width="7" height="7" fill="#00a7ff"/>
<rect x="493" y="358" width="6" height="7" fill="#c7ff38"/>
<rect x="499" y="358" width="6" height="7" fill="#e7ff18"/>
<rect x="505" y="358" width="7" height="7" fill="#fff700"/>
<rect x="512" y="358" width="6" height="7" fill="#78ff87"/>
<rect x="518" y="358" width="6" height="7" fill="#ffb700"/>
<rect x="524" y="358" width="6" height="7" fill="#ff4800"/>
<rect x="530" y="358" width="7" height="7" fill="#ff7800"/>
<rect x="537" y="358" width="6" height="7" fill="#ff4800"/>
<rect x="543" y="358" width="6" height="7" fill="#ff0800"/>
<rect x="116" y="365" width="6" height="6" fill="#78ff87"/>
<rect x="122" y="365" width="6" height="6" fill="#00d7ff"/>
<rect x="128" y="365" width="6" height="6" fill="#0087ff"/>
<rect x="134" y="365" width="7" height="6" fill="#e7ff18"/>
<rect x="141" y="365" width="6" height="6" fill="#fff700"/>
<rect x="147" y="365" width="6" height="6" fill="#00d7ff"/>
<rect x="153" y="365" width="7" height="6" fill="#00a7ff"/>
<rect x="160" y="365" width="6" height="6" fill="#0087ff"/>
<rect x="166" y="365" width="6" height="6" fill="#00a7ff"/>
<rect x="172" y="365" width="6" height="6" fill="#0078ff"/>
<rect x="178" y="365" width="19" height="6" fill="#00a7ff"/>
<rect x="197" y="365" width="7" height="6" fill="#58ffa7"/>
<rect x="204" y="365" width="18" height="6" fill="#00d7ff"/>
<rect x="222" y="365" width="7" height="6" fill="#00f7ff"/>
<rect x="229" y="365" width="6" height="6" fill="#00b7ff"/>
<rect x="235" y="365" width="6" height="6" fill="#00f7ff"/>
<rect x="241" y="365" width="7" height="6" fill="#58ffa7"/>
<rect x="248" y="365" width="6" height="6" fill="#00a7ff"/>
<rect x="254" y="365" width="6" height="6" fill="#00d7ff"/>
<rect x="260" y="365" width="6" height="6" fill="#00a7ff"/>
<rect x="266" y="365" width="19" height="6" fill="#58ffa7"/>
<rect x="285" y="365" width="7" height="6" fill="#78ff87"/>
<rect x="292" y="365" width="6" height="6" fill="#58ffa7"/>
<rect x="298" y="365" width="6" height="6" fill="#a7ff58"/>
<rect x="304" y="365" width="6" height="6" fill="#08fff7"/>
<rect x="310" y="365" width="7" height="6" fill="#38ffc7"/>
<rect x="317" y="365" width="19" height="6" fill="#00a7ff"/>
<rect x="336" y="365" width="6" height="6" fill="#00d7ff"/>
<rect x="342" y="365" width="6" height="6" fill="#00b7ff"/>
<rect x="348" y="365" width="6" height="6" fill="#00f7ff"/>
<rect x="354" y="365" width="7" height="6" fill="#00b7ff"/>
<rect x="361" y="365" width="6" height="6" fill="#a7ff58"/>
<rect x="367" y="365" width="6" height="6" fill="#38ffc7"/>
<rect x="373" y="365" width="13" height="6" fill="#0048ff"/>
<rect x="386" y="365" width="6" height="6" fill="#00a7ff"/>
<rect x="392" y="365" width="6" height="6" fill="#00d7ff"/>
<rect x="398" y="365" width="7" height="6" fill="#00a7ff"/>
<rect x="405" y="365" width="12" height="6" fill="#0087ff"/>
<rect x="417" y="365" width="7" height="6" fill="#0078ff"/>
<rect x="424" y="365" width="6" height="6" fill="#0048ff"/>
<rect x="430" y="365" width="6" height="6" fill="#0097ff"/>
<rect x="436" y="365" width="6" height="6" fill="#000087"/>
<rect x="442" y="365" width="7" height="6" fill="#0068ff"/>
<rect x="449" y="365" width="6" height="6" fill="#0058ff"/>
<rect x="455" y="365" width="6" height="6" fill="#0097ff"/>
<rect x="461" y="365" width="7" height="6" fill="#0048ff"/>
<rect x="468" y="365" width="6" height="6" fill="#0068ff"/>
<rect x="474" y="365" width="12" height="6" fill="#0048ff"/>
<rect x="486" y="365" width="7" height="6" fill="#0087ff"/>
<rect x="493" y="365" width="6" height="6" fill="#a7ff58"/>
<rect x="499" y="365" width="6" height="6" fill="#c7ff38"/>
<rect x="505" y="365" width="7" height="6" fill="#e7ff18"/>
<rect x="512" y="365" width="6" height="6" fill="#58ffa7"/>
<rect x="518" y="365" width="6" height="6" fill="#ffd700"/>
<rect x="524" y="365" width="6" height="6" fill="#ff7800"/>
<rect x="530" y="365" width="7" height="6" fill="#ff9700"/>
<rect x="537" y="365" width="6" height="6" fill="#ff4800"/>
<rect x="543" y="365" width="6" height="6" fill="#ff0800"/>
<rect x="116" y="371" width="6" height="6" fill="#78ff87"/>
<rect x="122" y="371" width="6" height="6" fill="#00d7ff"/>
<rect x="128" y="371" width="6" height="6" fill="#0048ff"/>
<rect x="134" y="371" width="7" height="6" fill="#c7ff38"/>
<rect x="141" y="371" width="6" height="6" fill="#e7ff18"/>
<rect x="147" y="371" width="6" height="6" fill="#00a7ff"/>
<rect x="153" y="371" width="38" height="6" fill="#0078ff"/>
<rect x="191" y="371" width="6" height="6" fill="#00a7ff"/>
<rect x="197" y="371" width="7" height="6" fill="#08fff7"/>
<rect x="204" y="371" width="18" height="6" fill="#00a7ff"/>
<rect x="222" y="371" width="7" height="6" fill="#00b7ff"/>
<rect x="229" y="371" width="6" height="6" fill="#00a7ff"/>
<rect x="235" y="371" width="6" height="6" fill="#00b7ff"/>
<rect x="241" y="371" width="7" height="6" fill="#38ffc7"/>
<rect x="248" y="371" width="12" height="6" fill="#00a7ff"/>
<rect x="260" y="371" width="6" height="6" fill="#0087ff"/>
<rect x="266" y="371" width="7" height="6" fill="#00f7ff"/>
<rect x="273" y="371" width="12" height="6" fill="#08fff7"/>
<rect x="285" y="371" width="7" height="6" fill="#38ffc7"/>
<rect x="292" y="371" width="6" height="6" fill="#08fff7"/>
<rect x="298" y="371" width="6" height="6" fill="#78ff87"/>
<rect x="304" y="371" width="6" height="6" fill="#00d7ff"/>
<rect x="310" y="371" width="7" height="6" fill="#08fff7"/>
<rect x="317" y="371" width="19" height="6" fill="#00a7ff"/>
<rect x="336" y="371" width="6" height="6" fill="#00d7ff"/>
<rect x="342" y="371" width="6" height="6" fill="#0078ff"/>
<rect x="348" y="371" width="6" height="6" fill="#00b7ff"/>
<rect x="354" y="371" width="7" height="6" fill="#00a7ff"/>
<rect x="361" y="371" width="6" height="6" fill="#78ff87"/>
<rect x="367" y="371" width="6" height="6" fill="#08fff7"/>
<rect x="373" y="371" width="7" height="6" fill="#0087ff"/>
<rect x="380" y="371" width="6" height="6" fill="#0048ff"/>
<rect x="386" y="371" width="6" height="6" fill="#00a7ff"/>
<rect x="392" y="371" width="6" height="6" fill="#00b7ff"/>
<rect x="398" y="371" width="7" height="6" fill="#00a7ff"/>
<rect x="405" y="371" width="6" height="6" fill="#0087ff"/>
<rect x="411" y="371" width="6" height="6" fill="#0078ff"/>
<rect x="417" y="371" width="7" height="6" fill="#0068ff"/>
<rect x="424" y="371" width="6" height="6" fill="#0048ff"/>
<rect x="430" y="371" width="6" height="6" fill="#00b7ff"/>
<rect x="436" y="371" width="6" height="6" fill="#0068ff"/>
<rect x="442" y="371" width="7" height="6" fill="#000087"/>
<rect x="449" y="371" width="6" height="6" fill="#0038ff"/>
<rect x="455" y="371" width="13" height="6" fill="#0078ff"/>
<rect x="468" y="371" width="6" height="6" fill="#0068ff"/>
<rect x="474" y="371" width="12" height="6" fill="#0048ff"/>
<rect x="486" y="371" width="7" height="6" fill="#0078ff"/>
<rect x="493" y="371" width="6" height="6" fill="#78ff87"/>
<rect x="499" y="371" width="13" height="6" fill="#c7ff38"/>
<rect x="512" y="371" width="6" height="6" fill="#38ffc7"/>
<rect x="518" y="371" width="6" height="6" fill="#e7ff18"/>
<rect x="524" y="371" width="13" height="6" fill="#ffb700"/>
<rect x="537" y="371" width="6" height="6" fill="#ff7800"/>
<rect x="543" y="371" width="6" height="6" fill="#ff4800"/>
<rect x="116" y="377" width="6" height="7" fill="#58ffa7"/>
<rect x="122" y="377" width="6" height="7" fill="#00b7ff"/>
<rect x="128" y="377" width="6" height="7" fill="#0078ff"/>
<rect x="134" y="377" width="7" height="7" fill="#a7ff58"/>
<rect x="141" y="377" width="6" height="7" fill="#c7ff38"/>
<rect x="147" y="377" width="6" height="7" fill="#00a7ff"/>
<rect x="153" y="377" width="7" height="7" fill="#0078ff"/>
<rect x="160" y="377" width="12" height="7" fill="#0048ff"/>
<rect x="172" y="377" width="6" height="7" fill="#0058ff"/>
<rect x="178" y="377" width="19" height="7" fill="#0078ff"/>
<rect x="197" y="377" width="7" height="7" fill="#08fff7"/>
<rect x="204" y="377" width="6" height="7" fill="#0087ff"/>
<rect x="210" y="377" width="12" height="7" fill="#0078ff"/>
<rect x="222" y="377" width="7" height="7" fill="#0087ff"/>
<rect x="229" y="377" width="6" height="7" fill="#0058ff"/>
<rect x="235" y="377" width="6" height="7" fill="#0087ff"/>
<rect x="241" y="377" width="7" height="7" fill="#00d7ff"/>
<rect x="248" y="377" width="6" height="7" fill="#0078ff"/>
<rect x="254" y="377" width="6" height="7" fill="#0087ff"/>
<rect x="260" y="377" width="6" height="7" fill="#0078ff"/>
<rect x="266" y="377" width="7" height="7" fill="#00d7ff"/>
<rect x="273" y="377" width="6" height="7" fill="#08fff7"/>
<rect x="279" y="377" width="6" height="7" fill="#00d7ff"/>
<rect x="285" y="377" width="7" height="7" fill="#08fff7"/>
<rect x="292" y="377" width="6" height="7" fill="#00d7ff"/>
<rect x="298" y="377" width="6" height="7" fill="#58ffa7"/>
<rect x="304" y="377" width="6" height="7" fill="#00b7ff"/>
<rect x="310" y="377" width="7" height="7" fill="#00f7ff"/>
<rect x="317" y="377" width="6" height="7" fill="#0087ff"/>
<rect x="323" y="377" width="13" height="7" fill="#0078ff"/>
<rect x="336" y="377" width="6" height="7" fill="#00b7ff"/>
<rect x="342" y="377" width="6" height="7" fill="#0058ff"/>
<rect x="348" y="377" width="6" height="7" fill="#0087ff"/>
<rect x="354" y="377" width="7" height="7" fill="#0078ff"/>
<rect x="361" y="377" width="6" height="7" fill="#08fff7"/>
<rect x="367" y="377" width="6" height="7" fill="#00d7ff"/>
<rect x="373" y="377" width="13" height="7" fill="#00a7ff"/>
<rect x="386" y="377" width="6" height="7" fill="#00d7ff"/>
<rect x="392" y="377" width="6" height="7" fill="#00f7ff"/>
<rect x="398" y="377" width="7" height="7" fill="#00d7ff"/>
<rect x="405" y="377" width="6" height="7" fill="#00a7ff"/>
<rect x="411" y="377" width="6" height="7" fill="#0087ff"/>
<rect x="417" y="377" width="7" height="7" fill="#0068ff"/>
<rect x="424" y="377" width="6" height="7" fill="#0048ff"/>
<rect x="430" y="377" width="6" height="7" fill="#00d7ff"/>
<rect x="436" y="377" width="6" height="7" fill="#0058ff"/>
<rect x="442" y="377" width="7" height="7" fill="#0038ff"/>
<rect x="449" y="377" width="6" height="7" fill="#000087"/>
<rect x="455" y="377" width="6" height="7" fill="#0048ff"/>
<rect x="461" y="377" width="13" height="7" fill="#0068ff"/>
<rect x="474" y="377" width="6" height="7" fill="#0048ff"/>
<rect x="480" y="377" width="13" height="7" fill="#0087ff"/>
<rect x="493" y="377" width="6" height="7" fill="#58ffa7"/>
<rect x="499" y="377" width="13" height="7" fill="#a7ff58"/>
<rect x="512" y="377" width="6" height="7" fill="#08fff7"/>
<rect x="518" y="377" width="6" height="7" fill="#c7ff38"/>
<rect x="524" y="377" width="6" height="7" fill="#ffd700"/>
<rect x="530" y="377" width="7" height="7" fill="#fff700"/>
<rect x="537" y="377" width="6" height="7" fill="#ffb700"/>
<rect x="543" y="377" width="6" height="7" fill="#ff7800"/>
<rect x="116" y="384" width="6" height="6" fill="#58ffa7"/>
<rect x="122" y="384" width="12" height="6" fill="#00d7ff"/>
<rect x="134" y="384" width="13" height="6" fill="#a7ff58"/>
<rect x="147" y="384" width="6" height="6" fill="#00b7ff"/>
<rect x="153" y="384" width="7" height="6" fill="#00d7ff"/>
<rect x="160" y="384" width="6" height="6" fill="#00a7ff"/>
<rect x="166" y="384" width="6" height="6" fill="#00b7ff"/>
<rect x="172" y="384" width="19" height="6" fill="#00a7ff"/>
<rect x="191" y="384" width="6" height="6" fill="#00b7ff"/>
<rect x="197" y="384" width="7" height="6" fill="#38ffc7"/>
<rect x="204" y="384" width="6" height="6" fill="#00a7ff"/>
<rect x="210" y="384" width="6" height="6" fill="#0087ff"/>
<rect x="216" y="384" width="6" height="6" fill="#00a7ff"/>
<rect x="222" y="384" width="7" height="6" fill="#00b7ff"/>
<rect x="229" y="384" width="6" height="6" fill="#0087ff"/>
<rect x="235" y="384" width="6" height="6" fill="#00b7ff"/>
<rect x="241" y="384" width="7" height="6" fill="#38ffc7"/>
<rect x="248" y="384" width="12" height="6" fill="#00b7ff"/>
<rect x="260" y="384" width="6" height="6" fill="#00a7ff"/>
<rect x="266" y="384" width="7" height="6" fill="#08fff7"/>
<rect x="273" y="384" width="6" height="6" fill="#58ffa7"/>
<rect x="279" y="384" width="6" height="6" fill="#08fff7"/>
<rect x="285" y="384" width="7" height="6" fill="#38ffc7"/>
<rect x="292" y="384" width="6" height="6" fill="#08fff7"/>
<rect x="298" y="384" width="6" height="6" fill="#58ffa7"/>
<rect x="304" y="384" width="6" height="6" fill="#00b7ff"/>
<rect x="310" y="384" width="7" height="6" fill="#08fff7"/>
<rect x="317" y="384" width="12" height="6" fill="#00a7ff"/>
<rect x="329" y="384" width="7" height="6" fill="#0078ff"/>
<rect x="336" y="384" width="6" height="6" fill="#00b7ff"/>
<rect x="342" y="384" width="6" height="6" fill="#0078ff"/>
<rect x="348" y="384" width="13" height="6" fill="#00a7ff"/>
<rect x="361" y="384" width="6" height="6" fill="#08fff7"/>
<rect x="367" y="384" width="6" height="6" fill="#00f7ff"/>
<rect x="373" y="384" width="13" height="6" fill="#00b7ff"/>
<rect x="386" y="384" width="6" height="6" fill="#00f7ff"/>
<rect x="392" y="384" width="6" height="6" fill="#08fff7"/>
<rect x="398" y="384" width="7" height="6" fill="#00f7ff"/>
<rect x="405" y="384" width="6" height="6" fill="#00b7ff"/>
<rect x="411" y="384" width="6" height="6" fill="#00a7ff"/>
<rect x="417" y="384" width="7" height="6" fill="#0087ff"/>
<rect x="424" y="384" width="6" height="6" fill="#00b7ff"/>
<rect x="430" y="384" width="6" height="6" fill="#00f7ff"/>
<rect x="436" y="384" width="6" height="6" fill="#0097ff"/>
<rect x="442" y="384" width="7" height="6" fill="#0078ff"/>
<rect x="449" y="384" width="6" height="6" fill="#0048ff"/>
<rect x="455" y="384" width="6" height="6" fill="#000087"/>
<rect x="461" y="384" width="7" height="6" fill="#0078ff"/>
<rect x="468" y="384" width="12" height="6" fill="#0087ff"/>
<rect x="480" y="384" width="13" height="6" fill="#00a7ff"/>
<rect x="493" y="384" width="6" height="6" fill="#58ffa7"/>
<rect x="499" y="384" width="13" height="6" fill="#78ff87"/>
<rect x="512" y="384" width="6" height="6" fill="#08fff7"/>
<rect x="518" y="384" width="6" height="6" fill="#c7ff38"/>
<rect x="524" y="384" width="6" height="6" fill="#ffd700"/>
<rect x="530" y="384" width="7" height="6" fill="#fff700"/>
<rect x="537" y="384" width="6" height="6" fill="#ffb700"/>
<rect x="543" y="384" width="6" height="6" fill="#ff9700"/>
<rect x="116" y="390" width="6" height="6" fill="#58ffa7"/>
<rect x="122" y="390" width="6" height="6" fill="#00d7ff"/>
<rect x="128" y="390" width="6" height="6" fill="#00a7ff"/>
<rect x="134" y="390" width="13" height="6" fill="#a7ff58"/>
<rect x="147" y="390" width="13" height="6" fill="#00a7ff"/>
<rect x="160" y="390" width="12" height="6" fill="#0048ff"/>
<rect x="172" y="390" width="13" height="6" fill="#0078ff"/>
<rect x="185" y="390" width="6" height="6" fill="#0048ff"/>
<rect x="191" y="390" width="6" height="6" fill="#0087ff"/>
<rect x="197" y="390" width="7" height="6" fill="#38ffc7"/>
<rect x="204" y="390" width="6" height="6" fill="#00a7ff"/>
<rect x="210" y="390" width="12" height="6" fill="#0087ff"/>
<rect x="222" y="390" width="7" height="6" fill="#00a7ff"/>
<rect x="229" y="390" width="6" height="6" fill="#0078ff"/>
<rect x="235" y="390" width="6" height="6" fill="#00a7ff"/>
<rect x="241" y="390" width="7" height="6" fill="#00f7ff"/>
<rect x="248" y="390" width="6" height="6" fill="#0048ff"/>
<rect x="254" y="390" width="6" height="6" fill="#00b7ff"/>
<rect x="260" y="390" width="6" height="6" fill="#0078ff"/>
<rect x="266" y="390" width="7" height="6" fill="#00f7ff"/>
<rect x="273" y="390" width="6" height="6" fill="#58ffa7"/>
<rect x="279" y="390" width="6" height="6" fill="#00f7ff"/>
<rect x="285" y="390" width="7" height="6" fill="#38ffc7"/>
<rect x="292" y="390" width="6" height="6" fill="#00d7ff"/>
<rect x="298" y="390" width="6" height="6" fill="#58ffa7"/>
<rect x="304" y="390" width="6" height="6" fill="#00b7ff"/>
<rect x="310" y="390" width="7" height="6" fill="#08fff7"/>
<rect x="317" y="390" width="12" height="6" fill="#0087ff"/>
<rect x="329" y="390" width="7" height="6" fill="#0058ff"/>
<rect x="336" y="390" width="6" height="6" fill="#00b7ff"/>
<rect x="342" y="390" width="6" height="6" fill="#0078ff"/>
<rect x="348" y="390" width="6" height="6" fill="#00a7ff"/>
<rect x="354" y="390" width="7" height="6" fill="#0078ff"/>
<rect x="361" y="390" width="6" height="6" fill="#08fff7"/>
<rect x="367" y="390" width="6" height="6" fill="#00d7ff"/>
<rect x="373" y="390" width="7" height="6" fill="#0087ff"/>
<rect x="380" y="390" width="6" height="6" fill="#00a7ff"/>
<rect x="386" y="390" width="6" height="6" fill="#00b7ff"/>
<rect x="392" y="390" width="6" height="6" fill="#00f7ff"/>
<rect x="398" y="390" width="7" height="6" fill="#00d7ff"/>
<rect x="405" y="390" width="6" height="6" fill="#00a7ff"/>
<rect x="411" y="390" width="6" height="6" fill="#0087ff"/>
<rect x="417" y="390" width="7" height="6" fill="#0078ff"/>
<rect x="424" y="390" width="6" height="6" fill="#0087ff"/>
<rect x="430" y="390" width="6" height="6" fill="#00d7ff"/>
<rect x="436" y="390" width="6" height="6" fill="#0048ff"/>
<rect x="442" y="390" width="7" height="6" fill="#0078ff"/>
<rect x="449" y="390" width="6" height="6" fill="#0068ff"/>
<rect x="455" y="390" width="6" height="6" fill="#0078ff"/>
<rect x="461" y="390" width="7" height="6" fill="#000087"/>
<rect x="468" y="390" width="12" height="6" fill="#0078ff"/>
<rect x="480" y="390" width="6" height="6" fill="#0087ff"/>
<rect x="486" y="390" width="7" height="6" fill="#00a7ff"/>
<rect x="493" y="390" width="6" height="6" fill="#58ffa7"/>
<rect x="499" y="390" width="13" height="6" fill="#a7ff58"/>
<rect x="512" y="390" width="6" height="6" fill="#08fff7"/>
<rect x="518" y="390" width="6" height="6" fill="#c7ff38"/>
<rect x="524" y="390" width="6" height="6" fill="#ffd700"/>
<rect x="530" y="390" width="7" height="6" fill="#fff700"/>
<rect x="537" y="390" width="6" height="6" fill="#ffb700"/>
<rect x="543" y="390" width="6" height="6" fill="#ff7800"/>
<rect x="116" y="396" width="6" height="6" fill="#38ffc7"/>
<rect x="122" y="396" width="6" height="6" fill="#00d7ff"/>
<rect x="128" y="396" width="6" height="6" fill="#0078ff"/>
<rect x="134" y="396" width="13" height="6" fill="#c7ff38"/>
<rect x="147" y="396" width="6" height="6" fill="#00b7ff"/>
<rect x="153" y="396" width="7" height="6" fill="#0087ff"/>
<rect x="160" y="396" width="6" height="6" fill="#0078ff"/>
<rect x="166" y="396" width="6" height="6" fill="#0087ff"/>
<rect x="172" y="396" width="19" height="6" fill="#0078ff"/>
<rect x="191" y="396" width="6" height="6" fill="#00a7ff"/>
<rect x="197" y="396" width="7" height="6" fill="#08fff7"/>
<rect x="204" y="396" width="6" height="6" fill="#00a7ff"/>
<rect x="210" y="396" width="6" height="6" fill="#0087ff"/>
<rect x="216" y="396" width="6" height="6" fill="#00a7ff"/>
<rect x="222" y="396" width="7" height="6" fill="#00b7ff"/>
<rect x="229" y="396" width="6" height="6" fill="#00a7ff"/>
<rect x="235" y="396" width="6" height="6" fill="#00b7ff"/>
<rect x="241" y="396" width="7" height="6" fill="#38ffc7"/>
<rect x="248" y="396" width="6" height="6" fill="#00a7ff"/>
<rect x="254" y="396" width="6" height="6" fill="#00d7ff"/>
<rect x="260" y="396" width="6" height="6" fill="#00a7ff"/>
<rect x="266" y="396" width="7" height="6" fill="#08fff7"/>
<rect x="273" y="396" width="6" height="6" fill="#38ffc7"/>
<rect x="279" y="396" width="13" height="6" fill="#08fff7"/>
<rect x="292" y="396" width="6" height="6" fill="#00f7ff"/>
<rect x="298" y="396" width="6" height="6" fill="#78ff87"/>
<rect x="304" y="396" width="6" height="6" fill="#00d7ff"/>
<rect x="310" y="396" width="7" height="6" fill="#08fff7"/>
<rect x="317" y="396" width="6" height="6" fill="#00a7ff"/>
<rect x="323" y="396" width="6" height="6" fill="#0078ff"/>
<rect x="329" y="396" width="7" height="6" fill="#0087ff"/>
<rect x="336" y="396" width="6" height="6" fill="#00d7ff"/>
<rect x="342" y="396" width="6" height="6" fill="#0078ff"/>
<rect x="348" y="396" width="6" height="6" fill="#00a7ff"/>
<rect x="354" y="396" width="7" height="6" fill="#0087ff"/>
<rect x="361" y="396" width="6" height="6" fill="#58ffa7"/>
<rect x="367" y="396" width="6" height="6" fill="#00f7ff"/>
<rect x="373" y="396" width="7" height="6" fill="#0078ff"/>
<rect x="380" y="396" width="12" height="6" fill="#0087ff"/>
<rect x="392" y="396" width="13" height="6" fill="#00a7ff"/>
<rect x="405" y="396" width="6" height="6" fill="#0087ff"/>
<rect x="411" y="396" width="6" height="6" fill="#0078ff"/>
<rect x="417" y="396" width="13" height="6" fill="#0048ff"/>
<rect x="430" y="396" width="6" height="6" fill="#00d7ff"/>
<rect x="436" y="396" width="19" height="6" fill="#0068ff"/>
<rect x="455" y="396" width="6" height="6" fill="#0087ff"/>
<rect x="461" y="396" width="7" height="6" fill="#0078ff"/>
<rect x="468" y="396" width="6" height="6" fill="#000087"/>
<rect x="474" y="396" width="6" height="6" fill="#0038ff"/>
<rect x="480" y="396" width="6" height="6" fill="#0048ff"/>
<rect x="486" y="396" width="7" height="6" fill="#0087ff"/>
<rect x="493" y="396" width="6" height="6" fill="#78ff87"/>
<rect x="499" y="396" width="6" height="6" fill="#a7ff58"/>
<rect x="505" y="396" width="7" height="6" fill="#c7ff38"/>
<rect x="512" y="396" width="6" height="6" fill="#38ffc7"/>
<rect x="518" y="396" width="6" height="6" fill="#e7ff18"/>
<rect x="524" y="396" width="6" height="6" fill="#ffb700"/>
<rect x="530" y="396" width="7" height="6" fill="#ffd700"/>
<rect x="537" y="396" width="6" height="6" fill="#ff7800"/>
<rect x="543" y="396" width="6" height="6" fill="#ff4800"/>
<rect x="116" y="402" width="6" height="7" fill="#08fff7"/>
<rect x="122" y="402" width="6" height="7" fill="#00d7ff"/>
<rect x="128" y="402" width="6" height="7" fill="#0087ff"/>
<rect x="134" y="402" width="7" height="7" fill="#a7ff58"/>
<rect x="141" y="402" width="6" height="7" fill="#c7ff38"/>
<rect x="147" y="402" width="13" height="7" fill="#00a7ff"/>
<rect x="160" y="402" width="6" height="7" fill="#0048ff"/>
<rect x="166" y="402" width="6" height="7" fill="#0078ff"/>
<rect x="172" y="402" width="6" height="7" fill="#0048ff"/>
<rect x="178" y="402" width="13" height="7" fill="#0078ff"/>
<rect x="191" y="402" width="6" height="7" fill="#0087ff"/>
<rect x="197" y="402" width="7" height="7" fill="#08fff7"/>
<rect x="204" y="402" width="6" height="7" fill="#0087ff"/>
<rect x="210" y="402" width="6" height="7" fill="#0078ff"/>
<rect x="216" y="402" width="6" height="7" fill="#0087ff"/>
<rect x="222" y="402" width="7" height="7" fill="#00a7ff"/>
<rect x="229" y="402" width="6" height="7" fill="#0058ff"/>
<rect x="235" y="402" width="6" height="7" fill="#00a7ff"/>
<rect x="241" y="402" width="7" height="7" fill="#08fff7"/>
<rect x="248" y="402" width="6" height="7" fill="#0078ff"/>
<rect x="254" y="402" width="6" height="7" fill="#00a7ff"/>
<rect x="260" y="402" width="6" height="7" fill="#0078ff"/>
<rect x="266" y="402" width="7" height="7" fill="#00d7ff"/>
<rect x="273" y="402" width="6" height="7" fill="#08fff7"/>
<rect x="279" y="402" width="6" height="7" fill="#00d7ff"/>
<rect x="285" y="402" width="7" height="7" fill="#00f7ff"/>
<rect x="292" y="402" width="6" height="7" fill="#00b7ff"/>
<rect x="298" y="402" width="6" height="7" fill="#38ffc7"/>
<rect x="304" y="402" width="6" height="7" fill="#00a7ff"/>
<rect x="310" y="402" width="7" height="7" fill="#00d7ff"/>
<rect x="317" y="402" width="6" height="7" fill="#00a7ff"/>
<rect x="323" y="402" width="6" height="7" fill="#0058ff"/>
<rect x="329" y="402" width="7" height="7" fill="#0078ff"/>
<rect x="336" y="402" width="6" height="7" fill="#00d7ff"/>
<rect x="342" y="402" width="6" height="7" fill="#0058ff"/>
<rect x="348" y="402" width="6" height="7" fill="#0087ff"/>
<rect x="354" y="402" width="7" height="7" fill="#0078ff"/>
<rect x="361" y="402" width="6" height="7" fill="#08fff7"/>
<rect x="367" y="402" width="6" height="7" fill="#00b7ff"/>
<rect x="373" y="402" width="13" height="7" fill="#0078ff"/>
<rect x="386" y="402" width="6" height="7" fill="#0087ff"/>
<rect x="392" y="402" width="6" height="7" fill="#00a7ff"/>
<rect x="398" y="402" width="7" height="7" fill="#0087ff"/>
<rect x="405" y="402" width="19" height="7" fill="#0078ff"/>
<rect x="424" y="402" width="6" height="7" fill="#0087ff"/>
<rect x="430" y="402" width="6" height="7" fill="#00d7ff"/>
<rect x="436" y="402" width="19" height="7" fill="#0048ff"/>
<rect x="455" y="402" width="6" height="7" fill="#0087ff"/>
<rect x="461" y="402" width="7" height="7" fill="#0078ff"/>
<rect x="468" y="402" width="6" height="7" fill="#0038ff"/>
<rect x="474" y="402" width="6" height="7" fill="#000087"/>
<rect x="480" y="402" width="6" height="7" fill="#0048ff"/>
<rect x="486" y="402" width="7" height="7" fill="#0087ff"/>
<rect x="493" y="402" width="6" height="7" fill="#58ffa7"/>
<rect x="499" y="402" width="6" height="7" fill="#78ff87"/>
<rect x="505" y="402" width="7" height="7" fill="#a7ff58"/>
<rect x="512" y="402" width="6" height="7" fill="#00f7ff"/>
<rect x="518" y="402" width="6" height="7" fill="#c7ff38"/>
<rect x="524" y="402" width="6" height="7" fill="#ffd700"/>
<rect x="530" y="402" width="7" height="7" fill="#fff700"/>
<rect x="537" y="402" width="6" height="7" fill="#ffb700"/>
<rect x="543" y="402" width="6" height="7" fill="#ff7800"/>
<rect x="116" y="409" width="6" height="6" fill="#a7ff58"/>
<rect x="122" y="409" width="6" height="6" fill="#08fff7"/>
<rect x="128" y="409" width="6" height="6" fill="#0087ff"/>
<rect x="134" y="409" width="7" height="6" fill="#e7ff18"/>
<rect x="141" y="409" width="6" height="6" fill="#fff700"/>
<rect x="147" y="409" width="6" height="6" fill="#00d7ff"/>
<rect x="153" y="409" width="7" height="6" fill="#00b7ff"/>
<rect x="160" y="409" width="6" height="6" fill="#00a7ff"/>
<rect x="166" y="409" width="6" height="6" fill="#00d7ff"/>
<rect x="172" y="409" width="6" height="6" fill="#00b7ff"/>
<rect x="178" y="409" width="19" height="6" fill="#00d7ff"/>
<rect x="197" y="409" width="7" height="6" fill="#38ffc7"/>
<rect x="204" y="409" width="6" height="6" fill="#00f7ff"/>
<rect x="210" y="409" width="12" height="6" fill="#00d7ff"/>
<rect x="222" y="409" width="7" height="6" fill="#00f7ff"/>
<rect x="229" y="409" width="6" height="6" fill="#00d7ff"/>
<rect x="235" y="409" width="6" height="6" fill="#00f7ff"/>
<rect x="241" y="409" width="7" height="6" fill="#58ffa7"/>
<rect x="248" y="409" width="6" height="6" fill="#00d7ff"/>
<rect x="254" y="409" width="6" height="6" fill="#00f7ff"/>
<rect x="260" y="409" width="6" height="6" fill="#00d7ff"/>
<rect x="266" y="409" width="7" height="6" fill="#38ffc7"/>
<rect x="273" y="409" width="6" height="6" fill="#78ff87"/>
<rect x="279" y="409" width="6" height="6" fill="#38ffc7"/>
<rect x="285" y="409" width="7" height="6" fill="#58ffa7"/>
<rect x="292" y="409" width="6" height="6" fill="#38ffc7"/>
<rect x="298" y="409" width="6" height="6" fill="#a7ff58"/>
<rect x="304" y="409" width="6" height="6" fill="#08fff7"/>
<rect x="310" y="409" width="7" height="6" fill="#38ffc7"/>
<rect x="317" y="409" width="6" height="6" fill="#00b7ff"/>
<rect x="323" y="409" width="13" height="6" fill="#00a7ff"/>
<rect x="336" y="409" width="6" height="6" fill="#00f7ff"/>
<rect x="342" y="409" width="6" height="6" fill="#00a7ff"/>
<rect x="348" y="409" width="6" height="6" fill="#00d7ff"/>
<rect x="354" y="409" width="7" height="6" fill="#00a7ff"/>
<rect x="361" y="409" width="6" height="6" fill="#78ff87"/>
<rect x="367" y="409" width="6" height="6" fill="#08fff7"/>
<rect x="373" y="409" width="7" height="6" fill="#0048ff"/>
<rect x="380" y="409" width="6" height="6" fill="#0087ff"/>
<rect x="386" y="409" width="6" height="6" fill="#0048ff"/>
<rect x="392" y="409" width="6" height="6" fill="#0087ff"/>
<rect x="398" y="409" width="7" height="6" fill="#0048ff"/>
<rect x="405" y="409" width="6" height="6" fill="#0078ff"/>
<rect x="411" y="409" width="6" height="6" fill="#0048ff"/>
<rect x="417" y="409" width="7" height="6" fill="#0087ff"/>
<rect x="424" y="409" width="6" height="6" fill="#00a7ff"/>
<rect x="430" y="409" width="6" height="6" fill="#00d7ff"/>
<rect x="436" y="409" width="13" height="6" fill="#0048ff"/>
<rect x="449" y="409" width="6" height="6" fill="#0087ff"/>
<rect x="455" y="409" width="6" height="6" fill="#00a7ff"/>
<rect x="461" y="409" width="7" height="6" fill="#0087ff"/>
<rect x="468" y="409" width="12" height="6" fill="#0048ff"/>
<rect x="480" y="409" width="6" height="6" fill="#000087"/>
<rect x="486" y="409" width="7" height="6" fill="#00b7ff"/>
<rect x="493" y="409" width="6" height="6" fill="#a7ff58"/>
<rect x="499" y="409" width="13" height="6" fill="#e7ff18"/>
<rect x="512" y="409" width="6" height="6" fill="#58ffa7"/>
<rect x="518" y="409" width="6" height="6" fill="#ffb700"/>
<rect x="524" y="409" width="6" height="6" fill="#ff4800"/>
<rect x="530" y="409" width="7" height="6" fill="#ff7800"/>
<rect x="537" y="409" width="6" height="6" fill="#ff2800"/>
<rect x="543" y="409" width="6" height="6" fill="#ff0800"/>
<rect x="116" y="415" width="6" height="6" fill="#58ffa7"/>
<rect x="122" y="415" width="6" height="6" fill="#08fff7"/>
<rect x="128" y="415" width="6" height="6" fill="#0087ff"/>
<rect x="134" y="415" width="7" height="6" fill="#c7ff38"/>
<rect x="141" y="415" width="6" height="6" fill="#e7ff18"/>
<rect x="147" y="415" width="6" height="6" fill="#0087ff"/>
<rect x="153" y="415" width="13" height="6" fill="#0048ff"/>
<rect x="166" y="415" width="19" height="6" fill="#00a7ff"/>
<rect x="185" y="415" width="6" height="6" fill="#0087ff"/>
<rect x="191" y="415" width="6" height="6" fill="#00d7ff"/>
<rect x="197" y="415" width="7" height="6" fill="#38ffc7"/>
<rect x="204" y="415" width="6" height="6" fill="#00a7ff"/>
<rect x="210" y="415" width="6" height="6" fill="#00b7ff"/>
<rect x="216" y="415" width="6" height="6" fill="#00d7ff"/>
<rect x="222" y="415" width="7" height="6" fill="#00f7ff"/>
<rect x="229" y="415" width="6" height="6" fill="#00b7ff"/>
<rect x="235" y="415" width="6" height="6" fill="#00d7ff"/>
<rect x="241" y="415" width="7" height="6" fill="#58ffa7"/>
<rect x="248" y="415" width="6" height="6" fill="#00d7ff"/>
<rect x="254" y="415" width="6" height="6" fill="#00f7ff"/>
<rect x="260" y="415" width="6" height="6" fill="#00d7ff"/>
<rect x="266" y="415" width="7" height="6" fill="#38ffc7"/>
<rect x="273" y="415" width="6" height="6" fill="#58ffa7"/>
<rect x="279" y="415" width="13" height="6" fill="#38ffc7"/>
<rect x="292" y="415" width="6" height="6" fill="#08fff7"/>
<rect x="298" y="415" width="6" height="6" fill="#78ff87"/>
<rect x="304" y="415" width="6" height="6" fill="#08fff7"/>
<rect x="310" y="415" width="7" height="6" fill="#38ffc7"/>
<rect x="317" y="415" width="6" height="6" fill="#0087ff"/>
<rect x="323" y="415" width="6" height="6" fill="#0058ff"/>
<rect x="329" y="415" width="7" height="6" fill="#0078ff"/>
<rect x="336" y="415" width="6" height="6" fill="#00a7ff"/>
<rect x="342" y="415" width="6" height="6" fill="#0078ff"/>
<rect x="348" y="415" width="13" height="6" fill="#00a7ff"/>
<rect x="361" y="415" width="6" height="6" fill="#78ff87"/>
<rect x="367" y="415" width="6" height="6" fill="#00f7ff"/>
<rect x="373" y="415" width="7" height="6" fill="#0078ff"/>
<rect x="380" y="415" width="6" height="6" fill="#0048ff"/>
<rect x="386" y="415" width="6" height="6" fill="#00a7ff"/>
<rect x="392" y="415" width="6" height="6" fill="#00b7ff"/>
<rect x="398" y="415" width="7" height="6" fill="#00a7ff"/>
<rect x="405" y="415" width="19" height="6" fill="#0048ff"/>
<rect x="424" y="415" width="6" height="6" fill="#00d7ff"/>
<rect x="430" y="415" width="6" height="6" fill="#00a7ff"/>
<rect x="436" y="415" width="6" height="6" fill="#0087ff"/>
<rect x="442" y="415" width="7" height="6" fill="#0078ff"/>
<rect x="449" y="415" width="6" height="6" fill="#0087ff"/>
<rect x="455" y="415" width="13" height="6" fill="#00a7ff"/>
<rect x="468" y="415" width="12" height="6" fill="#0087ff"/>
<rect x="480" y="415" width="6" height="6" fill="#00b7ff"/>
<rect x="486" y="415" width="7" height="6" fill="#000087"/>
<rect x="493" y="415" width="6" height="6" fill="#a7ff58"/>
<rect x="499" y="415" width="13" height="6" fill="#e7ff18"/>
<rect x="512" y="415" width="6" height="6" fill="#78ff87"/>
<rect x="518" y="415" width="6" height="6" fill="#ffd700"/>
<rect x="524" y="415" width="13" height="6" fill="#ff9700"/>
<rect x="537" y="415" width="6" height="6" fill="#ff7800"/>
<rect x="543" y="415" width="6" height="6" fill="#ff4800"/>
<rect x="116" y="421" width="6" height="7" fill="#0048ff"/>
<rect x="122" y="421" width="6" height="7" fill="#00d7ff"/>
<rect x="128" y="421" width="6" height="7" fill="#a7ff58"/>
<rect x="134" y="421" width="7" height="7" fill="#00d7ff"/>
<rect x="141" y="421" width="6" height="7" fill="#08fff7"/>
<rect x="147" y="421" width="6" height="7" fill="#38ffc7"/>
<rect x="153" y="421" width="13" height="7" fill="#78ff87"/>
<rect x="166" y="421" width="6" height="7" fill="#58ffa7"/>
<rect x="172" y="421" width="6" height="7" fill="#08fff7"/>
<rect x="178" y="421" width="7" height="7" fill="#38ffc7"/>
<rect x="185" y="421" width="6" height="7" fill="#58ffa7"/>
<rect x="191" y="421" width="13" height="7" fill="#08fff7"/>
<rect x="204" y="421" width="18" height="7" fill="#00d7ff"/>
<rect x="222" y="421" width="13" height="7" fill="#00b7ff"/>
<rect x="235" y="421" width="13" height="7" fill="#00d7ff"/>
<rect x="248" y="421" width="6" height="7" fill="#00f7ff"/>
<rect x="254" y="421" width="12" height="7" fill="#08fff7"/>
<rect x="266" y="421" width="13" height="7" fill="#00d7ff"/>
<rect x="279" y="421" width="31" height="7" fill="#00a7ff"/>
<rect x="310" y="421" width="7" height="7" fill="#0087ff"/>
<rect x="317" y="421" width="6" height="7" fill="#78ff87"/>
<rect x="323" y="421" width="6" height="7" fill="#58ffa7"/>
<rect x="329" y="421" width="7" height="7" fill="#78ff87"/>
<rect x="336" y="421" width="6" height="7" fill="#e7ff18"/>
<rect x="342" y="421" width="12" height="7" fill="#38ffc7"/>
<rect x="354" y="421" width="7" height="7" fill="#08fff7"/>
<rect x="361" y="421" width="6" height="7" fill="#00d7ff"/>
<rect x="367" y="421" width="6" height="7" fill="#0087ff"/>
<rect x="373" y="421" width="19" height="7" fill="#e7ff18"/>
<rect x="392" y="421" width="6" height="7" fill="#fff700"/>
<rect x="398" y="421" width="13" height="7" fill="#e7ff18"/>
<rect x="411" y="421" width="6" height="7" fill="#c7ff38"/>
<rect x="417" y="421" width="13" height="7" fill="#a7ff58"/>
<rect x="430" y="421" width="6" height="7" fill="#c7ff38"/>
<rect x="436" y="421" width="6" height="7" fill="#a7ff58"/>
<rect x="442" y="421" width="7" height="7" fill="#78ff87"/>
<rect x="449" y="421" width="19" height="7" fill="#58ffa7"/>
<rect x="468" y="421" width="6" height="7" fill="#78ff87"/>
<rect x="474" y="421" width="6" height="7" fill="#58ffa7"/>
<rect x="480" y="421" width="13" height="7" fill="#a7ff58"/>
<rect x="493" y="421" width="6" height="7" fill="#000087"/>
<rect x="499" y="421" width="19" height="7" fill="#0058ff"/>
<rect x="518" y="421" width="6" height="7" fill="#00a7ff"/>
<rect x="524" y="421" width="13" height="7" fill="#00d7ff"/>
<rect x="537" y="421" width="6" height="7" fill="#18ffe7"/>
<rect x="543" y="421" width="6" height="7" fill="#48ffb7"/>
<rect x="116" y="428" width="6" height="6" fill="#0048ff"/>
<rect x="122" y="428" width="6" height="6" fill="#00d7ff"/>
<rect x="128" y="428" width="6" height="6" fill="#a7ff58"/>
<rect x="134" y="428" width="7" height="6" fill="#00d7ff"/>
<rect x="141" y="428" width="6" height="6" fill="#08fff7"/>
<rect x="147" y="428" width="6" height="6" fill="#58ffa7"/>
<rect x="153" y="428" width="13" height="6" fill="#a7ff58"/>
<rect x="166" y="428" width="6" height="6" fill="#78ff87"/>
<rect x="172" y="428" width="6" height="6" fill="#38ffc7"/>
<rect x="178" y="428" width="7" height="6" fill="#58ffa7"/>
<rect x="185" y="428" width="6" height="6" fill="#a7ff58"/>
<rect x="191" y="428" width="6" height="6" fill="#58ffa7"/>
<rect x="197" y="428" width="7" height="6" fill="#78ff87"/>
<rect x="204" y="428" width="12" height="6" fill="#08fff7"/>
<rect x="216" y="428" width="13" height="6" fill="#00f7ff"/>
<rect x="229" y="428" width="6" height="6" fill="#08fff7"/>
<rect x="235" y="428" width="13" height="6" fill="#00f7ff"/>
<rect x="248" y="428" width="6" height="6" fill="#58ffa7"/>
<rect x="254" y="428" width="6" height="6" fill="#38ffc7"/>
<rect x="260" y="428" width="6" height="6" fill="#58ffa7"/>
<rect x="266" y="428" width="7" height="6" fill="#08fff7"/>
<rect x="273" y="428" width="6" height="6" fill="#38ffc7"/>
<rect x="279" y="428" width="19" height="6" fill="#00d7ff"/>
<rect x="298" y="428" width="6" height="6" fill="#00a7ff"/>
<rect x="304" y="428" width="6" height="6" fill="#00b7ff"/>
<rect x="310" y="428" width="7" height="6" fill="#00a7ff"/>
<rect x="317" y="428" width="6" height="6" fill="#e7ff18"/>
<rect x="323" y="428" width="6" height="6" fill="#a7ff58"/>
<rect x="329" y="428" width="7" height="6" fill="#c7ff38"/>
<rect x="336" y="428" width="6" height="6" fill="#ffd700"/>
<rect x="342" y="428" width="12" height="6" fill="#78ff87"/>
<rect x="354" y="428" width="7" height="6" fill="#58ffa7"/>
<rect x="361" y="428" width="6" height="6" fill="#00f7ff"/>
<rect x="367" y="428" width="6" height="6" fill="#00b7ff"/>
<rect x="373" y="428" width="7" height="6" fill="#ffd700"/>
<rect x="380" y="428" width="12" height="6" fill="#ffb700"/>
<rect x="392" y="428" width="6" height="6" fill="#ff9700"/>
<rect x="398" y="428" width="7" height="6" fill="#ffb700"/>
<rect x="405" y="428" width="6" height="6" fill="#ffd700"/>
<rect x="411" y="428" width="6" height="6" fill="#fff700"/>
<rect x="417" y="428" width="13" height="6" fill="#c7ff38"/>
<rect x="430" y="428" width="6" height="6" fill="#e7ff18"/>
<rect x="436" y="428" width="13" height="6" fill="#c7ff38"/>
<rect x="449" y="428" width="6" height="6" fill="#a7ff58"/>
<rect x="455" y="428" width="6" height="6" fill="#78ff87"/>
<rect x="461" y="428" width="13" height="6" fill="#a7ff58"/>
<rect x="474" y="428" width="6" height="6" fill="#78ff87"/>
<rect x="480" y="428" width="13" height="6" fill="#e7ff18"/>
<rect x="493" y="428" width="6" height="6" fill="#0058ff"/>
<rect x="499" y="428" width="6" height="6" fill="#000087"/>
<rect x="505" y="428" width="13" height="6" fill="#0058ff"/>
<rect x="518" y="428" width="6" height="6" fill="#0048ff"/>
<rect x="524" y="428" width="13" height="6" fill="#00a7ff"/>
<rect x="537" y="428" width="6" height="6" fill="#00d7ff"/>
<rect x="543" y="428" width="6" height="6" fill="#00f7ff"/>
<rect x="116" y="434" width="6" height="6" fill="#0048ff"/>
<rect x="122" y="434" width="6" height="6" fill="#00f7ff"/>
<rect x="128" y="434" width="6" height="6" fill="#c7ff38"/>
<rect x="134" y="434" width="7" height="6" fill="#00f7ff"/>
<rect x="141" y="434" width="6" height="6" fill="#08fff7"/>
<rect x="147" y="434" width="6" height="6" fill="#78ff87"/>
<rect x="153" y="434" width="13" height="6" fill="#c7ff38"/>
<rect x="166" y="434" width="6" height="6" fill="#a7ff58"/>
<rect x="172" y="434" width="6" height="6" fill="#58ffa7"/>
<rect x="178" y="434" width="7" height="6" fill="#78ff87"/>
<rect x="185" y="434" width="6" height="6" fill="#a7ff58"/>
<rect x="191" y="434" width="6" height="6" fill="#78ff87"/>
<rect x="197" y="434" width="7" height="6" fill="#a7ff58"/>
<rect x="204" y="434" width="18" height="6" fill="#38ffc7"/>
<rect x="222" y="434" width="13" height="6" fill="#08fff7"/>
<rect x="235" y="434" width="6" height="6" fill="#00f7ff"/>
<rect x="241" y="434" width="7" height="6" fill="#08fff7"/>
<rect x="248" y="434" width="6" height="6" fill="#78ff87"/>
<rect x="254" y="434" width="6" height="6" fill="#58ffa7"/>
<rect x="260" y="434" width="6" height="6" fill="#78ff87"/>
<rect x="266" y="434" width="7" height="6" fill="#08fff7"/>
<rect x="273" y="434" width="6" height="6" fill="#38ffc7"/>
<rect x="279" y="434" width="6" height="6" fill="#00d7ff"/>
<rect x="285" y="434" width="13" height="6" fill="#00f7ff"/>
<rect x="298" y="434" width="6" height="6" fill="#00a7ff"/>
<rect x="304" y="434" width="6" height="6" fill="#00d7ff"/>
<rect x="310" y="434" width="7" height="6" fill="#00a7ff"/>
<rect x="317" y="434" width="6" height="6" fill="#c7ff38"/>
<rect x="323" y="434" width="6" height="6" fill="#a7ff58"/>
<rect x="329" y="434" width="7" height="6" fill="#c7ff38"/>
<rect x="336" y="434" width="6" height="6" fill="#fff700"/>
<rect x="342" y="434" width="6" height="6" fill="#78ff87"/>
<rect x="348" y="434" width="13" height="6" fill="#58ffa7"/>
<rect x="361" y="434" width="6" height="6" fill="#00d7ff"/>
<rect x="367" y="434" width="6" height="6" fill="#00f7ff"/>
<rect x="373" y="434" width="7" height="6" fill="#ffb700"/>
<rect x="380" y="434" width="25" height="6" fill="#ff9700"/>
<rect x="405" y="434" width="6" height="6" fill="#ffd700"/>
<rect x="411" y="434" width="6" height="6" fill="#fff700"/>
<rect x="417" y="434" width="7" height="6" fill="#e7ff18"/>
<rect x="424" y="434" width="6" height="6" fill="#c7ff38"/>
<rect x="430" y="434" width="6" height="6" fill="#fff700"/>
<rect x="436" y="434" width="6" height="6" fill="#e7ff18"/>
<rect x="442" y="434" width="7" height="6" fill="#c7ff38"/>
<rect x="449" y="434" width="6" height="6" fill="#a7ff58"/>
<rect x="455" y="434" width="6" height="6" fill="#78ff87"/>
<rect x="461" y="434" width="7" height="6" fill="#a7ff58"/>
<rect x="468" y="434" width="6" height="6" fill="#c7ff38"/>
<rect x="474" y="434" width="6" height="6" fill="#a7ff58"/>
<rect x="480" y="434" width="13" height="6" fill="#e7ff18"/>
<rect x="493" y="434" width="12" height="6" fill="#0058ff"/>
<rect x="505" y="434" width="7" height="6" fill="#000087"/>
<rect x="512" y="434" width="6" height="6" fill="#0058ff"/>
<rect x="518" y="434" width="6" height="6" fill="#0048ff"/>
<rect x="524" y="434" width="6" height="6" fill="#0087ff"/>
<rect x="530" y="434" width="7" height="6" fill="#00a7ff"/>
<rect x="537" y="434" width="6" height="6" fill="#00e7ff"/>
<rect x="543" y="434" width="6" height="6" fill="#00f7ff"/>
<rect x="116" y="440" width="12" height="6" fill="#0048ff"/>
<rect x="128" y="440" width="6" height="6" fill="#58ffa7"/>
<rect x="134" y="440" width="13" height="6" fill="#00d7ff"/>
<rect x="147" y="440" width="6" height="6" fill="#08fff7"/>
<rect x="153" y="440" width="13" height="6" fill="#58ffa7"/>
<rect x="166" y="440" width="6" height="6" fill="#38ffc7"/>
<rect x="172" y="440" width="6" height="6" fill="#00f7ff"/>
<rect x="178" y="440" width="7" height="6" fill="#08fff7"/>
<rect x="185" y="440" width="6" height="6" fill="#38ffc7"/>
<rect x="191" y="440" width="6" height="6" fill="#08fff7"/>
<rect x="197" y="440" width="7" height="6" fill="#38ffc7"/>
<rect x="204" y="440" width="6" height="6" fill="#00d7ff"/>
<rect x="210" y="440" width="12" height="6" fill="#00b7ff"/>
<rect x="222" y="440" width="19" height="6" fill="#00a7ff"/>
<rect x="241" y="440" width="13" height="6" fill="#00b7ff"/>
<rect x="254" y="440" width="12" height="6" fill="#00f7ff"/>
<rect x="266" y="440" width="13" height="6" fill="#00d7ff"/>
<rect x="279" y="440" width="6" height="6" fill="#00a7ff"/>
<rect x="285" y="440" width="7" height="6" fill="#00b7ff"/>
<rect x="292" y="440" width="6" height="6" fill="#0087ff"/>
<rect x="298" y="440" width="6" height="6" fill="#00a7ff"/>
<rect x="304" y="440" width="13" height="6" fill="#0087ff"/>
<rect x="317" y="440" width="6" height="6" fill="#78ff87"/>
<rect x="323" y="440" width="6" height="6" fill="#38ffc7"/>
<rect x="329" y="440" width="7" height="6" fill="#58ffa7"/>
<rect x="336" y="440" width="6" height="6" fill="#c7ff38"/>
<rect x="342" y="440" width="6" height="6" fill="#38ffc7"/>
<rect x="348" y="440" width="6" height="6" fill="#08fff7"/>
<rect x="354" y="440" width="7" height="6" fill="#00f7ff"/>
<rect x="361" y="440" width="6" height="6" fill="#00d7ff"/>
<rect x="367" y="440" width="6" height="6" fill="#00a7ff"/>
<rect x="373" y="440" width="7" height="6" fill="#c7ff38"/>
<rect x="380" y="440" width="25" height="6" fill="#e7ff18"/>
<rect x="405" y="440" width="6" height="6" fill="#c7ff38"/>
<rect x="411" y="440" width="6" height="6" fill="#a7ff58"/>
<rect x="417" y="440" width="13" height="6" fill="#58ffa7"/>
<rect x="430" y="440" width="6" height="6" fill="#78ff87"/>
<rect x="436" y="440" width="6" height="6" fill="#58ffa7"/>
<rect x="442" y="440" width="7" height="6" fill="#38ffc7"/>
<rect x="449" y="440" width="19" height="6" fill="#08fff7"/>
<rect x="468" y="440" width="6" height="6" fill="#38ffc7"/>
<rect x="474" y="440" width="6" height="6" fill="#00f7ff"/>
<rect x="480" y="440" width="6" height="6" fill="#58ffa7"/>
<rect x="486" y="440" width="7" height="6" fill="#78ff87"/>
<rect x="493" y="440" width="19" height="6" fill="#0058ff"/>
<rect x="512" y="440" width="6" height="6" fill="#000087"/>
<rect x="518" y="440" width="6" height="6" fill="#00d7ff"/>
<rect x="524" y="440" width="6" height="6" fill="#00f7ff"/>
<rect x="530" y="440" width="7" height="6" fill="#08fff7"/>
<rect x="537" y="440" width="6" height="6" fill="#58ffa7"/>
<rect x="543" y="440" width="6" height="6" fill="#78ff87"/>
<rect x="116" y="446" width="6" height="7" fill="#00a7ff"/>
<rect x="122" y="446" width="6" height="7" fill="#58ffa7"/>
<rect x="128" y="446" width="6" height="7" fill="#e7ff18"/>
<rect x="134" y="446" width="7" height="7" fill="#0048ff"/>
<rect x="141" y="446" width="6" height="7" fill="#00b7ff"/>
<rect x="147" y="446" width="6" height="7" fill="#78ff87"/>
<rect x="153" y="446" width="13" height="7" fill="#c7ff38"/>
<rect x="166" y="446" width="25" height="7" fill="#a7ff58"/>
<rect x="191" y="446" width="6" height="7" fill="#78ff87"/>
<rect x="197" y="446" width="7" height="7" fill="#a7ff58"/>
<rect x="204" y="446" width="18" height="7" fill="#38ffc7"/>
<rect x="222" y="446" width="7" height="7" fill="#08fff7"/>
<rect x="229" y="446" width="6" height="7" fill="#38ffc7"/>
<rect x="235" y="446" width="6" height="7" fill="#08fff7"/>
<rect x="241" y="446" width="7" height="7" fill="#00f7ff"/>
<rect x="248" y="446" width="6" height="7" fill="#a7ff58"/>
<rect x="254" y="446" width="6" height="7" fill="#78ff87"/>
<rect x="260" y="446" width="6" height="7" fill="#a7ff58"/>
<rect x="266" y="446" width="7" height="7" fill="#38ffc7"/>
<rect x="273" y="446" width="6" height="7" fill="#78ff87"/>
<rect x="279" y="446" width="13" height="7" fill="#00d7ff"/>
<rect x="292" y="446" width="6" height="7" fill="#00f7ff"/>
<rect x="298" y="446" width="6" height="7" fill="#00b7ff"/>
<rect x="304" y="446" width="6" height="7" fill="#00f7ff"/>
<rect x="310" y="446" width="7" height="7" fill="#00b7ff"/>
<rect x="317" y="446" width="6" height="7" fill="#fff700"/>
<rect x="323" y="446" width="6" height="7" fill="#c7ff38"/>
<rect x="329" y="446" width="7" height="7" fill="#e7ff18"/>
<rect x="336" y="446" width="6" height="7" fill="#ffb700"/>
<rect x="342" y="446" width="19" height="7" fill="#a7ff58"/>
<rect x="361" y="446" width="12" height="7" fill="#08fff7"/>
<rect x="373" y="446" width="7" height="7" fill="#ff9700"/>
<rect x="380" y="446" width="6" height="7" fill="#ff7800"/>
<rect x="386" y="446" width="19" height="7" fill="#ff4800"/>
<rect x="405" y="446" width="6" height="7" fill="#ff9700"/>
<rect x="411" y="446" width="6" height="7" fill="#ffb700"/>
<rect x="417" y="446" width="7" height="7" fill="#fff700"/>
<rect x="424" y="446" width="6" height="7" fill="#e7ff18"/>
<rect x="430" y="446" width="6" height="7" fill="#ffb700"/>
<rect x="436" y="446" width="6" height="7" fill="#ffd700"/>
<rect x="442" y="446" width="7" height="7" fill="#e7ff18"/>
<rect x="449" y="446" width="19" height="7" fill="#c7ff38"/>
<rect x="468" y="446" width="6" height="7" fill="#e7ff18"/>
<rect x="474" y="446" width="6" height="7" fill="#c7ff38"/>
<rect x="480" y="446" width="6" height="7" fill="#ffb700"/>
<rect x="486" y="446" width="7" height="7" fill="#ffd700"/>
<rect x="493" y="446" width="6" height="7" fill="#00a7ff"/>
<rect x="499" y="446" width="13" height="7" fill="#0048ff"/>
<rect x="512" y="446" width="6" height="7" fill="#00d7ff"/>
<rect x="518" y="446" width="6" height="7" fill="#000087"/>
<rect x="524" y="446" width="13" height="7" fill="#0058ff"/>
<rect x="537" y="446" width="6" height="7" fill="#0048ff"/>
<rect x="543" y="446" width="6" height="7" fill="#00d7ff"/>
<rect x="116" y="453" width="6" height="6" fill="#00f7ff"/>
<rect x="122" y="453" width="6" height="6" fill="#78ff87"/>
<rect x="128" y="453" width="6" height="6" fill="#ffb700"/>
<rect x="134" y="453" width="13" height="6" fill="#00b7ff"/>
<rect x="147" y="453" width="6" height="6" fill="#c7ff38"/>
<rect x="153" y="453" width="7" height="6" fill="#ffd700"/>
<rect x="160" y="453" width="6" height="6" fill="#ffb700"/>
<rect x="166" y="453" width="6" height="6" fill="#fff700"/>
<rect x="172" y="453" width="13" height="6" fill="#e7ff18"/>
<rect x="185" y="453" width="6" height="6" fill="#ffd700"/>
<rect x="191" y="453" width="13" height="6" fill="#e7ff18"/>
<rect x="204" y="453" width="6" height="6" fill="#c7ff38"/>
<rect x="210" y="453" width="6" height="6" fill="#a7ff58"/>
<rect x="216" y="453" width="6" height="6" fill="#c7ff38"/>
<rect x="222" y="453" width="7" height="6" fill="#78ff87"/>
<rect x="229" y="453" width="6" height="6" fill="#a7ff58"/>
<rect x="235" y="453" width="13" height="6" fill="#78ff87"/>
<rect x="248" y="453" width="6" height="6" fill="#e7ff18"/>
<rect x="254" y="453" width="6" height="6" fill="#c7ff38"/>
<rect x="260" y="453" width="6" height="6" fill="#e7ff18"/>
<rect x="266" y="453" width="7" height="6" fill="#78ff87"/>
<rect x="273" y="453" width="6" height="6" fill="#a7ff58"/>
<rect x="279" y="453" width="6" height="6" fill="#58ffa7"/>
<rect x="285" y="453" width="7" height="6" fill="#38ffc7"/>
<rect x="292" y="453" width="6" height="6" fill="#58ffa7"/>
<rect x="298" y="453" width="6" height="6" fill="#00d7ff"/>
<rect x="304" y="453" width="6" height="6" fill="#58ffa7"/>
<rect x="310" y="453" width="7" height="6" fill="#38ffc7"/>
<rect x="317" y="453" width="6" height="6" fill="#ff9700"/>
<rect x="323" y="453" width="6" height="6" fill="#ffd700"/>
<rect x="329" y="453" width="7" height="6" fill="#ff9700"/>
<rect x="336" y="453" width="6" height="6" fill="#ff4800"/>
<rect x="342" y="453" width="19" height="6" fill="#e7ff18"/>
<rect x="361" y="453" width="6" height="6" fill="#58ffa7"/>
<rect x="367" y="453" width="6" height="6" fill="#78ff87"/>
<rect x="373" y="453" width="7" height="6" fill="#ff2800"/>
<rect x="380" y="453" width="25" height="6" fill="#ff0800"/>
<rect x="405" y="453" width="6" height="6" fill="#ff2800"/>
<rect x="411" y="453" width="6" height="6" fill="#ff4800"/>
<rect x="417" y="453" width="7" height="6" fill="#ff9700"/>
<rect x="424" y="453" width="6" height="6" fill="#ffb700"/>
<rect x="430" y="453" width="6" height="6" fill="#ff4800"/>
<rect x="436" y="453" width="6" height="6" fill="#ff7800"/>
<rect x="442" y="453" width="7" height="6" fill="#ffb700"/>
<rect x="449" y="453" width="19" height="6" fill="#ffd700"/>
<rect x="468" y="453" width="6" height="6" fill="#ffb700"/>
<rect x="474" y="453" width="6" height="6" fill="#ffd700"/>
<rect x="480" y="453" width="6" height="6" fill="#ff4800"/>
<rect x="486" y="453" width="7" height="6" fill="#ff9700"/>
<rect x="493" y="453" width="6" height="6" fill="#00d7ff"/>
<rect x="499" y="453" width="6" height="6" fill="#00a7ff"/>
<rect x="505" y="453" width="7" height="6" fill="#0087ff"/>
<rect x="512" y="453" width="6" height="6" fill="#00f7ff"/>
<rect x="518" y="453" width="6" height="6" fill="#0058ff"/>
<rect x="524" y="453" width="6" height="6" fill="#000087"/>
<rect x="530" y="453" width="13" height="6" fill="#0058ff"/>
<rect x="543" y="453" width="6" height="6" fill="#0048ff"/>
<rect x="116" y="459" width="6" height="6" fill="#00d7ff"/>
<rect x="122" y="459" width="6" height="6" fill="#78ff87"/>
<rect x="128" y="459" width="6" height="6" fill="#ffd700"/>
<rect x="134" y="459" width="13" height="6" fill="#00a7ff"/>
<rect x="147" y="459" width="6" height="6" fill="#a7ff58"/>
<rect x="153" y="459" width="7" height="6" fill="#fff700"/>
<rect x="160" y="459" width="6" height="6" fill="#ffd700"/>
<rect x="166" y="459" width="6" height="6" fill="#e7ff18"/>
<rect x="172" y="459" width="6" height="6" fill="#c7ff38"/>
<rect x="178" y="459" width="7" height="6" fill="#e7ff18"/>
<rect x="185" y="459" width="6" height="6" fill="#fff700"/>
<rect x="191" y="459" width="6" height="6" fill="#c7ff38"/>
<rect x="197" y="459" width="7" height="6" fill="#e7ff18"/>
<rect x="204" y="459" width="18" height="6" fill="#a7ff58"/>
<rect x="222" y="459" width="7" height="6" fill="#78ff87"/>
<rect x="229" y="459" width="6" height="6" fill="#a7ff58"/>
<rect x="235" y="459" width="13" height="6" fill="#78ff87"/>
<rect x="248" y="459" width="6" height="6" fill="#e7ff18"/>
<rect x="254" y="459" width="6" height="6" fill="#a7ff58"/>
<rect x="260" y="459" width="6" height="6" fill="#e7ff18"/>
<rect x="266" y="459" width="7" height="6" fill="#58ffa7"/>
<rect x="273" y="459" width="6" height="6" fill="#a7ff58"/>
<rect x="279" y="459" width="6" height="6" fill="#38ffc7"/>
<rect x="285" y="459" width="7" height="6" fill="#08fff7"/>
<rect x="292" y="459" width="6" height="6" fill="#58ffa7"/>
<rect x="298" y="459" width="6" height="6" fill="#00b7ff"/>
<rect x="304" y="459" width="6" height="6" fill="#58ffa7"/>
<rect x="310" y="459" width="7" height="6" fill="#38ffc7"/>
<rect x="317" y="459" width="6" height="6" fill="#ff9700"/>
<rect x="323" y="459" width="6" height="6" fill="#fff700"/>
<rect x="329" y="459" width="7" height="6" fill="#ffb700"/>
<rect x="336" y="459" width="6" height="6" fill="#ff4800"/>
<rect x="342" y="459" width="19" height="6" fill="#e7ff18"/>
<rect x="361" y="459" width="6" height="6" fill="#38ffc7"/>
<rect x="367" y="459" width="6" height="6" fill="#78ff87"/>
<rect x="373" y="459" width="7" height="6" fill="#ff4800"/>
<rect x="380" y="459" width="25" height="6" fill="#ff0800"/>
<rect x="405" y="459" width="6" height="6" fill="#ff4800"/>
<rect x="411" y="459" width="6" height="6" fill="#ff7800"/>
<rect x="417" y="459" width="7" height="6" fill="#ffb700"/>
<rect x="424" y="459" width="6" height="6" fill="#ffd700"/>
<rect x="430" y="459" width="6" height="6" fill="#ff7800"/>
<rect x="436" y="459" width="6" height="6" fill="#ff9700"/>
<rect x="442" y="459" width="7" height="6" fill="#ffb700"/>
<rect x="449" y="459" width="19" height="6" fill="#fff700"/>
<rect x="468" y="459" width="6" height="6" fill="#ffd700"/>
<rect x="474" y="459" width="6" height="6" fill="#fff700"/>
<rect x="480" y="459" width="6" height="6" fill="#ff7800"/>
<rect x="486" y="459" width="7" height="6" fill="#ff9700"/>
<rect x="493" y="459" width="6" height="6" fill="#00d7ff"/>
<rect x="499" y="459" width="13" height="6" fill="#00a7ff"/>
<rect x="512" y="459" width="6" height="6" fill="#08fff7"/>
<rect x="518" y="459" width="12" height="6" fill="#0058ff"/>
<rect x="530" y="459" width="7" height="6" fill="#000087"/>
<rect x="537" y="459" width="12" height="6" fill="#0058ff"/>
<rect x="116" y="465" width="6" height="7" fill="#08fff7"/>
<rect x="122" y="465" width="6" height="7" fill="#a7ff58"/>
<rect x="128" y="465" width="6" height="7" fill="#ff9700"/>
<rect x="134" y="465" width="13" height="7" fill="#08fff7"/>
<rect x="147" y="465" width="6" height="7" fill="#c7ff38"/>
<rect x="153" y="465" width="7" height="7" fill="#ffd700"/>
<rect x="160" y="465" width="6" height="7" fill="#ffb700"/>
<rect x="166" y="465" width="19" height="7" fill="#fff700"/>
<rect x="185" y="465" width="6" height="7" fill="#ffd700"/>
<rect x="191" y="465" width="6" height="7" fill="#fff700"/>
<rect x="197" y="465" width="7" height="7" fill="#ffd700"/>
<rect x="204" y="465" width="6" height="7" fill="#e7ff18"/>
<rect x="210" y="465" width="31" height="7" fill="#c7ff38"/>
<rect x="241" y="465" width="7" height="7" fill="#a7ff58"/>
<rect x="248" y="465" width="6" height="7" fill="#ffd700"/>
<rect x="254" y="465" width="6" height="7" fill="#e7ff18"/>
<rect x="260" y="465" width="6" height="7" fill="#fff700"/>
<rect x="266" y="465" width="7" height="7" fill="#c7ff38"/>
<rect x="273" y="465" width="6" height="7" fill="#e7ff18"/>
<rect x="279" y="465" width="19" height="7" fill="#78ff87"/>
<rect x="298" y="465" width="6" height="7" fill="#08fff7"/>
<rect x="304" y="465" width="6" height="7" fill="#78ff87"/>
<rect x="310" y="465" width="7" height="7" fill="#58ffa7"/>
<rect x="317" y="465" width="6" height="7" fill="#ff4800"/>
<rect x="323" y="465" width="6" height="7" fill="#ffb700"/>
<rect x="329" y="465" width="7" height="7" fill="#ff7800"/>
<rect x="336" y="465" width="6" height="7" fill="#ff0800"/>
<rect x="342" y="465" width="12" height="7" fill="#fff700"/>
<rect x="354" y="465" width="7" height="7" fill="#ffd700"/>
<rect x="361" y="465" width="6" height="7" fill="#78ff87"/>
<rect x="367" y="465" width="6" height="7" fill="#a7ff58"/>
<rect x="373" y="465" width="7" height="7" fill="#ff0800"/>
<rect x="380" y="465" width="6" height="7" fill="#e70000"/>
<rect x="386" y="465" width="12" height="7" fill="#c70000"/>
<rect x="398" y="465" width="7" height="7" fill="#e70000"/>
<rect x="405" y="465" width="6" height="7" fill="#ff0800"/>
<rect x="411" y="465" width="6" height="7" fill="#ff4800"/>
<rect x="417" y="465" width="7" height="7" fill="#ff7800"/>
<rect x="424" y="465" width="6" height="7" fill="#ff9700"/>
<rect x="430" y="465" width="12" height="7" fill="#ff4800"/>
<rect x="442" y="465" width="7" height="7" fill="#ff7800"/>
<rect x="449" y="465" width="19" height="7" fill="#ffb700"/>
<rect x="468" y="465" width="6" height="7" fill="#ff7800"/>
<rect x="474" y="465" width="6" height="7" fill="#ffb700"/>
<rect x="480" y="465" width="6" height="7" fill="#ff2800"/>
<rect x="486" y="465" width="7" height="7" fill="#ff7800"/>
<rect x="493" y="465" width="6" height="7" fill="#18ffe7"/>
<rect x="499" y="465" width="6" height="7" fill="#00d7ff"/>
<rect x="505" y="465" width="7" height="7" fill="#00e7ff"/>
<rect x="512" y="465" width="6" height="7" fill="#58ffa7"/>
<rect x="518" y="465" width="6" height="7" fill="#0048ff"/>
<rect x="524" y="465" width="13" height="7" fill="#0058ff"/>
<rect x="537" y="465" width="6" height="7" fill="#000087"/>
<rect x="543" y="465" width="6" height="7" fill="#0058ff"/>
<rect x="116" y="472" width="6" height="6" fill="#58ffa7"/>
<rect x="122" y="472" width="6" height="6" fill="#e7ff18"/>
<rect x="128" y="472" width="6" height="6" fill="#ff4800"/>
<rect x="134" y="472" width="7" height="6" fill="#38ffc7"/>
<rect x="141" y="472" width="6" height="6" fill="#58ffa7"/>
<rect x="147" y="472" width="6" height="6" fill="#ffd700"/>
<rect x="153" y="472" width="7" height="6" fill="#ff9700"/>
<rect x="160" y="472" width="6" height="6" fill="#ff7800"/>
<rect x="166" y="472" width="19" height="6" fill="#ffb700"/>
<rect x="185" y="472" width="6" height="6" fill="#ff9700"/>
<rect x="191" y="472" width="6" height="6" fill="#ffb700"/>
<rect x="197" y="472" width="7" height="6" fill="#ff9700"/>
<rect x="204" y="472" width="6" height="6" fill="#fff700"/>
<rect x="210" y="472" width="6" height="6" fill="#e7ff18"/>
<rect x="216" y="472" width="6" height="6" fill="#fff700"/>
<rect x="222" y="472" width="19" height="6" fill="#e7ff18"/>
<rect x="241" y="472" width="7" height="6" fill="#c7ff38"/>
<rect x="248" y="472" width="6" height="6" fill="#ff9700"/>
<rect x="254" y="472" width="6" height="6" fill="#ffd700"/>
<rect x="260" y="472" width="6" height="6" fill="#ffb700"/>
<rect x="266" y="472" width="7" height="6" fill="#e7ff18"/>
<rect x="273" y="472" width="6" height="6" fill="#ffd700"/>
<rect x="279" y="472" width="6" height="6" fill="#c7ff38"/>
<rect x="285" y="472" width="13" height="6" fill="#a7ff58"/>
<rect x="298" y="472" width="6" height="6" fill="#38ffc7"/>
<rect x="304" y="472" width="6" height="6" fill="#a7ff58"/>
<rect x="310" y="472" width="7" height="6" fill="#78ff87"/>
<rect x="317" y="472" width="6" height="6" fill="#ff2800"/>
<rect x="323" y="472" width="6" height="6" fill="#ff7800"/>
<rect x="329" y="472" width="7" height="6" fill="#ff4800"/>
<rect x="336" y="472" width="6" height="6" fill="#e70000"/>
<rect x="342" y="472" width="6" height="6" fill="#ffb700"/>
<rect x="348" y="472" width="6" height="6" fill="#ffd700"/>
<rect x="354" y="472" width="7" height="6" fill="#ffb700"/>
<rect x="361" y="472" width="6" height="6" fill="#a7ff58"/>
<rect x="367" y="472" width="6" height="6" fill="#c7ff38"/>
<rect x="373" y="472" width="13" height="6" fill="#c70000"/>
<rect x="386" y="472" width="12" height="6" fill="#870000"/>
<rect x="398" y="472" width="7" height="6" fill="#a70000"/>
<rect x="405" y="472" width="6" height="6" fill="#e70000"/>
<rect x="411" y="472" width="6" height="6" fill="#ff0800"/>
<rect x="417" y="472" width="7" height="6" fill="#ff2800"/>
<rect x="424" y="472" width="6" height="6" fill="#ff4800"/>
<rect x="430" y="472" width="12" height="6" fill="#ff0800"/>
<rect x="442" y="472" width="7" height="6" fill="#ff4800"/>
<rect x="449" y="472" width="6" height="6" fill="#ff7800"/>
<rect x="455" y="472" width="6" height="6" fill="#ff9700"/>
<rect x="461" y="472" width="7" height="6" fill="#ff7800"/>
<rect x="468" y="472" width="6" height="6" fill="#ff4800"/>
<rect x="474" y="472" width="6" height="6" fill="#ff7800"/>
<rect x="480" y="472" width="6" height="6" fill="#ff0800"/>
<rect x="486" y="472" width="7" height="6" fill="#ff4800"/>
<rect x="493" y="472" width="6" height="6" fill="#48ffb7"/>
<rect x="499" y="472" width="6" height="6" fill="#00f7ff"/>
<rect x="505" y="472" width="7" height="6" fill="#00f7ff"/>
<rect x="512" y="472" width="6" height="6" fill="#78ff87"/>
<rect x="518" y="472" width="6" height="6" fill="#00d7ff"/>
<rect x="524" y="472" width="6" height="6" fill="#0048ff"/>
<rect x="530" y="472" width="13" height="6" fill="#0058ff"/>
<rect x="543" y="472" width="6" height="6" fill="#000087"/>
</g>
<g fill="#fff" shape-rendering="crispEdges">
<path d="M125 45h1v1h1v1h1v1h-1v1h-1v1h-1v-1h-1v-1h-1v-1h1v-1h1z"/>
<path d="M294 45h1v1h1v1h1v1h-1v1h-1v1h-1v-1h-1v-1h-1v-1h1v-1h1z"/>
<path d="M301 45h1v1h1v1h1v1h-1v1h-1v1h-1v-1h-1v-1h-1v-1h1v-1h1z"/>
<path d="M313 45h1v1h1v1h1v1h-1v1h-1v1h-1v-1h-1v-1h-1v-1h1v-1h1z"/>
<path d="M370 45h1v1h1v1h1v1h-1v1h-1v1h-1v-1h-1v-1h-1v-1h1v-1h1z"/>
<path d="M495 45h1v1h1v1h1v1h-1v1h-1v1h-1v-1h-1v-1h-1v-1h1v-1h1z"/>
<path d="M502 45h1v1h1v1h1v1h-1v1h-1v1h-1v-1h-1v-1h-1v-1h1v-1h1z"/>
<path d="M508 45h1v1h1v1h1v1h-1v1h-1v1h-1v-1h-1v-1h-1v-1h1v-1h1z"/>
<path d="M514 45h1v1h1v1h1v1h-1v1h-1v1h-1v-1h-1v-1h-1v-1h1v-1h1z"/>
<path d="M118 51h1v1h1v1h1v1h-1v1h-1v1h-1v-1h-1v-1h-1v-1h1v-1h1z"/>
<path d="M370 51h1v1h1v1h1v1h-1v1h-1v1h-1v-1h-1v-1h-1v-1h1v-1h1z"/>
<path d="M514 51h1v1h1v1h1v1h-1v1h-1v1h-1v-1h-1v-1h-1v-1h1v-1h1z"/>
<path d="M156 57h1v1h1v1h1v1h-1v1h-1v1h-1v-1h-1v-1h-1v-1h1v-1h1z"/>
<path d="M445 57h1v1h1v1h1v1h-1v1h-1v1h-1v-1h-1v-1h-1v-1h1v-1h1z"/>
<path d="M143 64h1v1h1v1h1v1h-1v1h-1v1h-1v-1h-1v-1h-1v-1h1v-1h1z"/>
<path d="M282 64h1v1h1v1h1v1h-1v1h-1v1h-1v-1h-1v-1h-1v-1h1v-1h1z"/>
<path d="M301 64h1v1h1v1h1v1h-1v1h-1v1h-1v-1h-1v-1h-1v-1h1v-1h1z"/>
<path d="M521 64h1v1h1v1h1v1h-1v1h-1v1h-1v-1h-1v-1h-1v-1h1v-1h1z"/>
<path d="M533 64h1v1h1v1h1v1h-1v1h-1v1h-1v-1h-1v-1h-1v-1h1v-1h1z"/>
<path d="M137 70h1v1h1v1h1v1h-1v1h-1v1h-1v-1h-1v-1h-1v-1h1v-1h1z"/>
<path d="M533 70h1v1h1v1h1v1h-1v1h-1v1h-1v-1h-1v-1h-1v-1h1v-1h1z"/>
<path d="M156 76h1v1h1v1h1v1h-1v1h-1v1h-1v-1h-1v-1h-1v-1h1v-1h1z"/>
<path d="M162 76h1v1h1v1h1v1h-1v1h-1v1h-1v-1h-1v-1h-1v-1h1v-1h1z"/>
<path d="M206 76h1v1h1v1h1v1h-1v1h-1v1h-1v-1h-1v-1h-1v-1h1v-1h1z"/>
<path d="M219 76h1v1h1v1h1v1h-1v1h-1v1h-1v-1h-1v-1h-1v-1h1v-1h1z"/>
<path d="M294 76h1v1h1v1h1v1h-1v1h-1v1h-1v-1h-1v-1h-1v-1h1v-1h1z"/>
<path d="M131 83h1v1h1v1h1v1h-1v1h-1v1h-1v-1h-1v-1h-1v-1h1v-1h1z"/>
<path d="M150 83h1v1h1v1h1v1h-1v1h-1v1h-1v-1h-1v-1h-1v-1h1v-1h1z"/>
<path d="M162 83h1v1h1v1h1v1h-1v1h-1v1h-1v-1h-1v-1h-1v-1h1v-1h1z"/>
<path d="M263 83h1v1h1v1h1v1h-1v1h-1v1h-1v-1h-1v-1h-1v-1h1v-1h1z"/>
<path d="M420 83h1v1h1v1h1v1h-1v1h-1v1h-1v-1h-1v-1h-1v-1h1v-1h1z"/>
<path d="M489 83h1v1h1v1h1v1h-1v1h-1v1h-1v-1h-1v-1h-1v-1h1v-1h1z"/>
<path d="M150 89h1v1h1v1h1v1h-1v1h-1v1h-1v-1h-1v-1h-1v-1h1v-1h1z"/>
<path d="M156 89h1v1h1v1h1v1h-1v1h-1v1h-1v-1h-1v-1h-1v-1h1v-1h1z"/>
<path d="M326 89h1v1h1v1h1v1h-1v1h-1v1h-1v-1h-1v-1h-1v-1h1v-1h1z"/>
<path d="M332 89h1v1h1v1h1v1h-1v1h-1v1h-1v-1h-1v-1h-1v-1h1v-1h1z"/>
<path d="M420 89h1v1h1v1h1v1h-1v1h-1v1h-1v-1h-1v-1h-1v-1h1v-1h1z"/>
<path d="M451 89h1v1h1v1h1v1h-1v1h-1v1h-1v-1h-1v-1h-1v-1h1v-1h1z"/>
<path d="M464 89h1v1h1v1h1v1h-1v1h-1v1h-1v-1h-1v-1h-1v-1h1v-1h1z"/>
<path d="M477 89h1v1h1v1h1v1h-1v1h-1v1h-1v-1h-1v-1h-1v-1h1v-1h1z"/>
<path d="M489 89h1v1h1v1h1v1h-1v1h-1v1h-1v-1h-1v-1h-1v-1h1v-1h1z"/>
<path d="M175 95h1v1h1v1h1v1h-1v1h-1v1h-1v-1h-1v-1h-1v-1h1v-1h1z"/>
<path d="M194 95h1v1h1v1h1v1h-1v1h-1v1h-1v-1h-1v-1h-1v-1h1v-1h1z"/>
<path d="M426 95h1v1h1v1h1v1h-1v1h-1v1h-1v-1h-1v-1h-1v-1h1v-1h1z"/>
<path d="M451 95h1v1h1v1h1v1h-1v1h-1v1h-1v-1h-1v-1h-1v-1h1v-1h1z"/>
<path d="M464 95h1v1h1v1h1v1h-1v1h-1v1h-1v-1h-1v-1h-1v-1h1v-1h1z"/>
<path d="M169 101h1v1h1v1h1v1h-1v1h-1v1h-1v-1h-1v-1h-1v-1h1v-1h1z"/>
<path d="M181 101h1v1h1v1h1v1h-1v1h-1v1h-1v-1h-1v-1h-1v-1h1v-1h1z"/>
<path d="M194 101h1v1h1v1h1v1h-1v1h-1v1h-1v-1h-1v-1h-1v-1h1v-1h1z"/>
<path d="M213 101h1v1h1v1h1v1h-1v1h-1v1h-1v-1h-1v-1h-1v-1h1v-1h1z"/>
<path d="M231 101h1v1h1v1h1v1h-1v1h-1v1h-1v-1h-1v-1h-1v-1h1v-1h1z"/>
<path d="M263 101h1v1h1v1h1v1h-1v1h-1v1h-1v-1h-1v-1h-1v-1h1v-1h1z"/>
<path d="M326 101h1v1h1v1h1v1h-1v1h-1v1h-1v-1h-1v-1h-1v-1h1v-1h1z"/>
<path d="M345 101h1v1h1v1h1v1h-1v1h-1v1h-1v-1h-1v-1h-1v-1h1v-1h1z"/>
<path d="M357 101h1v1h1v1h1v1h-1v1h-1v1h-1v-1h-1v-1h-1v-1h1v-1h1z"/>
<path d="M451 101h1v1h1v1h1v1h-1v1h-1v1h-1v-1h-1v-1h-1v-1h1v-1h1z"/>
<path d="M477 101h1v1h1v1h1v1h-1v1h-1v1h-1v-1h-1v-1h-1v-1h1v-1h1z"/>
<path d="M175 108h1v1h1v1h1v1h-1v1h-1v1h-1v-1h-1v-1h-1v-1h1v-1h1z"/>
<path d="M187 108h1v1h1v1h1v1h-1v1h-1v1h-1v-1h-1v-1h-1v-1h1v-1h1z"/>
<path d="M194 108h1v1h1v1h1v1h-1v1h-1v1h-1v-1h-1v-1h-1v-1h1v-1h1z"/>
<path d="M238 108h1v1h1v1h1v1h-1v1h-1v1h-1v-1h-1v-1h-1v-1h1v-1h1z"/>
<path d="M263 108h1v1h1v1h1v1h-1v1h-1v1h-1v-1h-1v-1h-1v-1h1v-1h1z"/>
<path d="M326 108h1v1h1v1h1v1h-1v1h-1v1h-1v-1h-1v-1h-1v-1h1v-1h1z"/>
<path d="M345 108h1v1h1v1h1v1h-1v1h-1v1h-1v-1h-1v-1h-1v-1h1v-1h1z"/>
<path d="M351 108h1v1h1v1h1v1h-1v1h-1v1h-1v-1h-1v-1h-1v-1h1v-1h1z"/>
<path d="M357 108h1v1h1v1h1v1h-1v1h-1v1h-1v-1h-1v-1h-1v-1h1v-1h1z"/>
<path d="M181 114h1v1h1v1h1v1h-1v1h-1v1h-1v-1h-1v-1h-1v-1h1v-1h1z"/>
<path d="M194 114h1v1h1v1h1v1h-1v1h-1v1h-1v-1h-1v-1h-1v-1h1v-1h1z"/>
<path d="M319 114h1v1h1v1h1v1h-1v1h-1v1h-1v-1h-1v-1h-1v-1h1v-1h1z"/>
<path d="M357 114h1v1h1v1h1v1h-1v1h-1v1h-1v-1h-1v-1h-1v-1h1v-1h1z"/>
<path d="M464 114h1v1h1v1h1v1h-1v1h-1v1h-1v-1h-1v-1h-1v-1h1v-1h1z"/>
<path d="M169 120h1v1h1v1h1v1h-1v1h-1v1h-1v-1h-1v-1h-1v-1h1v-1h1z"/>
<path d="M175 120h1v1h1v1h1v1h-1v1h-1v1h-1v-1h-1v-1h-1v-1h1v-1h1z"/>
<path d="M181 120h1v1h1v1h1v1h-1v1h-1v1h-1v-1h-1v-1h-1v-1h1v-1h1z"/>
<path d="M187 120h1v1h1v1h1v1h-1v1h-1v1h-1v-1h-1v-1h-1v-1h1v-1h1z"/>
<path d="M219 120h1v1h1v1h1v1h-1v1h-1v1h-1v-1h-1v-1h-1v-1h1v-1h1z"/>
<path d="M238 120h1v1h1v1h1v1h-1v1h-1v1h-1v-1h-1v-1h-1v-1h1v-1h1z"/>
<path d="M345 120h1v1h1v1h1v1h-1v1h-1v1h-1v-1h-1v-1h-1v-1h1v-1h1z"/>
<path d="M426 120h1v1h1v1h1v1h-1v1h-1v1h-1v-1h-1v-1h-1v-1h1v-1h1z"/>
<path d="M206 127h1v1h1v1h1v1h-1v1h-1v1h-1v-1h-1v-1h-1v-1h1v-1h1z"/>
<path d="M150 133h1v1h1v1h1v1h-1v1h-1v1h-1v-1h-1v-1h-1v-1h1v-1h1z"/>
<path d="M200 133h1v1h1v1h1v1h-1v1h-1v1h-1v-1h-1v-1h-1v-1h1v-1h1z"/>
<path d="M213 133h1v1h1v1h1v1h-1v1h-1v1h-1v-1h-1v-1h-1v-1h1v-1h1z"/>
<path d="M219 133h1v1h1v1h1v1h-1v1h-1v1h-1v-1h-1v-1h-1v-1h1v-1h1z"/>
<path d="M231 133h1v1h1v1h1v1h-1v1h-1v1h-1v-1h-1v-1h-1v-1h1v-1h1z"/>
<path d="M263 133h1v1h1v1h1v1h-1v1h-1v1h-1v-1h-1v-1h-1v-1h1v-1h1z"/>
<path d="M269 133h1v1h1v1h1v1h-1v1h-1v1h-1v-1h-1v-1h-1v-1h1v-1h1z"/>
<path d="M282 133h1v1h1v1h1v1h-1v1h-1v1h-1v-1h-1v-1h-1v-1h1v-1h1z"/>
<path d="M313 133h1v1h1v1h1v1h-1v1h-1v1h-1v-1h-1v-1h-1v-1h1v-1h1z"/>
<path d="M175 139h1v1h1v1h1v1h-1v1h-1v1h-1v-1h-1v-1h-1v-1h1v-1h1z"/>
<path d="M206 139h1v1h1v1h1v1h-1v1h-1v1h-1v-1h-1v-1h-1v-1h1v-1h1z"/>
<path d="M219 139h1v1h1v1h1v1h-1v1h-1v1h-1v-1h-1v-1h-1v-1h1v-1h1z"/>
<path d="M231 139h1v1h1v1h1v1h-1v1h-1v1h-1v-1h-1v-1h-1v-1h1v-1h1z"/>
<path d="M238 139h1v1h1v1h1v1h-1v1h-1v1h-1v-1h-1v-1h-1v-1h1v-1h1z"/>
<path d="M263 139h1v1h1v1h1v1h-1v1h-1v1h-1v-1h-1v-1h-1v-1h1v-1h1z"/>
<path d="M307 139h1v1h1v1h1v1h-1v1h-1v1h-1v-1h-1v-1h-1v-1h1v-1h1z"/>
<path d="M313 139h1v1h1v1h1v1h-1v1h-1v1h-1v-1h-1v-1h-1v-1h1v-1h1z"/>
<path d="M326 139h1v1h1v1h1v1h-1v1h-1v1h-1v-1h-1v-1h-1v-1h1v-1h1z"/>
<path d="M345 139h1v1h1v1h1v1h-1v1h-1v1h-1v-1h-1v-1h-1v-1h1v-1h1z"/>
<path d="M357 139h1v1h1v1h1v1h-1v1h-1v1h-1v-1h-1v-1h-1v-1h1v-1h1z"/>
<path d="M150 145h1v1h1v1h1v1h-1v1h-1v1h-1v-1h-1v-1h-1v-1h1v-1h1z"/>
<path d="M194 145h1v1h1v1h1v1h-1v1h-1v1h-1v-1h-1v-1h-1v-1h1v-1h1z"/>
<path d="M206 145h1v1h1v1h1v1h-1v1h-1v1h-1v-1h-1v-1h-1v-1h1v-1h1z"/>
<path d="M213 145h1v1h1v1h1v1h-1v1h-1v1h-1v-1h-1v-1h-1v-1h1v-1h1z"/>
<path d="M225 145h1v1h1v1h1v1h-1v1h-1v1h-1v-1h-1v-1h-1v-1h1v-1h1z"/>
<path d="M231 145h1v1h1v1h1v1h-1v1h-1v1h-1v-1h-1v-1h-1v-1h1v-1h1z"/>
<path d="M307 145h1v1h1v1h1v1h-1v1h-1v1h-1v-1h-1v-1h-1v-1h1v-1h1z"/>
<path d="M219 152h1v1h1v1h1v1h-1v1h-1v1h-1v-1h-1v-1h-1v-1h1v-1h1z"/>
<path d="M231 152h1v1h1v1h1v1h-1v1h-1v1h-1v-1h-1v-1h-1v-1h1v-1h1z"/>
<path d="M238 152h1v1h1v1h1v1h-1v1h-1v1h-1v-1h-1v-1h-1v-1h1v-1h1z"/>
<path d="M244 152h1v1h1v1h1v1h-1v1h-1v1h-1v-1h-1v-1h-1v-1h1v-1h1z"/>
<path d="M307 152h1v1h1v1h1v1h-1v1h-1v1h-1v-1h-1v-1h-1v-1h1v-1h1z"/>
<path d="M313 152h1v1h1v1h1v1h-1v1h-1v1h-1v-1h-1v-1h-1v-1h1v-1h1z"/>
<path d="M351 152h1v1h1v1h1v1h-1v1h-1v1h-1v-1h-1v-1h-1v-1h1v-1h1z"/>
<path d="M175 158h1v1h1v1h1v1h-1v1h-1v1h-1v-1h-1v-1h-1v-1h1v-1h1z"/>
<path d="M206 158h1v1h1v1h1v1h-1v1h-1v1h-1v-1h-1v-1h-1v-1h1v-1h1z"/>
<path d="M213 158h1v1h1v1h1v1h-1v1h-1v1h-1v-1h-1v-1h-1v-1h1v-1h1z"/>
<path d="M219 158h1v1h1v1h1v1h-1v1h-1v1h-1v-1h-1v-1h-1v-1h1v-1h1z"/>
<path d="M225 158h1v1h1v1h1v1h-1v1h-1v1h-1v-1h-1v-1h-1v-1h1v-1h1z"/>
<path d="M238 158h1v1h1v1h1v1h-1v1h-1v1h-1v-1h-1v-1h-1v-1h1v-1h1z"/>
<path d="M250 158h1v1h1v1h1v1h-1v1h-1v1h-1v-1h-1v-1h-1v-1h1v-1h1z"/>
<path d="M263 158h1v1h1v1h1v1h-1v1h-1v1h-1v-1h-1v-1h-1v-1h1v-1h1z"/>
<path d="M307 158h1v1h1v1h1v1h-1v1h-1v1h-1v-1h-1v-1h-1v-1h1v-1h1z"/>
<path d="M345 158h1v1h1v1h1v1h-1v1h-1v1h-1v-1h-1v-1h-1v-1h1v-1h1z"/>
<path d="M351 158h1v1h1v1h1v1h-1v1h-1v1h-1v-1h-1v-1h-1v-1h1v-1h1z"/>
<path d="M181 164h1v1h1v1h1v1h-1v1h-1v1h-1v-1h-1v-1h-1v-1h1v-1h1z"/>
<path d="M194 164h1v1h1v1h1v1h-1v1h-1v1h-1v-1h-1v-1h-1v-1h1v-1h1z"/>
<path d="M213 164h1v1h1v1h1v1h-1v1h-1v1h-1v-1h-1v-1h-1v-1h1v-1h1z"/>
<path d="M225 164h1v1h1v1h1v1h-1v1h-1v1h-1v-1h-1v-1h-1v-1h1v-1h1z"/>
<path d="M231 164h1v1h1v1h1v1h-1v1h-1v1h-1v-1h-1v-1h-1v-1h1v-1h1z"/>
<path d="M263 164h1v1h1v1h1v1h-1v1h-1v1h-1v-1h-1v-1h-1v-1h1v-1h1z"/>
<path d="M275 164h1v1h1v1h1v1h-1v1h-1v1h-1v-1h-1v-1h-1v-1h1v-1h1z"/>
<path d="M282 164h1v1h1v1h1v1h-1v1h-1v1h-1v-1h-1v-1h-1v-1h1v-1h1z"/>
<path d="M307 164h1v1h1v1h1v1h-1v1h-1v1h-1v-1h-1v-1h-1v-1h1v-1h1z"/>
<path d="M313 164h1v1h1v1h1v1h-1v1h-1v1h-1v-1h-1v-1h-1v-1h1v-1h1z"/>
<path d="M351 164h1v1h1v1h1v1h-1v1h-1v1h-1v-1h-1v-1h-1v-1h1v-1h1z"/>
<path d="M225 171h1v1h1v1h1v1h-1v1h-1v1h-1v-1h-1v-1h-1v-1h1v-1h1z"/>
<path d="M282 171h1v1h1v1h1v1h-1v1h-1v1h-1v-1h-1v-1h-1v-1h1v-1h1z"/>
<path d="M231 177h1v1h1v1h1v1h-1v1h-1v1h-1v-1h-1v-1h-1v-1h1v-1h1z"/>
<path d="M294 177h1v1h1v1h1v1h-1v1h-1v1h-1v-1h-1v-1h-1v-1h1v-1h1z"/>
<path d="M464 177h1v1h1v1h1v1h-1v1h-1v1h-1v-1h-1v-1h-1v-1h1v-1h1z"/>
<path d="M263 183h1v1h1v1h1v1h-1v1h-1v1h-1v-1h-1v-1h-1v-1h1v-1h1z"/>
<path d="M156 189h1v1h1v1h1v1h-1v1h-1v1h-1v-1h-1v-1h-1v-1h1v-1h1z"/>
<path d="M175 189h1v1h1v1h1v1h-1v1h-1v1h-1v-1h-1v-1h-1v-1h1v-1h1z"/>
<path d="M181 189h1v1h1v1h1v1h-1v1h-1v1h-1v-1h-1v-1h-1v-1h1v-1h1z"/>
<path d="M206 189h1v1h1v1h1v1h-1v1h-1v1h-1v-1h-1v-1h-1v-1h1v-1h1z"/>
<path d="M213 189h1v1h1v1h1v1h-1v1h-1v1h-1v-1h-1v-1h-1v-1h1v-1h1z"/>
<path d="M231 189h1v1h1v1h1v1h-1v1h-1v1h-1v-1h-1v-1h-1v-1h1v-1h1z"/>
<path d="M238 189h1v1h1v1h1v1h-1v1h-1v1h-1v-1h-1v-1h-1v-1h1v-1h1z"/>
<path d="M257 189h1v1h1v1h1v1h-1v1h-1v1h-1v-1h-1v-1h-1v-1h1v-1h1z"/>
<path d="M326 189h1v1h1v1h1v1h-1v1h-1v1h-1v-1h-1v-1h-1v-1h1v-1h1z"/>
<path d="M345 189h1v1h1v1h1v1h-1v1h-1v1h-1v-1h-1v-1h-1v-1h1v-1h1z"/>
<path d="M351 189h1v1h1v1h1v1h-1v1h-1v1h-1v-1h-1v-1h-1v-1h1v-1h1z"/>
<path d="M357 189h1v1h1v1h1v1h-1v1h-1v1h-1v-1h-1v-1h-1v-1h1v-1h1z"/>
<path d="M206 196h1v1h1v1h1v1h-1v1h-1v1h-1v-1h-1v-1h-1v-1h1v-1h1z"/>
<path d="M275 196h1v1h1v1h1v1h-1v1h-1v1h-1v-1h-1v-1h-1v-1h1v-1h1z"/>
<path d="M288 196h1v1h1v1h1v1h-1v1h-1v1h-1v-1h-1v-1h-1v-1h1v-1h1z"/>
<path d="M238 202h1v1h1v1h1v1h-1v1h-1v1h-1v-1h-1v-1h-1v-1h1v-1h1z"/>
<path d="M269 202h1v1h1v1h1v1h-1v1h-1v1h-1v-1h-1v-1h-1v-1h1v-1h1z"/>
<path d="M288 202h1v1h1v1h1v1h-1v1h-1v1h-1v-1h-1v-1h-1v-1h1v-1h1z"/>
<path d="M137 208h1v1h1v1h1v1h-1v1h-1v1h-1v-1h-1v-1h-1v-1h1v-1h1z"/>
<path d="M206 208h1v1h1v1h1v1h-1v1h-1v1h-1v-1h-1v-1h-1v-1h1v-1h1z"/>
<path d="M238 208h1v1h1v1h1v1h-1v1h-1v1h-1v-1h-1v-1h-1v-1h1v-1h1z"/>
<path d="M244 208h1v1h1v1h1v1h-1v1h-1v1h-1v-1h-1v-1h-1v-1h1v-1h1z"/>
<path d="M288 208h1v1h1v1h1v1h-1v1h-1v1h-1v-1h-1v-1h-1v-1h1v-1h1z"/>
<path d="M294 208h1v1h1v1h1v1h-1v1h-1v1h-1v-1h-1v-1h-1v-1h1v-1h1z"/>
<path d="M307 208h1v1h1v1h1v1h-1v1h-1v1h-1v-1h-1v-1h-1v-1h1v-1h1z"/>
<path d="M313 208h1v1h1v1h1v1h-1v1h-1v1h-1v-1h-1v-1h-1v-1h1v-1h1z"/>
<path d="M269 215h1v1h1v1h1v1h-1v1h-1v1h-1v-1h-1v-1h-1v-1h1v-1h1z"/>
<path d="M275 215h1v1h1v1h1v1h-1v1h-1v1h-1v-1h-1v-1h-1v-1h1v-1h1z"/>
<path d="M282 215h1v1h1v1h1v1h-1v1h-1v1h-1v-1h-1v-1h-1v-1h1v-1h1z"/>
<path d="M313 215h1v1h1v1h1v1h-1v1h-1v1h-1v-1h-1v-1h-1v-1h1v-1h1z"/>
<path d="M495 215h1v1h1v1h1v1h-1v1h-1v1h-1v-1h-1v-1h-1v-1h1v-1h1z"/>
<path d="M118 221h1v1h1v1h1v1h-1v1h-1v1h-1v-1h-1v-1h-1v-1h1v-1h1z"/>
<path d="M150 221h1v1h1v1h1v1h-1v1h-1v1h-1v-1h-1v-1h-1v-1h1v-1h1z"/>
<path d="M250 221h1v1h1v1h1v1h-1v1h-1v1h-1v-1h-1v-1h-1v-1h1v-1h1z"/>
<path d="M282 221h1v1h1v1h1v1h-1v1h-1v1h-1v-1h-1v-1h-1v-1h1v-1h1z"/>
<path d="M307 221h1v1h1v1h1v1h-1v1h-1v1h-1v-1h-1v-1h-1v-1h1v-1h1z"/>
<path d="M313 221h1v1h1v1h1v1h-1v1h-1v1h-1v-1h-1v-1h-1v-1h1v-1h1z"/>
<path d="M370 221h1v1h1v1h1v1h-1v1h-1v1h-1v-1h-1v-1h-1v-1h1v-1h1z"/>
<path d="M514 221h1v1h1v1h1v1h-1v1h-1v1h-1v-1h-1v-1h-1v-1h1v-1h1z"/>
<path d="M118 227h1v1h1v1h1v1h-1v1h-1v1h-1v-1h-1v-1h-1v-1h1v-1h1z"/>
<path d="M137 227h1v1h1v1h1v1h-1v1h-1v1h-1v-1h-1v-1h-1v-1h1v-1h1z"/>
<path d="M307 227h1v1h1v1h1v1h-1v1h-1v1h-1v-1h-1v-1h-1v-1h1v-1h1z"/>
<path d="M313 227h1v1h1v1h1v1h-1v1h-1v1h-1v-1h-1v-1h-1v-1h1v-1h1z"/>
<path d="M363 227h1v1h1v1h1v1h-1v1h-1v1h-1v-1h-1v-1h-1v-1h1v-1h1z"/>
<path d="M521 227h1v1h1v1h1v1h-1v1h-1v1h-1v-1h-1v-1h-1v-1h1v-1h1z"/>
<path d="M213 233h1v1h1v1h1v1h-1v1h-1v1h-1v-1h-1v-1h-1v-1h1v-1h1z"/>
<path d="M219 233h1v1h1v1h1v1h-1v1h-1v1h-1v-1h-1v-1h-1v-1h1v-1h1z"/>
<path d="M225 233h1v1h1v1h1v1h-1v1h-1v1h-1v-1h-1v-1h-1v-1h1v-1h1z"/>
<path d="M231 233h1v1h1v1h1v1h-1v1h-1v1h-1v-1h-1v-1h-1v-1h1v-1h1z"/>
<path d="M238 233h1v1h1v1h1v1h-1v1h-1v1h-1v-1h-1v-1h-1v-1h1v-1h1z"/>
<path d="M282 233h1v1h1v1h1v1h-1v1h-1v1h-1v-1h-1v-1h-1v-1h1v-1h1z"/>
<path d="M294 233h1v1h1v1h1v1h-1v1h-1v1h-1v-1h-1v-1h-1v-1h1v-1h1z"/>
<path d="M301 233h1v1h1v1h1v1h-1v1h-1v1h-1v-1h-1v-1h-1v-1h1v-1h1z"/>
<path d="M313 233h1v1h1v1h1v1h-1v1h-1v1h-1v-1h-1v-1h-1v-1h1v-1h1z"/>
<path d="M357 233h1v1h1v1h1v1h-1v1h-1v1h-1v-1h-1v-1h-1v-1h1v-1h1z"/>
<path d="M370 233h1v1h1v1h1v1h-1v1h-1v1h-1v-1h-1v-1h-1v-1h1v-1h1z"/>
<path d="M118 240h1v1h1v1h1v1h-1v1h-1v1h-1v-1h-1v-1h-1v-1h1v-1h1z"/>
<path d="M206 240h1v1h1v1h1v1h-1v1h-1v1h-1v-1h-1v-1h-1v-1h1v-1h1z"/>
<path d="M213 240h1v1h1v1h1v1h-1v1h-1v1h-1v-1h-1v-1h-1v-1h1v-1h1z"/>
<path d="M225 240h1v1h1v1h1v1h-1v1h-1v1h-1v-1h-1v-1h-1v-1h1v-1h1z"/>
<path d="M238 240h1v1h1v1h1v1h-1v1h-1v1h-1v-1h-1v-1h-1v-1h1v-1h1z"/>
<path d="M282 240h1v1h1v1h1v1h-1v1h-1v1h-1v-1h-1v-1h-1v-1h1v-1h1z"/>
<path d="M288 240h1v1h1v1h1v1h-1v1h-1v1h-1v-1h-1v-1h-1v-1h1v-1h1z"/>
<path d="M294 240h1v1h1v1h1v1h-1v1h-1v1h-1v-1h-1v-1h-1v-1h1v-1h1z"/>
<path d="M301 240h1v1h1v1h1v1h-1v1h-1v1h-1v-1h-1v-1h-1v-1h1v-1h1z"/>
<path d="M307 240h1v1h1v1h1v1h-1v1h-1v1h-1v-1h-1v-1h-1v-1h1v-1h1z"/>
<path d="M187 246h1v1h1v1h1v1h-1v1h-1v1h-1v-1h-1v-1h-1v-1h1v-1h1z"/>
<path d="M326 246h1v1h1v1h1v1h-1v1h-1v1h-1v-1h-1v-1h-1v-1h1v-1h1z"/>
<path d="M332 246h1v1h1v1h1v1h-1v1h-1v1h-1v-1h-1v-1h-1v-1h1v-1h1z"/>
<path d="M338 246h1v1h1v1h1v1h-1v1h-1v1h-1v-1h-1v-1h-1v-1h1v-1h1z"/>
<path d="M345 246h1v1h1v1h1v1h-1v1h-1v1h-1v-1h-1v-1h-1v-1h1v-1h1z"/>
<path d="M351 246h1v1h1v1h1v1h-1v1h-1v1h-1v-1h-1v-1h-1v-1h1v-1h1z"/>
<path d="M414 246h1v1h1v1h1v1h-1v1h-1v1h-1v-1h-1v-1h-1v-1h1v-1h1z"/>
<path d="M162 252h1v1h1v1h1v1h-1v1h-1v1h-1v-1h-1v-1h-1v-1h1v-1h1z"/>
<path d="M175 252h1v1h1v1h1v1h-1v1h-1v1h-1v-1h-1v-1h-1v-1h1v-1h1z"/>
<path d="M181 252h1v1h1v1h1v1h-1v1h-1v1h-1v-1h-1v-1h-1v-1h1v-1h1z"/>
<path d="M213 252h1v1h1v1h1v1h-1v1h-1v1h-1v-1h-1v-1h-1v-1h1v-1h1z"/>
<path d="M263 252h1v1h1v1h1v1h-1v1h-1v1h-1v-1h-1v-1h-1v-1h1v-1h1z"/>
<path d="M319 252h1v1h1v1h1v1h-1v1h-1v1h-1v-1h-1v-1h-1v-1h1v-1h1z"/>
<path d="M332 252h1v1h1v1h1v1h-1v1h-1v1h-1v-1h-1v-1h-1v-1h1v-1h1z"/>
<path d="M345 252h1v1h1v1h1v1h-1v1h-1v1h-1v-1h-1v-1h-1v-1h1v-1h1z"/>
<path d="M351 252h1v1h1v1h1v1h-1v1h-1v1h-1v-1h-1v-1h-1v-1h1v-1h1z"/>
<path d="M357 252h1v1h1v1h1v1h-1v1h-1v1h-1v-1h-1v-1h-1v-1h1v-1h1z"/>
<path d="M162 259h1v1h1v1h1v1h-1v1h-1v1h-1v-1h-1v-1h-1v-1h1v-1h1z"/>
<path d="M319 259h1v1h1v1h1v1h-1v1h-1v1h-1v-1h-1v-1h-1v-1h1v-1h1z"/>
<path d="M326 259h1v1h1v1h1v1h-1v1h-1v1h-1v-1h-1v-1h-1v-1h1v-1h1z"/>
<path d="M338 259h1v1h1v1h1v1h-1v1h-1v1h-1v-1h-1v-1h-1v-1h1v-1h1z"/>
<path d="M345 259h1v1h1v1h1v1h-1v1h-1v1h-1v-1h-1v-1h-1v-1h1v-1h1z"/>
<path d="M351 259h1v1h1v1h1v1h-1v1h-1v1h-1v-1h-1v-1h-1v-1h1v-1h1z"/>
<path d="M407 259h1v1h1v1h1v1h-1v1h-1v1h-1v-1h-1v-1h-1v-1h1v-1h1z"/>
<path d="M464 259h1v1h1v1h1v1h-1v1h-1v1h-1v-1h-1v-1h-1v-1h1v-1h1z"/>
<path d="M319 265h1v1h1v1h1v1h-1v1h-1v1h-1v-1h-1v-1h-1v-1h1v-1h1z"/>
<path d="M332 265h1v1h1v1h1v1h-1v1h-1v1h-1v-1h-1v-1h-1v-1h1v-1h1z"/>
<path d="M382 265h1v1h1v1h1v1h-1v1h-1v1h-1v-1h-1v-1h-1v-1h1v-1h1z"/>
<path d="M401 265h1v1h1v1h1v1h-1v1h-1v1h-1v-1h-1v-1h-1v-1h1v-1h1z"/>
<path d="M175 271h1v1h1v1h1v1h-1v1h-1v1h-1v-1h-1v-1h-1v-1h1v-1h1z"/>
<path d="M181 271h1v1h1v1h1v1h-1v1h-1v1h-1v-1h-1v-1h-1v-1h1v-1h1z"/>
<path d="M194 271h1v1h1v1h1v1h-1v1h-1v1h-1v-1h-1v-1h-1v-1h1v-1h1z"/>
<path d="M213 271h1v1h1v1h1v1h-1v1h-1v1h-1v-1h-1v-1h-1v-1h1v-1h1z"/>
<path d="M231 271h1v1h1v1h1v1h-1v1h-1v1h-1v-1h-1v-1h-1v-1h1v-1h1z"/>
<path d="M263 271h1v1h1v1h1v1h-1v1h-1v1h-1v-1h-1v-1h-1v-1h1v-1h1z"/>
<path d="M319 271h1v1h1v1h1v1h-1v1h-1v1h-1v-1h-1v-1h-1v-1h1v-1h1z"/>
<path d="M326 271h1v1h1v1h1v1h-1v1h-1v1h-1v-1h-1v-1h-1v-1h1v-1h1z"/>
<path d="M332 271h1v1h1v1h1v1h-1v1h-1v1h-1v-1h-1v-1h-1v-1h1v-1h1z"/>
<path d="M351 271h1v1h1v1h1v1h-1v1h-1v1h-1v-1h-1v-1h-1v-1h1v-1h1z"/>
<path d="M357 271h1v1h1v1h1v1h-1v1h-1v1h-1v-1h-1v-1h-1v-1h1v-1h1z"/>
<path d="M181 277h1v1h1v1h1v1h-1v1h-1v1h-1v-1h-1v-1h-1v-1h1v-1h1z"/>
<path d="M225 277h1v1h1v1h1v1h-1v1h-1v1h-1v-1h-1v-1h-1v-1h1v-1h1z"/>
<path d="M231 277h1v1h1v1h1v1h-1v1h-1v1h-1v-1h-1v-1h-1v-1h1v-1h1z"/>
<path d="M238 277h1v1h1v1h1v1h-1v1h-1v1h-1v-1h-1v-1h-1v-1h1v-1h1z"/>
<path d="M263 277h1v1h1v1h1v1h-1v1h-1v1h-1v-1h-1v-1h-1v-1h1v-1h1z"/>
<path d="M319 277h1v1h1v1h1v1h-1v1h-1v1h-1v-1h-1v-1h-1v-1h1v-1h1z"/>
<path d="M326 277h1v1h1v1h1v1h-1v1h-1v1h-1v-1h-1v-1h-1v-1h1v-1h1z"/>
<path d="M332 277h1v1h1v1h1v1h-1v1h-1v1h-1v-1h-1v-1h-1v-1h1v-1h1z"/>
<path d="M345 277h1v1h1v1h1v1h-1v1h-1v1h-1v-1h-1v-1h-1v-1h1v-1h1z"/>
<path d="M175 284h1v1h1v1h1v1h-1v1h-1v1h-1v-1h-1v-1h-1v-1h1v-1h1z"/>
<path d="M181 284h1v1h1v1h1v1h-1v1h-1v1h-1v-1h-1v-1h-1v-1h1v-1h1z"/>
<path d="M187 284h1v1h1v1h1v1h-1v1h-1v1h-1v-1h-1v-1h-1v-1h1v-1h1z"/>
<path d="M213 284h1v1h1v1h1v1h-1v1h-1v1h-1v-1h-1v-1h-1v-1h1v-1h1z"/>
<path d="M263 284h1v1h1v1h1v1h-1v1h-1v1h-1v-1h-1v-1h-1v-1h1v-1h1z"/>
<path d="M307 284h1v1h1v1h1v1h-1v1h-1v1h-1v-1h-1v-1h-1v-1h1v-1h1z"/>
<path d="M326 284h1v1h1v1h1v1h-1v1h-1v1h-1v-1h-1v-1h-1v-1h1v-1h1z"/>
<path d="M345 284h1v1h1v1h1v1h-1v1h-1v1h-1v-1h-1v-1h-1v-1h1v-1h1z"/>
<path d="M301 290h1v1h1v1h1v1h-1v1h-1v1h-1v-1h-1v-1h-1v-1h1v-1h1z"/>
<path d="M118 296h1v1h1v1h1v1h-1v1h-1v1h-1v-1h-1v-1h-1v-1h1v-1h1z"/>
<path d="M125 296h1v1h1v1h1v1h-1v1h-1v1h-1v-1h-1v-1h-1v-1h1v-1h1z"/>
<path d="M294 296h1v1h1v1h1v1h-1v1h-1v1h-1v-1h-1v-1h-1v-1h1v-1h1z"/>
<path d="M307 296h1v1h1v1h1v1h-1v1h-1v1h-1v-1h-1v-1h-1v-1h1v-1h1z"/>
<path d="M495 296h1v1h1v1h1v1h-1v1h-1v1h-1v-1h-1v-1h-1v-1h1v-1h1z"/>
<path d="M514 296h1v1h1v1h1v1h-1v1h-1v1h-1v-1h-1v-1h-1v-1h1v-1h1z"/>
<path d="M382 303h1v1h1v1h1v1h-1v1h-1v1h-1v-1h-1v-1h-1v-1h1v-1h1z"/>
<path d="M389 303h1v1h1v1h1v1h-1v1h-1v1h-1v-1h-1v-1h-1v-1h1v-1h1z"/>
<path d="M401 303h1v1h1v1h1v1h-1v1h-1v1h-1v-1h-1v-1h-1v-1h1v-1h1z"/>
<path d="M407 303h1v1h1v1h1v1h-1v1h-1v1h-1v-1h-1v-1h-1v-1h1v-1h1z"/>
<path d="M414 303h1v1h1v1h1v1h-1v1h-1v1h-1v-1h-1v-1h-1v-1h1v-1h1z"/>
<path d="M439 303h1v1h1v1h1v1h-1v1h-1v1h-1v-1h-1v-1h-1v-1h1v-1h1z"/>
<path d="M483 303h1v1h1v1h1v1h-1v1h-1v1h-1v-1h-1v-1h-1v-1h1v-1h1z"/>
<path d="M338 309h1v1h1v1h1v1h-1v1h-1v1h-1v-1h-1v-1h-1v-1h1v-1h1z"/>
<path d="M376 309h1v1h1v1h1v1h-1v1h-1v1h-1v-1h-1v-1h-1v-1h1v-1h1z"/>
<path d="M389 309h1v1h1v1h1v1h-1v1h-1v1h-1v-1h-1v-1h-1v-1h1v-1h1z"/>
<path d="M395 309h1v1h1v1h1v1h-1v1h-1v1h-1v-1h-1v-1h-1v-1h1v-1h1z"/>
<path d="M401 309h1v1h1v1h1v1h-1v1h-1v1h-1v-1h-1v-1h-1v-1h1v-1h1z"/>
<path d="M407 309h1v1h1v1h1v1h-1v1h-1v1h-1v-1h-1v-1h-1v-1h1v-1h1z"/>
<path d="M414 309h1v1h1v1h1v1h-1v1h-1v1h-1v-1h-1v-1h-1v-1h1v-1h1z"/>
<path d="M420 309h1v1h1v1h1v1h-1v1h-1v1h-1v-1h-1v-1h-1v-1h1v-1h1z"/>
<path d="M439 309h1v1h1v1h1v1h-1v1h-1v1h-1v-1h-1v-1h-1v-1h1v-1h1z"/>
<path d="M445 309h1v1h1v1h1v1h-1v1h-1v1h-1v-1h-1v-1h-1v-1h1v-1h1z"/>
<path d="M489 309h1v1h1v1h1v1h-1v1h-1v1h-1v-1h-1v-1h-1v-1h1v-1h1z"/>
<path d="M376 315h1v1h1v1h1v1h-1v1h-1v1h-1v-1h-1v-1h-1v-1h1v-1h1z"/>
<path d="M382 315h1v1h1v1h1v1h-1v1h-1v1h-1v-1h-1v-1h-1v-1h1v-1h1z"/>
<path d="M395 315h1v1h1v1h1v1h-1v1h-1v1h-1v-1h-1v-1h-1v-1h1v-1h1z"/>
<path d="M401 315h1v1h1v1h1v1h-1v1h-1v1h-1v-1h-1v-1h-1v-1h1v-1h1z"/>
<path d="M407 315h1v1h1v1h1v1h-1v1h-1v1h-1v-1h-1v-1h-1v-1h1v-1h1z"/>
<path d="M414 315h1v1h1v1h1v1h-1v1h-1v1h-1v-1h-1v-1h-1v-1h1v-1h1z"/>
<path d="M470 315h1v1h1v1h1v1h-1v1h-1v1h-1v-1h-1v-1h-1v-1h1v-1h1z"/>
<path d="M483 315h1v1h1v1h1v1h-1v1h-1v1h-1v-1h-1v-1h-1v-1h1v-1h1z"/>
<path d="M382 321h1v1h1v1h1v1h-1v1h-1v1h-1v-1h-1v-1h-1v-1h1v-1h1z"/>
<path d="M389 321h1v1h1v1h1v1h-1v1h-1v1h-1v-1h-1v-1h-1v-1h1v-1h1z"/>
<path d="M401 321h1v1h1v1h1v1h-1v1h-1v1h-1v-1h-1v-1h-1v-1h1v-1h1z"/>
<path d="M483 321h1v1h1v1h1v1h-1v1h-1v1h-1v-1h-1v-1h-1v-1h1v-1h1z"/>
<path d="M338 328h1v1h1v1h1v1h-1v1h-1v1h-1v-1h-1v-1h-1v-1h1v-1h1z"/>
<path d="M376 328h1v1h1v1h1v1h-1v1h-1v1h-1v-1h-1v-1h-1v-1h1v-1h1z"/>
<path d="M382 328h1v1h1v1h1v1h-1v1h-1v1h-1v-1h-1v-1h-1v-1h1v-1h1z"/>
<path d="M389 328h1v1h1v1h1v1h-1v1h-1v1h-1v-1h-1v-1h-1v-1h1v-1h1z"/>
<path d="M395 328h1v1h1v1h1v1h-1v1h-1v1h-1v-1h-1v-1h-1v-1h1v-1h1z"/>
<path d="M407 328h1v1h1v1h1v1h-1v1h-1v1h-1v-1h-1v-1h-1v-1h1v-1h1z"/>
<path d="M414 328h1v1h1v1h1v1h-1v1h-1v1h-1v-1h-1v-1h-1v-1h1v-1h1z"/>
<path d="M483 328h1v1h1v1h1v1h-1v1h-1v1h-1v-1h-1v-1h-1v-1h1v-1h1z"/>
<path d="M332 334h1v1h1v1h1v1h-1v1h-1v1h-1v-1h-1v-1h-1v-1h1v-1h1z"/>
<path d="M376 334h1v1h1v1h1v1h-1v1h-1v1h-1v-1h-1v-1h-1v-1h1v-1h1z"/>
<path d="M382 334h1v1h1v1h1v1h-1v1h-1v1h-1v-1h-1v-1h-1v-1h1v-1h1z"/>
<path d="M389 334h1v1h1v1h1v1h-1v1h-1v1h-1v-1h-1v-1h-1v-1h1v-1h1z"/>
<path d="M401 334h1v1h1v1h1v1h-1v1h-1v1h-1v-1h-1v-1h-1v-1h1v-1h1z"/>
<path d="M414 334h1v1h1v1h1v1h-1v1h-1v1h-1v-1h-1v-1h-1v-1h1v-1h1z"/>
<path d="M489 334h1v1h1v1h1v1h-1v1h-1v1h-1v-1h-1v-1h-1v-1h1v-1h1z"/>
<path d="M319 340h1v1h1v1h1v1h-1v1h-1v1h-1v-1h-1v-1h-1v-1h1v-1h1z"/>
<path d="M376 340h1v1h1v1h1v1h-1v1h-1v1h-1v-1h-1v-1h-1v-1h1v-1h1z"/>
<path d="M382 340h1v1h1v1h1v1h-1v1h-1v1h-1v-1h-1v-1h-1v-1h1v-1h1z"/>
<path d="M389 340h1v1h1v1h1v1h-1v1h-1v1h-1v-1h-1v-1h-1v-1h1v-1h1z"/>
<path d="M401 340h1v1h1v1h1v1h-1v1h-1v1h-1v-1h-1v-1h-1v-1h1v-1h1z"/>
<path d="M407 340h1v1h1v1h1v1h-1v1h-1v1h-1v-1h-1v-1h-1v-1h1v-1h1z"/>
<path d="M420 340h1v1h1v1h1v1h-1v1h-1v1h-1v-1h-1v-1h-1v-1h1v-1h1z"/>
<path d="M483 340h1v1h1v1h1v1h-1v1h-1v1h-1v-1h-1v-1h-1v-1h1v-1h1z"/>
<path d="M489 340h1v1h1v1h1v1h-1v1h-1v1h-1v-1h-1v-1h-1v-1h1v-1h1z"/>
<path d="M156 347h1v1h1v1h1v1h-1v1h-1v1h-1v-1h-1v-1h-1v-1h1v-1h1z"/>
<path d="M162 347h1v1h1v1h1v1h-1v1h-1v1h-1v-1h-1v-1h-1v-1h1v-1h1z"/>
<path d="M382 347h1v1h1v1h1v1h-1v1h-1v1h-1v-1h-1v-1h-1v-1h1v-1h1z"/>
<path d="M414 347h1v1h1v1h1v1h-1v1h-1v1h-1v-1h-1v-1h-1v-1h1v-1h1z"/>
<path d="M426 347h1v1h1v1h1v1h-1v1h-1v1h-1v-1h-1v-1h-1v-1h1v-1h1z"/>
<path d="M445 347h1v1h1v1h1v1h-1v1h-1v1h-1v-1h-1v-1h-1v-1h1v-1h1z"/>
<path d="M451 347h1v1h1v1h1v1h-1v1h-1v1h-1v-1h-1v-1h-1v-1h1v-1h1z"/>
<path d="M470 347h1v1h1v1h1v1h-1v1h-1v1h-1v-1h-1v-1h-1v-1h1v-1h1z"/>
<path d="M489 347h1v1h1v1h1v1h-1v1h-1v1h-1v-1h-1v-1h-1v-1h1v-1h1z"/>
<path d="M169 353h1v1h1v1h1v1h-1v1h-1v1h-1v-1h-1v-1h-1v-1h1v-1h1z"/>
<path d="M194 353h1v1h1v1h1v1h-1v1h-1v1h-1v-1h-1v-1h-1v-1h1v-1h1z"/>
<path d="M420 353h1v1h1v1h1v1h-1v1h-1v1h-1v-1h-1v-1h-1v-1h1v-1h1z"/>
<path d="M439 353h1v1h1v1h1v1h-1v1h-1v1h-1v-1h-1v-1h-1v-1h1v-1h1z"/>
<path d="M445 353h1v1h1v1h1v1h-1v1h-1v1h-1v-1h-1v-1h-1v-1h1v-1h1z"/>
<path d="M451 353h1v1h1v1h1v1h-1v1h-1v1h-1v-1h-1v-1h-1v-1h1v-1h1z"/>
<path d="M470 353h1v1h1v1h1v1h-1v1h-1v1h-1v-1h-1v-1h-1v-1h1v-1h1z"/>
<path d="M439 359h1v1h1v1h1v1h-1v1h-1v1h-1v-1h-1v-1h-1v-1h1v-1h1z"/>
<path d="M376 365h1v1h1v1h1v1h-1v1h-1v1h-1v-1h-1v-1h-1v-1h1v-1h1z"/>
<path d="M382 365h1v1h1v1h1v1h-1v1h-1v1h-1v-1h-1v-1h-1v-1h1v-1h1z"/>
<path d="M426 365h1v1h1v1h1v1h-1v1h-1v1h-1v-1h-1v-1h-1v-1h1v-1h1z"/>
<path d="M433 365h1v1h1v1h1v1h-1v1h-1v1h-1v-1h-1v-1h-1v-1h1v-1h1z"/>
<path d="M445 365h1v1h1v1h1v1h-1v1h-1v1h-1v-1h-1v-1h-1v-1h1v-1h1z"/>
<path d="M451 365h1v1h1v1h1v1h-1v1h-1v1h-1v-1h-1v-1h-1v-1h1v-1h1z"/>
<path d="M464 365h1v1h1v1h1v1h-1v1h-1v1h-1v-1h-1v-1h-1v-1h1v-1h1z"/>
<path d="M470 365h1v1h1v1h1v1h-1v1h-1v1h-1v-1h-1v-1h-1v-1h1v-1h1z"/>
<path d="M477 365h1v1h1v1h1v1h-1v1h-1v1h-1v-1h-1v-1h-1v-1h1v-1h1z"/>
<path d="M483 365h1v1h1v1h1v1h-1v1h-1v1h-1v-1h-1v-1h-1v-1h1v-1h1z"/>
<path d="M131 372h1v1h1v1h1v1h-1v1h-1v1h-1v-1h-1v-1h-1v-1h1v-1h1z"/>
<path d="M382 372h1v1h1v1h1v1h-1v1h-1v1h-1v-1h-1v-1h-1v-1h1v-1h1z"/>
<path d="M420 372h1v1h1v1h1v1h-1v1h-1v1h-1v-1h-1v-1h-1v-1h1v-1h1z"/>
<path d="M426 372h1v1h1v1h1v1h-1v1h-1v1h-1v-1h-1v-1h-1v-1h1v-1h1z"/>
<path d="M439 372h1v1h1v1h1v1h-1v1h-1v1h-1v-1h-1v-1h-1v-1h1v-1h1z"/>
<path d="M451 372h1v1h1v1h1v1h-1v1h-1v1h-1v-1h-1v-1h-1v-1h1v-1h1z"/>
<path d="M470 372h1v1h1v1h1v1h-1v1h-1v1h-1v-1h-1v-1h-1v-1h1v-1h1z"/>
<path d="M477 372h1v1h1v1h1v1h-1v1h-1v1h-1v-1h-1v-1h-1v-1h1v-1h1z"/>
<path d="M483 372h1v1h1v1h1v1h-1v1h-1v1h-1v-1h-1v-1h-1v-1h1v-1h1z"/>
<path d="M162 378h1v1h1v1h1v1h-1v1h-1v1h-1v-1h-1v-1h-1v-1h1v-1h1z"/>
<path d="M169 378h1v1h1v1h1v1h-1v1h-1v1h-1v-1h-1v-1h-1v-1h1v-1h1z"/>
<path d="M175 378h1v1h1v1h1v1h-1v1h-1v1h-1v-1h-1v-1h-1v-1h1v-1h1z"/>
<path d="M420 378h1v1h1v1h1v1h-1v1h-1v1h-1v-1h-1v-1h-1v-1h1v-1h1z"/>
<path d="M426 378h1v1h1v1h1v1h-1v1h-1v1h-1v-1h-1v-1h-1v-1h1v-1h1z"/>
<path d="M439 378h1v1h1v1h1v1h-1v1h-1v1h-1v-1h-1v-1h-1v-1h1v-1h1z"/>
<path d="M445 378h1v1h1v1h1v1h-1v1h-1v1h-1v-1h-1v-1h-1v-1h1v-1h1z"/>
<path d="M458 378h1v1h1v1h1v1h-1v1h-1v1h-1v-1h-1v-1h-1v-1h1v-1h1z"/>
<path d="M464 378h1v1h1v1h1v1h-1v1h-1v1h-1v-1h-1v-1h-1v-1h1v-1h1z"/>
<path d="M470 378h1v1h1v1h1v1h-1v1h-1v1h-1v-1h-1v-1h-1v-1h1v-1h1z"/>
<path d="M477 378h1v1h1v1h1v1h-1v1h-1v1h-1v-1h-1v-1h-1v-1h1v-1h1z"/>
<path d="M451 384h1v1h1v1h1v1h-1v1h-1v1h-1v-1h-1v-1h-1v-1h1v-1h1z"/>
<path d="M162 391h1v1h1v1h1v1h-1v1h-1v1h-1v-1h-1v-1h-1v-1h1v-1h1z"/>
<path d="M169 391h1v1h1v1h1v1h-1v1h-1v1h-1v-1h-1v-1h-1v-1h1v-1h1z"/>
<path d="M187 391h1v1h1v1h1v1h-1v1h-1v1h-1v-1h-1v-1h-1v-1h1v-1h1z"/>
<path d="M250 391h1v1h1v1h1v1h-1v1h-1v1h-1v-1h-1v-1h-1v-1h1v-1h1z"/>
<path d="M332 391h1v1h1v1h1v1h-1v1h-1v1h-1v-1h-1v-1h-1v-1h1v-1h1z"/>
<path d="M439 391h1v1h1v1h1v1h-1v1h-1v1h-1v-1h-1v-1h-1v-1h1v-1h1z"/>
<path d="M451 391h1v1h1v1h1v1h-1v1h-1v1h-1v-1h-1v-1h-1v-1h1v-1h1z"/>
<path d="M389 397h1v1h1v1h1v1h-1v1h-1v1h-1v-1h-1v-1h-1v-1h1v-1h1z"/>
<path d="M420 397h1v1h1v1h1v1h-1v1h-1v1h-1v-1h-1v-1h-1v-1h1v-1h1z"/>
<path d="M426 397h1v1h1v1h1v1h-1v1h-1v1h-1v-1h-1v-1h-1v-1h1v-1h1z"/>
<path d="M439 397h1v1h1v1h1v1h-1v1h-1v1h-1v-1h-1v-1h-1v-1h1v-1h1z"/>
<path d="M445 397h1v1h1v1h1v1h-1v1h-1v1h-1v-1h-1v-1h-1v-1h1v-1h1z"/>
<path d="M451 397h1v1h1v1h1v1h-1v1h-1v1h-1v-1h-1v-1h-1v-1h1v-1h1z"/>
<path d="M477 397h1v1h1v1h1v1h-1v1h-1v1h-1v-1h-1v-1h-1v-1h1v-1h1z"/>
<path d="M483 397h1v1h1v1h1v1h-1v1h-1v1h-1v-1h-1v-1h-1v-1h1v-1h1z"/>
<path d="M162 403h1v1h1v1h1v1h-1v1h-1v1h-1v-1h-1v-1h-1v-1h1v-1h1z"/>
<path d="M175 403h1v1h1v1h1v1h-1v1h-1v1h-1v-1h-1v-1h-1v-1h1v-1h1z"/>
<path d="M439 403h1v1h1v1h1v1h-1v1h-1v1h-1v-1h-1v-1h-1v-1h1v-1h1z"/>
<path d="M445 403h1v1h1v1h1v1h-1v1h-1v1h-1v-1h-1v-1h-1v-1h1v-1h1z"/>
<path d="M451 403h1v1h1v1h1v1h-1v1h-1v1h-1v-1h-1v-1h-1v-1h1v-1h1z"/>
<path d="M470 403h1v1h1v1h1v1h-1v1h-1v1h-1v-1h-1v-1h-1v-1h1v-1h1z"/>
<path d="M483 403h1v1h1v1h1v1h-1v1h-1v1h-1v-1h-1v-1h-1v-1h1v-1h1z"/>
<path d="M376 409h1v1h1v1h1v1h-1v1h-1v1h-1v-1h-1v-1h-1v-1h1v-1h1z"/>
<path d="M389 409h1v1h1v1h1v1h-1v1h-1v1h-1v-1h-1v-1h-1v-1h1v-1h1z"/>
<path d="M395 409h1v1h1v1h1v1h-1v1h-1v1h-1v-1h-1v-1h-1v-1h1v-1h1z"/>
<path d="M401 409h1v1h1v1h1v1h-1v1h-1v1h-1v-1h-1v-1h-1v-1h1v-1h1z"/>
<path d="M414 409h1v1h1v1h1v1h-1v1h-1v1h-1v-1h-1v-1h-1v-1h1v-1h1z"/>
<path d="M439 409h1v1h1v1h1v1h-1v1h-1v1h-1v-1h-1v-1h-1v-1h1v-1h1z"/>
<path d="M445 409h1v1h1v1h1v1h-1v1h-1v1h-1v-1h-1v-1h-1v-1h1v-1h1z"/>
<path d="M470 409h1v1h1v1h1v1h-1v1h-1v1h-1v-1h-1v-1h-1v-1h1v-1h1z"/>
<path d="M477 409h1v1h1v1h1v1h-1v1h-1v1h-1v-1h-1v-1h-1v-1h1v-1h1z"/>
<path d="M156 416h1v1h1v1h1v1h-1v1h-1v1h-1v-1h-1v-1h-1v-1h1v-1h1z"/>
<path d="M162 416h1v1h1v1h1v1h-1v1h-1v1h-1v-1h-1v-1h-1v-1h1v-1h1z"/>
<path d="M382 416h1v1h1v1h1v1h-1v1h-1v1h-1v-1h-1v-1h-1v-1h1v-1h1z"/>
<path d="M407 416h1v1h1v1h1v1h-1v1h-1v1h-1v-1h-1v-1h-1v-1h1v-1h1z"/>
<path d="M414 416h1v1h1v1h1v1h-1v1h-1v1h-1v-1h-1v-1h-1v-1h1v-1h1z"/>
<path d="M420 416h1v1h1v1h1v1h-1v1h-1v1h-1v-1h-1v-1h-1v-1h1v-1h1z"/>
<path d="M118 422h1v1h1v1h1v1h-1v1h-1v1h-1v-1h-1v-1h-1v-1h1v-1h1z"/>
<path d="M288 422h1v1h1v1h1v1h-1v1h-1v1h-1v-1h-1v-1h-1v-1h1v-1h1z"/>
<path d="M370 422h1v1h1v1h1v1h-1v1h-1v1h-1v-1h-1v-1h-1v-1h1v-1h1z"/>
<path d="M502 422h1v1h1v1h1v1h-1v1h-1v1h-1v-1h-1v-1h-1v-1h1v-1h1z"/>
<path d="M508 422h1v1h1v1h1v1h-1v1h-1v1h-1v-1h-1v-1h-1v-1h1v-1h1z"/>
<path d="M514 422h1v1h1v1h1v1h-1v1h-1v1h-1v-1h-1v-1h-1v-1h1v-1h1z"/>
<path d="M118 428h1v1h1v1h1v1h-1v1h-1v1h-1v-1h-1v-1h-1v-1h1v-1h1z"/>
<path d="M495 428h1v1h1v1h1v1h-1v1h-1v1h-1v-1h-1v-1h-1v-1h1v-1h1z"/>
<path d="M508 428h1v1h1v1h1v1h-1v1h-1v1h-1v-1h-1v-1h-1v-1h1v-1h1z"/>
<path d="M514 428h1v1h1v1h1v1h-1v1h-1v1h-1v-1h-1v-1h-1v-1h1v-1h1z"/>
<path d="M521 428h1v1h1v1h1v1h-1v1h-1v1h-1v-1h-1v-1h-1v-1h1v-1h1z"/>
<path d="M533 428h1v1h1v1h1v1h-1v1h-1v1h-1v-1h-1v-1h-1v-1h1v-1h1z"/>
<path d="M118 435h1v1h1v1h1v1h-1v1h-1v1h-1v-1h-1v-1h-1v-1h1v-1h1z"/>
<path d="M495 435h1v1h1v1h1v1h-1v1h-1v1h-1v-1h-1v-1h-1v-1h1v-1h1z"/>
<path d="M502 435h1v1h1v1h1v1h-1v1h-1v1h-1v-1h-1v-1h-1v-1h1v-1h1z"/>
<path d="M514 435h1v1h1v1h1v1h-1v1h-1v1h-1v-1h-1v-1h-1v-1h1v-1h1z"/>
<path d="M521 435h1v1h1v1h1v1h-1v1h-1v1h-1v-1h-1v-1h-1v-1h1v-1h1z"/>
<path d="M527 435h1v1h1v1h1v1h-1v1h-1v1h-1v-1h-1v-1h-1v-1h1v-1h1z"/>
<path d="M533 435h1v1h1v1h1v1h-1v1h-1v1h-1v-1h-1v-1h-1v-1h1v-1h1z"/>
<path d="M118 441h1v1h1v1h1v1h-1v1h-1v1h-1v-1h-1v-1h-1v-1h1v-1h1z"/>
<path d="M125 441h1v1h1v1h1v1h-1v1h-1v1h-1v-1h-1v-1h-1v-1h1v-1h1z"/>
<path d="M294 441h1v1h1v1h1v1h-1v1h-1v1h-1v-1h-1v-1h-1v-1h1v-1h1z"/>
<path d="M370 441h1v1h1v1h1v1h-1v1h-1v1h-1v-1h-1v-1h-1v-1h1v-1h1z"/>
<path d="M495 441h1v1h1v1h1v1h-1v1h-1v1h-1v-1h-1v-1h-1v-1h1v-1h1z"/>
<path d="M502 441h1v1h1v1h1v1h-1v1h-1v1h-1v-1h-1v-1h-1v-1h1v-1h1z"/>
<path d="M508 441h1v1h1v1h1v1h-1v1h-1v1h-1v-1h-1v-1h-1v-1h1v-1h1z"/>
<path d="M137 447h1v1h1v1h1v1h-1v1h-1v1h-1v-1h-1v-1h-1v-1h1v-1h1z"/>
<path d="M301 447h1v1h1v1h1v1h-1v1h-1v1h-1v-1h-1v-1h-1v-1h1v-1h1z"/>
<path d="M502 447h1v1h1v1h1v1h-1v1h-1v1h-1v-1h-1v-1h-1v-1h1v-1h1z"/>
<path d="M508 447h1v1h1v1h1v1h-1v1h-1v1h-1v-1h-1v-1h-1v-1h1v-1h1z"/>
<path d="M527 447h1v1h1v1h1v1h-1v1h-1v1h-1v-1h-1v-1h-1v-1h1v-1h1z"/>
<path d="M533 447h1v1h1v1h1v1h-1v1h-1v1h-1v-1h-1v-1h-1v-1h1v-1h1z"/>
<path d="M539 447h1v1h1v1h1v1h-1v1h-1v1h-1v-1h-1v-1h-1v-1h1v-1h1z"/>
<path d="M508 453h1v1h1v1h1v1h-1v1h-1v1h-1v-1h-1v-1h-1v-1h1v-1h1z"/>
<path d="M521 453h1v1h1v1h1v1h-1v1h-1v1h-1v-1h-1v-1h-1v-1h1v-1h1z"/>
<path d="M533 453h1v1h1v1h1v1h-1v1h-1v1h-1v-1h-1v-1h-1v-1h1v-1h1z"/>
<path d="M539 453h1v1h1v1h1v1h-1v1h-1v1h-1v-1h-1v-1h-1v-1h1v-1h1z"/>
<path d="M546 453h1v1h1v1h1v1h-1v1h-1v1h-1v-1h-1v-1h-1v-1h1v-1h1z"/>
<path d="M137 460h1v1h1v1h1v1h-1v1h-1v1h-1v-1h-1v-1h-1v-1h1v-1h1z"/>
<path d="M143 460h1v1h1v1h1v1h-1v1h-1v1h-1v-1h-1v-1h-1v-1h1v-1h1z"/>
<path d="M502 460h1v1h1v1h1v1h-1v1h-1v1h-1v-1h-1v-1h-1v-1h1v-1h1z"/>
<path d="M508 460h1v1h1v1h1v1h-1v1h-1v1h-1v-1h-1v-1h-1v-1h1v-1h1z"/>
<path d="M521 460h1v1h1v1h1v1h-1v1h-1v1h-1v-1h-1v-1h-1v-1h1v-1h1z"/>
<path d="M527 460h1v1h1v1h1v1h-1v1h-1v1h-1v-1h-1v-1h-1v-1h1v-1h1z"/>
<path d="M539 460h1v1h1v1h1v1h-1v1h-1v1h-1v-1h-1v-1h-1v-1h1v-1h1z"/>
<path d="M546 460h1v1h1v1h1v1h-1v1h-1v1h-1v-1h-1v-1h-1v-1h1v-1h1z"/>
<path d="M521 466h1v1h1v1h1v1h-1v1h-1v1h-1v-1h-1v-1h-1v-1h1v-1h1z"/>
<path d="M527 466h1v1h1v1h1v1h-1v1h-1v1h-1v-1h-1v-1h-1v-1h1v-1h1z"/>
<path d="M533 466h1v1h1v1h1v1h-1v1h-1v1h-1v-1h-1v-1h-1v-1h1v-1h1z"/>
<path d="M546 466h1v1h1v1h1v1h-1v1h-1v1h-1v-1h-1v-1h-1v-1h1v-1h1z"/>
<path d="M527 472h1v1h1v1h1v1h-1v1h-1v1h-1v-1h-1v-1h-1v-1h1v-1h1z"/>
<path d="M533 472h1v1h1v1h1v1h-1v1h-1v1h-1v-1h-1v-1h-1v-1h1v-1h1z"/>
<path d="M539 472h1v1h1v1h1v1h-1v1h-1v1h-1v-1h-1v-1h-1v-1h1v-1h1z"/>
</g>
<g stroke="#000" stroke-width="1" fill="none" shape-rendering="crispEdges">
<rect x="112.5" y="41.5" width="440" height="440"/>
<path d="M112.5 481.5v-5M112.5 41.5v5"/>
<path d="M112.5 41.5h5M552.5 41.5h-5"/>
<path d="M175.5 481.5v-5M175.5 41.5v5"/>
<path d="M112.5 103.5h5M552.5 103.5h-5"/>
<path d="M238.5 481.5v-5M238.5 41.5v5"/>
<path d="M112.5 166.5h5M552.5 166.5h-5"/>
<path d="M301.5 481.5v-5M301.5 41.5v5"/>
<path d="M112.5 229.5h5M552.5 229.5h-5"/>
<path d="M363.5 481.5v-5M363.5 41.5v5"/>
<path d="M112.5 292.5h5M552.5 292.5h-5"/>
<path d="M426.5 481.5v-5M426.5 41.5v5"/>
<path d="M112.5 355.5h5M552.5 355.5h-5"/>
<path d="M489.5 481.5v-5M489.5 41.5v5"/>
<path d="M112.5 418.5h5M552.5 418.5h-5"/>
<path d="M552.5 481.5v-5M552.5 41.5v5"/>
<path d="M112.5 481.5h5M552.5 481.5h-5"/>
</g>
<g font-size="12px" filter="url(#gs)">
<text x="112.5" y="495.5" text-anchor="middle">0</text>
<text x="107.5" y="44.8" text-anchor="end">0</text>
<text x="175.4" y="495.5" text-anchor="middle">10</text>
<text x="107.5" y="107.7" text-anchor="end">10</text>
<text x="238.2" y="495.5" text-anchor="middle">20</text>
<text x="107.5" y="170.5" text-anchor="end">20</text>
<text x="301.1" y="495.5" text-anchor="middle">30</text>
<text x="107.5" y="233.4" text-anchor="end">30</text>
<text x="363.9" y="495.5" text-anchor="middle">40</text>
<text x="107.5" y="296.2" text-anchor="end">40</text>
<text x="426.8" y="495.5" text-anchor="middle">50</text>
<text x="107.5" y="359.1" text-anchor="end">50</text>
<text x="489.6" y="495.5" text-anchor="middle">60</text>
<text x="107.5" y="421.9" text-anchor="end">60</text>
<text x="552.5" y="495.5" text-anchor="middle">70</text>
<text x="107.5" y="484.8" text-anchor="end">70</text>
<text x="200.6" y="31.6" textLength="259.6" lengthAdjust="spacing">Reordered KMN Neighbors over Distance Matrix</text>
<text x="306" y="511.3" textLength="49" lengthAdjust="spacing">Samples</text>
</g>
<g shape-rendering="crispEdges">
<rect x="599" y="474.62" width="41" height="7.38" fill="#000087"/>
<rect x="599" y="467.75" width="41" height="7.38" fill="#000097"/>
<rect x="599" y="460.88" width="41" height="7.38" fill="#0000a7"/>
<rect x="599" y="454.00" width="41" height="7.38" fill="#0000b7"/>
<rect x="599" y="447.12" width="41" height="7.38" fill="#0000c7"/>
<rect x="599" y="440.25" width="41" height="7.38" fill="#0000d7"/>
<rect x="599" y="433.38" width="41" height="7.38" fill="#0000e7"/>
<rect x="599" y="426.50" width="41" height="7.38" fill="#0000f7"/>
<rect x="599" y="419.62" width="41" height="7.38" fill="#0008ff"/>
<rect x="599" y="412.75" width="41" height="7.38" fill="#0018ff"/>
<rect x="599" y="405.88" width="41" height="7.38" fill="#0028ff"/>
<rect x="599" y="399.00" width="41" height="7.38" fill="#0038ff"/>
<rect x="599" y="392.12" width="41" height="7.38" fill="#0048ff"/>
<rect x="599" y="385.25" width="41" height="7.38" fill="#0058ff"/>
<rect x="599" y="378.38" width="41" height="7.38" fill="#0068ff"/>
<rect x="599" y="371.50" width="41" height="7.38" fill="#0078ff"/>
<rect x="599" y="364.62" width="41" height="7.38" fill="#0087ff"/>
<rect x="599" y="357.75" width="41" height="7.38" fill="#0097ff"/>
<rect x="599" y="350.88" width="41" height="7.38" fill="#00a7ff"/>
<rect x="599" y="344.00" width="41" height="7.38" fill="#00b7ff"/>
<rect x="599" y="337.12" width="41" height="7.38" fill="#00c7ff"/>
<rect x="599" y="330.25" width="41" height="7.38" fill="#00d7ff"/>
<rect x="599" y="323.38" width="41" height="7.38" fill="#00e7ff"/>
<rect x="599" y="316.50" width="41" height="7.38" fill="#00f7ff"/>
<rect x="599" y="309.62" width="41" height="7.38" fill="#08fff7"/>
<rect x="599" y="302.75" width="41" height="7.38" fill="#18ffe7"/>
<rect x="599" y="295.88" width="41" height="7.38" fill="#28ffd7"/>
<rect x="599" y="289.00" width="41" height="7.38" fill="#38ffc7"/>
<rect x="599" y="282.12" width="41" height="7.38" fill="#48ffb7"/>
<rect x="599" y="275.25" width="41" height="7.38" fill="#58ffa7"/>
<rect x="599" y="268.38" width="41" height="7.38" fill="#68ff97"/>
<rect x="599" y="261.50" width="41" height="7.38" fill="#78ff87"/>
<rect x="599" y="254.62" width="41" height="7.38" fill="#87ff78"/>
<rect x="599" y="247.75" width="41" height="7.38" fill="#97ff68"/>
<rect x="599" y="240.88" width="41" height="7.38" fill="#a7ff58"/>
<rect x="599" y="234.00" width="41" height="7.38" fill="#b7ff48"/>
<rect x="599" y="227.12" width="41" height="7.38" fill="#c7ff38"/>
<rect x="599" y="220.25" width="41" height="7.38" fill="#d7ff28"/>
<rect x="599" y="213.38" width="41" height="7.38" fill="#e7ff18"/>
<rect x="599" y="206.50" width="41" height="7.38" fill="#f7ff08"/>
<rect x="599" y="199.62" width="41" height="7.38" fill="#fff700"/>
<rect x="599" y="192.75" width="41" height="7.38" fill="#ffe700"/>
<rect x="599" y="185.88" width="41" height="7.38" fill="#ffd700"/>
<rect x="599" y="179.00" width="41" height="7.38" fill="#ffc700"/>
<rect x="599" y="172.12" width="41" height="7.38" fill="#ffb700"/>
<rect x="599" y="165.25" width="41" height="7.38" fill="#ffa700"/>
<rect x="599" y="158.38" width="41" height="7.38" fill="#ff9700"/>
<rect x="599" y="151.50" width="41" height="7.38" fill="#ff8700"/>
<rect x="599" y="144.62" width="41" height="7.38" fill="#ff7800"/>
<rect x="599" y="137.75" width="41" height="7.38" fill="#ff6800"/>
<rect x="599" y="130.88" width="41" height="7.38" fill="#ff5800"/>
<rect x="599" y="124.00" width="41" height="7.38" fill="#ff4800"/>
<rect x="599" y="117.12" width="41" height="7.38" fill="#ff3800"/>
<rect x="599" y="110.25" width="41" height="7.38" fill="#ff2800"/>
<rect x="599" y="103.38" width="41" height="7.38" fill="#ff1800"/>
<rect x="599" y="96.50" width="41" height="7.38" fill="#ff0800"/>
<rect x="599" y="89.62" width="41" height="7.38" fill="#f70000"/>
<rect x="599" y="82.75" width="41" height="7.38" fill="#e70000"/>
<rect x="599" y="75.88" width="41" height="7.38" fill="#d70000"/>
<rect x="599" y="69.00" width="41" height="7.38" fill="#c70000"/>
<rect x="599" y="62.12" width="41" height="7.38" fill="#b70000"/>
<rect x="599" y="55.25" width="41" height="7.38" fill="#a70000"/>
<rect x="599" y="48.38" width="41" height="7.38" fill="#970000"/>
<rect x="599" y="41.50" width="41" height="7.38" fill="#870000"/>
</g>
<g stroke="#000" stroke-width="1" fill="none" shape-rendering="crispEdges">
<rect x="599.5" y="41.5" width="41" height="440"/>
<path d="M599.5 481.5h4M640.5 481.5h-5"/>
<path d="M599.5 435.5h4M640.5 435.5h-5"/>
<path d="M599.5 388.5h4M640.5 388.5h-5"/>
<path d="M599.5 342.5h4M640.5 342.5h-5"/>
<path d="M599.5 295.5h4M640.5 295.5h-5"/>
<path d="M599.5 249.5h4M640.5 249.5h-5"/>
<path d="M599.5 202.5h4M640.5 202.5h-5"/>
<path d="M599.5 156.5h4M640.5 156.5h-5"/>
<path d="M599.5 109.5h4M640.5 109.5h-5"/>
<path d="M599.5 63.5h4M640.5 63.5h-5"/>
</g>
<g font-size="12px" filter="url(#gs)">
<text x="643.2" y="485.3">0</text>
<text x="643.2" y="438.9">0.2</text>
<text x="643.2" y="392.4">0.4</text>
<text x="643.2" y="346.0">0.6</text>
<text x="643.2" y="299.5">0.8</text>
<text x="643.2" y="253.1">1</text>
<text x="643.2" y="206.7">1.2</text>
<text x="643.2" y="160.2">1.4</text>
<text x="643.2" y="113.8">1.6</text>
<text x="643.2" y="67.4">1.8</text>
</g>
</svg></body></html>
